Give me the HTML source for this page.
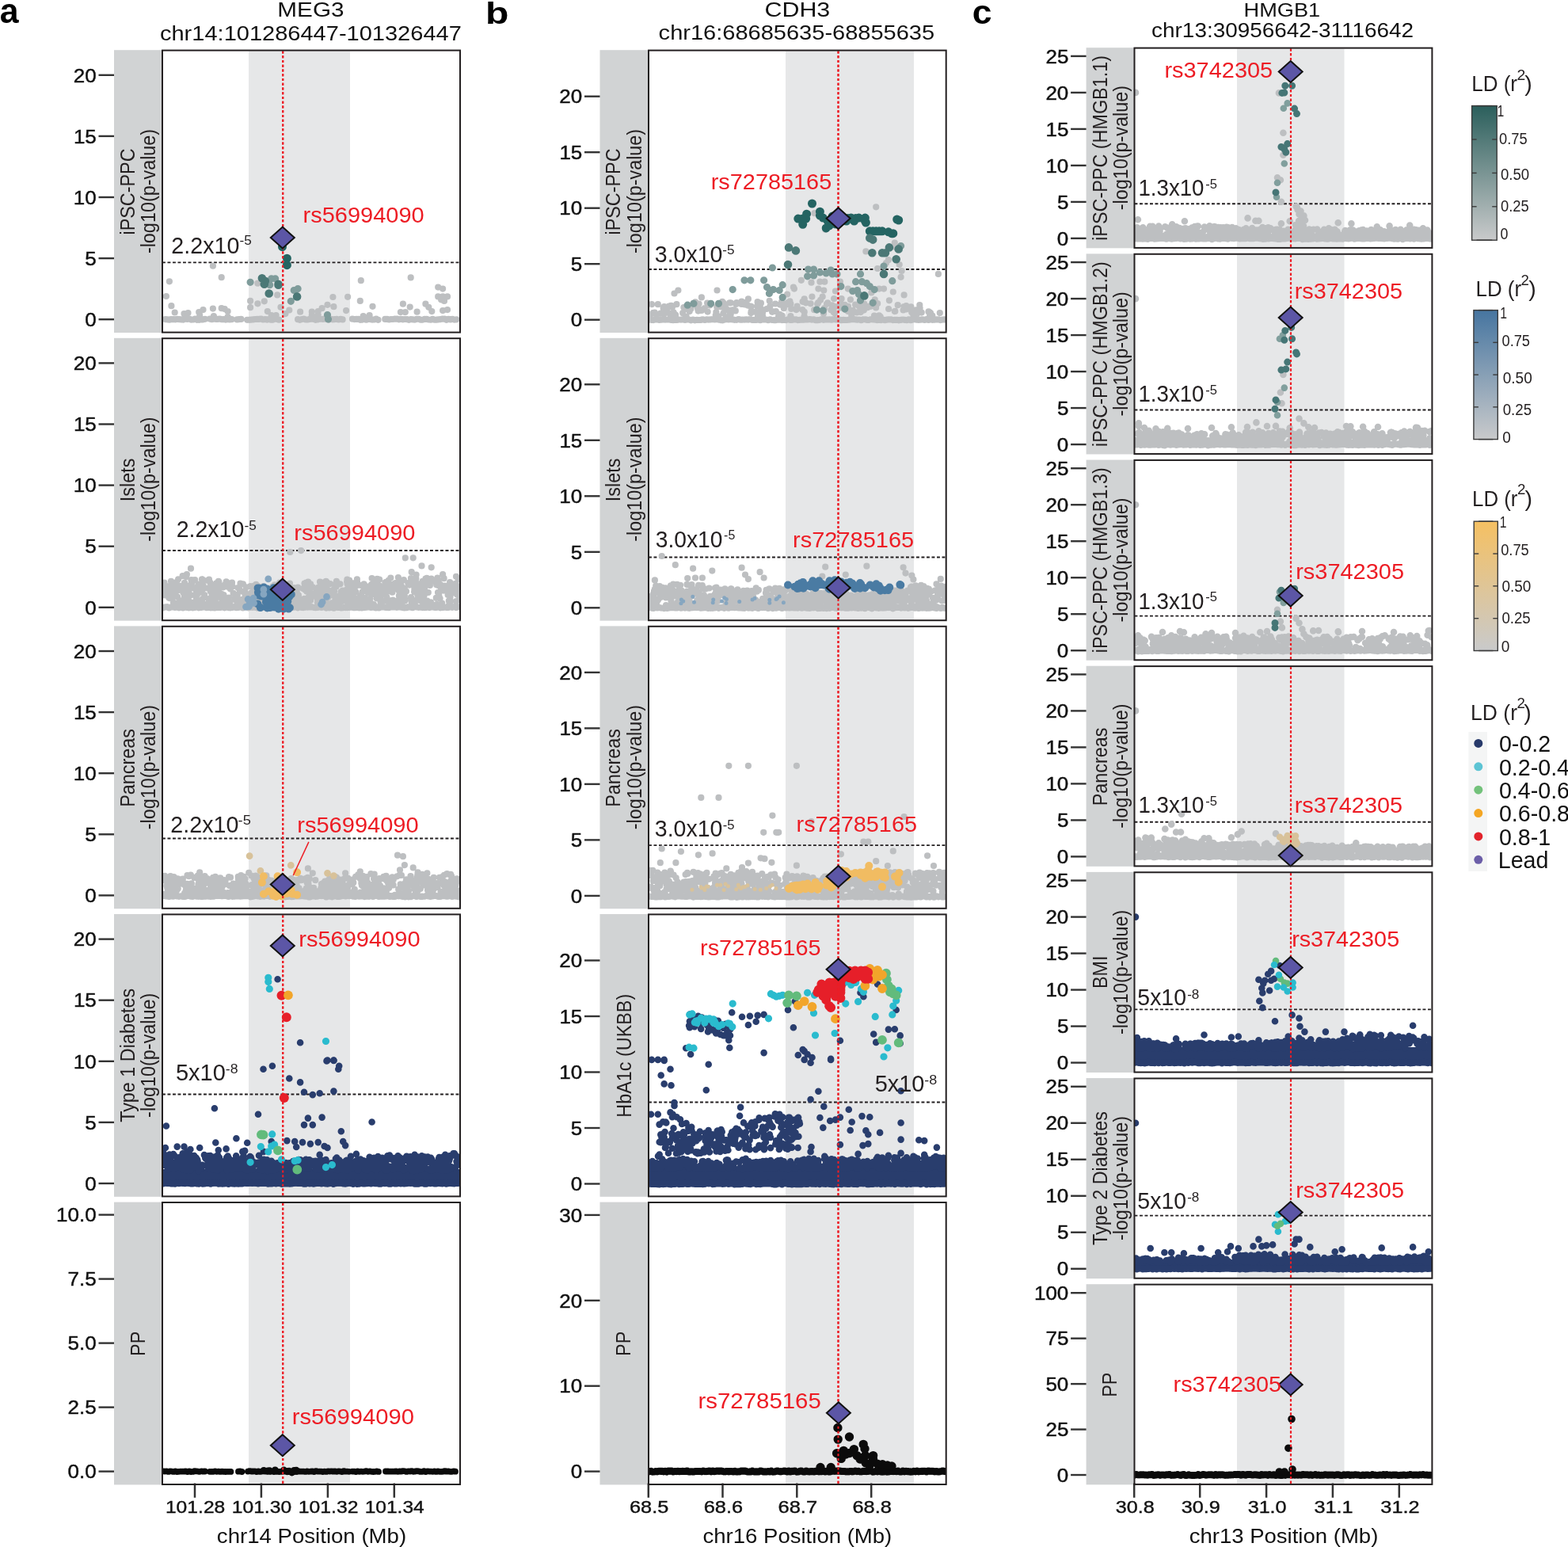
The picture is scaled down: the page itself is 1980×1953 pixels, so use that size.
<!DOCTYPE html>
<html><head><meta charset="utf-8"><style>
html,body{margin:0;padding:0;background:#fff;}
svg{display:block;}
text{font-family:"Liberation Sans",Arial,sans-serif;}
</style></head><body>
<svg width="1980" height="1953" viewBox="0 0 1980 1953">
<rect width="1980" height="1953" fill="#fff"/>
<rect x="144" y="63.2" width="62" height="356.8" fill="#d1d3d4"/>
<rect x="205" y="63.6" width="376" height="356" fill="#fff"/>
<rect x="314" y="64.6" width="128" height="354" fill="#e6e7e8"/>
<line x1="124.5" y1="403.2" x2="144" y2="403.2" stroke="#333" stroke-width="2.4"/>
<text transform="translate(107.24,411.9) scale(1.0700,1)" font-size="24.3" fill="#111" stroke="#111" stroke-width="0.45">0</text>
<line x1="124.5" y1="326.1" x2="144" y2="326.1" stroke="#333" stroke-width="2.4"/>
<text transform="translate(107.31,334.8) scale(1.0700,1)" font-size="24.3" fill="#111" stroke="#111" stroke-width="0.45">5</text>
<line x1="124.5" y1="249" x2="144" y2="249" stroke="#333" stroke-width="2.4"/>
<text transform="translate(92.81,257.7) scale(1.0700,1)" font-size="24.3" fill="#111" stroke="#111" stroke-width="0.45">10</text>
<line x1="124.5" y1="171.9" x2="144" y2="171.9" stroke="#333" stroke-width="2.4"/>
<text transform="translate(92.88,180.6) scale(1.0700,1)" font-size="24.3" fill="#111" stroke="#111" stroke-width="0.45">15</text>
<line x1="124.5" y1="94.8" x2="144" y2="94.8" stroke="#333" stroke-width="2.4"/>
<text transform="translate(92.81,103.5) scale(1.0700,1)" font-size="24.3" fill="#111" stroke="#111" stroke-width="0.45">20</text>
<line x1="357.2" y1="64.6" x2="357.2" y2="418.6" stroke="#ed1c24" stroke-width="2.1" stroke-dasharray="3.0 2.75"/>
<rect x="144" y="426.8" width="62" height="356.8" fill="#d1d3d4"/>
<rect x="205" y="427.2" width="376" height="356" fill="#fff"/>
<rect x="314" y="428.2" width="128" height="354" fill="#e6e7e8"/>
<line x1="124.5" y1="766.8" x2="144" y2="766.8" stroke="#333" stroke-width="2.4"/>
<text transform="translate(107.24,775.5) scale(1.0700,1)" font-size="24.3" fill="#111" stroke="#111" stroke-width="0.45">0</text>
<line x1="124.5" y1="689.7" x2="144" y2="689.7" stroke="#333" stroke-width="2.4"/>
<text transform="translate(107.31,698.4) scale(1.0700,1)" font-size="24.3" fill="#111" stroke="#111" stroke-width="0.45">5</text>
<line x1="124.5" y1="612.6" x2="144" y2="612.6" stroke="#333" stroke-width="2.4"/>
<text transform="translate(92.81,621.3) scale(1.0700,1)" font-size="24.3" fill="#111" stroke="#111" stroke-width="0.45">10</text>
<line x1="124.5" y1="535.5" x2="144" y2="535.5" stroke="#333" stroke-width="2.4"/>
<text transform="translate(92.88,544.2) scale(1.0700,1)" font-size="24.3" fill="#111" stroke="#111" stroke-width="0.45">15</text>
<line x1="124.5" y1="458.4" x2="144" y2="458.4" stroke="#333" stroke-width="2.4"/>
<text transform="translate(92.81,467.1) scale(1.0700,1)" font-size="24.3" fill="#111" stroke="#111" stroke-width="0.45">20</text>
<line x1="357.2" y1="428.2" x2="357.2" y2="782.2" stroke="#ed1c24" stroke-width="2.1" stroke-dasharray="3.0 2.75"/>
<rect x="144" y="790.4" width="62" height="356.8" fill="#d1d3d4"/>
<rect x="205" y="790.8" width="376" height="356" fill="#fff"/>
<rect x="314" y="791.8" width="128" height="354" fill="#e6e7e8"/>
<line x1="124.5" y1="1130.4" x2="144" y2="1130.4" stroke="#333" stroke-width="2.4"/>
<text transform="translate(107.24,1139.1) scale(1.0700,1)" font-size="24.3" fill="#111" stroke="#111" stroke-width="0.45">0</text>
<line x1="124.5" y1="1053.3" x2="144" y2="1053.3" stroke="#333" stroke-width="2.4"/>
<text transform="translate(107.31,1062) scale(1.0700,1)" font-size="24.3" fill="#111" stroke="#111" stroke-width="0.45">5</text>
<line x1="124.5" y1="976.2" x2="144" y2="976.2" stroke="#333" stroke-width="2.4"/>
<text transform="translate(92.81,984.9) scale(1.0700,1)" font-size="24.3" fill="#111" stroke="#111" stroke-width="0.45">10</text>
<line x1="124.5" y1="899.1" x2="144" y2="899.1" stroke="#333" stroke-width="2.4"/>
<text transform="translate(92.88,907.8) scale(1.0700,1)" font-size="24.3" fill="#111" stroke="#111" stroke-width="0.45">15</text>
<line x1="124.5" y1="822" x2="144" y2="822" stroke="#333" stroke-width="2.4"/>
<text transform="translate(92.81,830.7) scale(1.0700,1)" font-size="24.3" fill="#111" stroke="#111" stroke-width="0.45">20</text>
<line x1="357.2" y1="791.8" x2="357.2" y2="1145.8" stroke="#ed1c24" stroke-width="2.1" stroke-dasharray="3.0 2.75"/>
<rect x="144" y="1154" width="62" height="356.8" fill="#d1d3d4"/>
<rect x="205" y="1154.4" width="376" height="356" fill="#fff"/>
<rect x="314" y="1155.4" width="128" height="354" fill="#e6e7e8"/>
<line x1="124.5" y1="1494" x2="144" y2="1494" stroke="#333" stroke-width="2.4"/>
<text transform="translate(107.24,1502.7) scale(1.0700,1)" font-size="24.3" fill="#111" stroke="#111" stroke-width="0.45">0</text>
<line x1="124.5" y1="1416.9" x2="144" y2="1416.9" stroke="#333" stroke-width="2.4"/>
<text transform="translate(107.31,1425.6) scale(1.0700,1)" font-size="24.3" fill="#111" stroke="#111" stroke-width="0.45">5</text>
<line x1="124.5" y1="1339.8" x2="144" y2="1339.8" stroke="#333" stroke-width="2.4"/>
<text transform="translate(92.81,1348.5) scale(1.0700,1)" font-size="24.3" fill="#111" stroke="#111" stroke-width="0.45">10</text>
<line x1="124.5" y1="1262.7" x2="144" y2="1262.7" stroke="#333" stroke-width="2.4"/>
<text transform="translate(92.88,1271.4) scale(1.0700,1)" font-size="24.3" fill="#111" stroke="#111" stroke-width="0.45">15</text>
<line x1="124.5" y1="1185.6" x2="144" y2="1185.6" stroke="#333" stroke-width="2.4"/>
<text transform="translate(92.81,1194.3) scale(1.0700,1)" font-size="24.3" fill="#111" stroke="#111" stroke-width="0.45">20</text>
<line x1="357.2" y1="1155.4" x2="357.2" y2="1509.4" stroke="#ed1c24" stroke-width="2.1" stroke-dasharray="3.0 2.75"/>
<rect x="144" y="1517.6" width="62" height="356.8" fill="#d1d3d4"/>
<rect x="205" y="1518" width="376" height="356" fill="#fff"/>
<rect x="314" y="1519" width="128" height="354" fill="#e6e7e8"/>
<line x1="124.5" y1="1857.6" x2="144" y2="1857.6" stroke="#333" stroke-width="2.4"/>
<text transform="translate(85.53,1866.3) scale(1.0700,1)" font-size="24.3" fill="#111" stroke="#111" stroke-width="0.45">0.0</text>
<line x1="124.5" y1="1776.6" x2="144" y2="1776.6" stroke="#333" stroke-width="2.4"/>
<text transform="translate(85.6,1785.3) scale(1.0700,1)" font-size="24.3" fill="#111" stroke="#111" stroke-width="0.45">2.5</text>
<line x1="124.5" y1="1695.6" x2="144" y2="1695.6" stroke="#333" stroke-width="2.4"/>
<text transform="translate(85.53,1704.3) scale(1.0700,1)" font-size="24.3" fill="#111" stroke="#111" stroke-width="0.45">5.0</text>
<line x1="124.5" y1="1614.6" x2="144" y2="1614.6" stroke="#333" stroke-width="2.4"/>
<text transform="translate(85.6,1623.3) scale(1.0700,1)" font-size="24.3" fill="#111" stroke="#111" stroke-width="0.45">7.5</text>
<line x1="124.5" y1="1533.6" x2="144" y2="1533.6" stroke="#333" stroke-width="2.4"/>
<text transform="translate(71.1,1542.3) scale(1.0700,1)" font-size="24.3" fill="#111" stroke="#111" stroke-width="0.45">10.0</text>
<line x1="357.2" y1="1519" x2="357.2" y2="1873" stroke="#ed1c24" stroke-width="2.1" stroke-dasharray="3.0 2.75"/>
<rect x="757.5" y="63.2" width="62.3" height="356.8" fill="#d1d3d4"/>
<rect x="819" y="63.6" width="375.7" height="356" fill="#fff"/>
<rect x="992" y="64.6" width="162" height="354" fill="#e6e7e8"/>
<line x1="738" y1="403.7" x2="757.5" y2="403.7" stroke="#333" stroke-width="2.4"/>
<text transform="translate(720.74,412.4) scale(1.0700,1)" font-size="24.3" fill="#111" stroke="#111" stroke-width="0.45">0</text>
<line x1="738" y1="333.2" x2="757.5" y2="333.2" stroke="#333" stroke-width="2.4"/>
<text transform="translate(720.81,341.9) scale(1.0700,1)" font-size="24.3" fill="#111" stroke="#111" stroke-width="0.45">5</text>
<line x1="738" y1="262.7" x2="757.5" y2="262.7" stroke="#333" stroke-width="2.4"/>
<text transform="translate(706.31,271.4) scale(1.0700,1)" font-size="24.3" fill="#111" stroke="#111" stroke-width="0.45">10</text>
<line x1="738" y1="192.2" x2="757.5" y2="192.2" stroke="#333" stroke-width="2.4"/>
<text transform="translate(706.38,200.9) scale(1.0700,1)" font-size="24.3" fill="#111" stroke="#111" stroke-width="0.45">15</text>
<line x1="738" y1="121.7" x2="757.5" y2="121.7" stroke="#333" stroke-width="2.4"/>
<text transform="translate(706.31,130.4) scale(1.0700,1)" font-size="24.3" fill="#111" stroke="#111" stroke-width="0.45">20</text>
<line x1="1058.5" y1="64.6" x2="1058.5" y2="418.6" stroke="#ed1c24" stroke-width="2.1" stroke-dasharray="3.0 2.75"/>
<rect x="757.5" y="426.8" width="62.3" height="356.8" fill="#d1d3d4"/>
<rect x="819" y="427.2" width="375.7" height="356" fill="#fff"/>
<rect x="992" y="428.2" width="162" height="354" fill="#e6e7e8"/>
<line x1="738" y1="767.3" x2="757.5" y2="767.3" stroke="#333" stroke-width="2.4"/>
<text transform="translate(720.74,776) scale(1.0700,1)" font-size="24.3" fill="#111" stroke="#111" stroke-width="0.45">0</text>
<line x1="738" y1="696.8" x2="757.5" y2="696.8" stroke="#333" stroke-width="2.4"/>
<text transform="translate(720.81,705.5) scale(1.0700,1)" font-size="24.3" fill="#111" stroke="#111" stroke-width="0.45">5</text>
<line x1="738" y1="626.3" x2="757.5" y2="626.3" stroke="#333" stroke-width="2.4"/>
<text transform="translate(706.31,635) scale(1.0700,1)" font-size="24.3" fill="#111" stroke="#111" stroke-width="0.45">10</text>
<line x1="738" y1="555.8" x2="757.5" y2="555.8" stroke="#333" stroke-width="2.4"/>
<text transform="translate(706.38,564.5) scale(1.0700,1)" font-size="24.3" fill="#111" stroke="#111" stroke-width="0.45">15</text>
<line x1="738" y1="485.3" x2="757.5" y2="485.3" stroke="#333" stroke-width="2.4"/>
<text transform="translate(706.31,494) scale(1.0700,1)" font-size="24.3" fill="#111" stroke="#111" stroke-width="0.45">20</text>
<line x1="1058.5" y1="428.2" x2="1058.5" y2="782.2" stroke="#ed1c24" stroke-width="2.1" stroke-dasharray="3.0 2.75"/>
<rect x="757.5" y="790.4" width="62.3" height="356.8" fill="#d1d3d4"/>
<rect x="819" y="790.8" width="375.7" height="356" fill="#fff"/>
<rect x="992" y="791.8" width="162" height="354" fill="#e6e7e8"/>
<line x1="738" y1="1130.9" x2="757.5" y2="1130.9" stroke="#333" stroke-width="2.4"/>
<text transform="translate(720.74,1139.6) scale(1.0700,1)" font-size="24.3" fill="#111" stroke="#111" stroke-width="0.45">0</text>
<line x1="738" y1="1060.4" x2="757.5" y2="1060.4" stroke="#333" stroke-width="2.4"/>
<text transform="translate(720.81,1069.1) scale(1.0700,1)" font-size="24.3" fill="#111" stroke="#111" stroke-width="0.45">5</text>
<line x1="738" y1="989.9" x2="757.5" y2="989.9" stroke="#333" stroke-width="2.4"/>
<text transform="translate(706.31,998.6) scale(1.0700,1)" font-size="24.3" fill="#111" stroke="#111" stroke-width="0.45">10</text>
<line x1="738" y1="919.4" x2="757.5" y2="919.4" stroke="#333" stroke-width="2.4"/>
<text transform="translate(706.38,928.1) scale(1.0700,1)" font-size="24.3" fill="#111" stroke="#111" stroke-width="0.45">15</text>
<line x1="738" y1="848.9" x2="757.5" y2="848.9" stroke="#333" stroke-width="2.4"/>
<text transform="translate(706.31,857.6) scale(1.0700,1)" font-size="24.3" fill="#111" stroke="#111" stroke-width="0.45">20</text>
<line x1="1058.5" y1="791.8" x2="1058.5" y2="1145.8" stroke="#ed1c24" stroke-width="2.1" stroke-dasharray="3.0 2.75"/>
<rect x="757.5" y="1154" width="62.3" height="356.8" fill="#d1d3d4"/>
<rect x="819" y="1154.4" width="375.7" height="356" fill="#fff"/>
<rect x="992" y="1155.4" width="162" height="354" fill="#e6e7e8"/>
<line x1="738" y1="1494.5" x2="757.5" y2="1494.5" stroke="#333" stroke-width="2.4"/>
<text transform="translate(720.74,1503.2) scale(1.0700,1)" font-size="24.3" fill="#111" stroke="#111" stroke-width="0.45">0</text>
<line x1="738" y1="1424" x2="757.5" y2="1424" stroke="#333" stroke-width="2.4"/>
<text transform="translate(720.81,1432.7) scale(1.0700,1)" font-size="24.3" fill="#111" stroke="#111" stroke-width="0.45">5</text>
<line x1="738" y1="1353.5" x2="757.5" y2="1353.5" stroke="#333" stroke-width="2.4"/>
<text transform="translate(706.31,1362.2) scale(1.0700,1)" font-size="24.3" fill="#111" stroke="#111" stroke-width="0.45">10</text>
<line x1="738" y1="1283" x2="757.5" y2="1283" stroke="#333" stroke-width="2.4"/>
<text transform="translate(706.38,1291.7) scale(1.0700,1)" font-size="24.3" fill="#111" stroke="#111" stroke-width="0.45">15</text>
<line x1="738" y1="1212.5" x2="757.5" y2="1212.5" stroke="#333" stroke-width="2.4"/>
<text transform="translate(706.31,1221.2) scale(1.0700,1)" font-size="24.3" fill="#111" stroke="#111" stroke-width="0.45">20</text>
<line x1="1058.5" y1="1155.4" x2="1058.5" y2="1509.4" stroke="#ed1c24" stroke-width="2.1" stroke-dasharray="3.0 2.75"/>
<rect x="757.5" y="1517.6" width="62.3" height="356.8" fill="#d1d3d4"/>
<rect x="819" y="1518" width="375.7" height="356" fill="#fff"/>
<rect x="992" y="1519" width="162" height="354" fill="#e6e7e8"/>
<line x1="738" y1="1857.6" x2="757.5" y2="1857.6" stroke="#333" stroke-width="2.4"/>
<text transform="translate(720.74,1866.3) scale(1.0700,1)" font-size="24.3" fill="#111" stroke="#111" stroke-width="0.45">0</text>
<line x1="738" y1="1749.7" x2="757.5" y2="1749.7" stroke="#333" stroke-width="2.4"/>
<text transform="translate(706.31,1758.4) scale(1.0700,1)" font-size="24.3" fill="#111" stroke="#111" stroke-width="0.45">10</text>
<line x1="738" y1="1641.8" x2="757.5" y2="1641.8" stroke="#333" stroke-width="2.4"/>
<text transform="translate(706.31,1650.5) scale(1.0700,1)" font-size="24.3" fill="#111" stroke="#111" stroke-width="0.45">20</text>
<line x1="738" y1="1533.9" x2="757.5" y2="1533.9" stroke="#333" stroke-width="2.4"/>
<text transform="translate(706.31,1542.6) scale(1.0700,1)" font-size="24.3" fill="#111" stroke="#111" stroke-width="0.45">30</text>
<line x1="1058.5" y1="1519" x2="1058.5" y2="1873" stroke="#ed1c24" stroke-width="2.1" stroke-dasharray="3.0 2.75"/>
<rect x="1371.6" y="60.2" width="61.7" height="253.1" fill="#d1d3d4"/>
<rect x="1432.5" y="60.6" width="375.9" height="252.3" fill="#fff"/>
<rect x="1562" y="61.6" width="135.5" height="250.3" fill="#e6e7e8"/>
<line x1="1352.1" y1="300.9" x2="1371.6" y2="300.9" stroke="#333" stroke-width="2.4"/>
<text transform="translate(1334.84,309.6) scale(1.0700,1)" font-size="24.3" fill="#111" stroke="#111" stroke-width="0.45">0</text>
<line x1="1352.1" y1="254.9" x2="1371.6" y2="254.9" stroke="#333" stroke-width="2.4"/>
<text transform="translate(1334.91,263.6) scale(1.0700,1)" font-size="24.3" fill="#111" stroke="#111" stroke-width="0.45">5</text>
<line x1="1352.1" y1="208.9" x2="1371.6" y2="208.9" stroke="#333" stroke-width="2.4"/>
<text transform="translate(1320.41,217.6) scale(1.0700,1)" font-size="24.3" fill="#111" stroke="#111" stroke-width="0.45">10</text>
<line x1="1352.1" y1="162.9" x2="1371.6" y2="162.9" stroke="#333" stroke-width="2.4"/>
<text transform="translate(1320.48,171.6) scale(1.0700,1)" font-size="24.3" fill="#111" stroke="#111" stroke-width="0.45">15</text>
<line x1="1352.1" y1="116.9" x2="1371.6" y2="116.9" stroke="#333" stroke-width="2.4"/>
<text transform="translate(1320.41,125.6) scale(1.0700,1)" font-size="24.3" fill="#111" stroke="#111" stroke-width="0.45">20</text>
<line x1="1352.1" y1="70.9" x2="1371.6" y2="70.9" stroke="#333" stroke-width="2.4"/>
<text transform="translate(1320.48,79.6) scale(1.0700,1)" font-size="24.3" fill="#111" stroke="#111" stroke-width="0.45">25</text>
<line x1="1630" y1="61.6" x2="1630" y2="311.9" stroke="#ed1c24" stroke-width="2.1" stroke-dasharray="3.0 2.75"/>
<rect x="1371.6" y="320.37" width="61.7" height="253.1" fill="#d1d3d4"/>
<rect x="1432.5" y="320.77" width="375.9" height="252.3" fill="#fff"/>
<rect x="1562" y="321.77" width="135.5" height="250.3" fill="#e6e7e8"/>
<line x1="1352.1" y1="561.07" x2="1371.6" y2="561.07" stroke="#333" stroke-width="2.4"/>
<text transform="translate(1334.84,569.77) scale(1.0700,1)" font-size="24.3" fill="#111" stroke="#111" stroke-width="0.45">0</text>
<line x1="1352.1" y1="515.07" x2="1371.6" y2="515.07" stroke="#333" stroke-width="2.4"/>
<text transform="translate(1334.91,523.77) scale(1.0700,1)" font-size="24.3" fill="#111" stroke="#111" stroke-width="0.45">5</text>
<line x1="1352.1" y1="469.07" x2="1371.6" y2="469.07" stroke="#333" stroke-width="2.4"/>
<text transform="translate(1320.41,477.77) scale(1.0700,1)" font-size="24.3" fill="#111" stroke="#111" stroke-width="0.45">10</text>
<line x1="1352.1" y1="423.07" x2="1371.6" y2="423.07" stroke="#333" stroke-width="2.4"/>
<text transform="translate(1320.48,431.77) scale(1.0700,1)" font-size="24.3" fill="#111" stroke="#111" stroke-width="0.45">15</text>
<line x1="1352.1" y1="377.07" x2="1371.6" y2="377.07" stroke="#333" stroke-width="2.4"/>
<text transform="translate(1320.41,385.77) scale(1.0700,1)" font-size="24.3" fill="#111" stroke="#111" stroke-width="0.45">20</text>
<line x1="1352.1" y1="331.07" x2="1371.6" y2="331.07" stroke="#333" stroke-width="2.4"/>
<text transform="translate(1320.48,339.77) scale(1.0700,1)" font-size="24.3" fill="#111" stroke="#111" stroke-width="0.45">25</text>
<line x1="1630" y1="321.77" x2="1630" y2="572.07" stroke="#ed1c24" stroke-width="2.1" stroke-dasharray="3.0 2.75"/>
<rect x="1371.6" y="580.54" width="61.7" height="253.1" fill="#d1d3d4"/>
<rect x="1432.5" y="580.94" width="375.9" height="252.3" fill="#fff"/>
<rect x="1562" y="581.94" width="135.5" height="250.3" fill="#e6e7e8"/>
<line x1="1352.1" y1="821.24" x2="1371.6" y2="821.24" stroke="#333" stroke-width="2.4"/>
<text transform="translate(1334.84,829.94) scale(1.0700,1)" font-size="24.3" fill="#111" stroke="#111" stroke-width="0.45">0</text>
<line x1="1352.1" y1="775.24" x2="1371.6" y2="775.24" stroke="#333" stroke-width="2.4"/>
<text transform="translate(1334.91,783.94) scale(1.0700,1)" font-size="24.3" fill="#111" stroke="#111" stroke-width="0.45">5</text>
<line x1="1352.1" y1="729.24" x2="1371.6" y2="729.24" stroke="#333" stroke-width="2.4"/>
<text transform="translate(1320.41,737.94) scale(1.0700,1)" font-size="24.3" fill="#111" stroke="#111" stroke-width="0.45">10</text>
<line x1="1352.1" y1="683.24" x2="1371.6" y2="683.24" stroke="#333" stroke-width="2.4"/>
<text transform="translate(1320.48,691.94) scale(1.0700,1)" font-size="24.3" fill="#111" stroke="#111" stroke-width="0.45">15</text>
<line x1="1352.1" y1="637.24" x2="1371.6" y2="637.24" stroke="#333" stroke-width="2.4"/>
<text transform="translate(1320.41,645.94) scale(1.0700,1)" font-size="24.3" fill="#111" stroke="#111" stroke-width="0.45">20</text>
<line x1="1352.1" y1="591.24" x2="1371.6" y2="591.24" stroke="#333" stroke-width="2.4"/>
<text transform="translate(1320.48,599.94) scale(1.0700,1)" font-size="24.3" fill="#111" stroke="#111" stroke-width="0.45">25</text>
<line x1="1630" y1="581.94" x2="1630" y2="832.24" stroke="#ed1c24" stroke-width="2.1" stroke-dasharray="3.0 2.75"/>
<rect x="1371.6" y="840.71" width="61.7" height="253.1" fill="#d1d3d4"/>
<rect x="1432.5" y="841.11" width="375.9" height="252.3" fill="#fff"/>
<rect x="1562" y="842.11" width="135.5" height="250.3" fill="#e6e7e8"/>
<line x1="1352.1" y1="1081.41" x2="1371.6" y2="1081.41" stroke="#333" stroke-width="2.4"/>
<text transform="translate(1334.84,1090.11) scale(1.0700,1)" font-size="24.3" fill="#111" stroke="#111" stroke-width="0.45">0</text>
<line x1="1352.1" y1="1035.41" x2="1371.6" y2="1035.41" stroke="#333" stroke-width="2.4"/>
<text transform="translate(1334.91,1044.11) scale(1.0700,1)" font-size="24.3" fill="#111" stroke="#111" stroke-width="0.45">5</text>
<line x1="1352.1" y1="989.41" x2="1371.6" y2="989.41" stroke="#333" stroke-width="2.4"/>
<text transform="translate(1320.41,998.11) scale(1.0700,1)" font-size="24.3" fill="#111" stroke="#111" stroke-width="0.45">10</text>
<line x1="1352.1" y1="943.41" x2="1371.6" y2="943.41" stroke="#333" stroke-width="2.4"/>
<text transform="translate(1320.48,952.11) scale(1.0700,1)" font-size="24.3" fill="#111" stroke="#111" stroke-width="0.45">15</text>
<line x1="1352.1" y1="897.41" x2="1371.6" y2="897.41" stroke="#333" stroke-width="2.4"/>
<text transform="translate(1320.41,906.11) scale(1.0700,1)" font-size="24.3" fill="#111" stroke="#111" stroke-width="0.45">20</text>
<line x1="1352.1" y1="851.41" x2="1371.6" y2="851.41" stroke="#333" stroke-width="2.4"/>
<text transform="translate(1320.48,860.11) scale(1.0700,1)" font-size="24.3" fill="#111" stroke="#111" stroke-width="0.45">25</text>
<line x1="1630" y1="842.11" x2="1630" y2="1092.41" stroke="#ed1c24" stroke-width="2.1" stroke-dasharray="3.0 2.75"/>
<rect x="1371.6" y="1100.88" width="61.7" height="253.1" fill="#d1d3d4"/>
<rect x="1432.5" y="1101.28" width="375.9" height="252.3" fill="#fff"/>
<rect x="1562" y="1102.28" width="135.5" height="250.3" fill="#e6e7e8"/>
<line x1="1352.1" y1="1341.58" x2="1371.6" y2="1341.58" stroke="#333" stroke-width="2.4"/>
<text transform="translate(1334.84,1350.28) scale(1.0700,1)" font-size="24.3" fill="#111" stroke="#111" stroke-width="0.45">0</text>
<line x1="1352.1" y1="1295.58" x2="1371.6" y2="1295.58" stroke="#333" stroke-width="2.4"/>
<text transform="translate(1334.91,1304.28) scale(1.0700,1)" font-size="24.3" fill="#111" stroke="#111" stroke-width="0.45">5</text>
<line x1="1352.1" y1="1249.58" x2="1371.6" y2="1249.58" stroke="#333" stroke-width="2.4"/>
<text transform="translate(1320.41,1258.28) scale(1.0700,1)" font-size="24.3" fill="#111" stroke="#111" stroke-width="0.45">10</text>
<line x1="1352.1" y1="1203.58" x2="1371.6" y2="1203.58" stroke="#333" stroke-width="2.4"/>
<text transform="translate(1320.48,1212.28) scale(1.0700,1)" font-size="24.3" fill="#111" stroke="#111" stroke-width="0.45">15</text>
<line x1="1352.1" y1="1157.58" x2="1371.6" y2="1157.58" stroke="#333" stroke-width="2.4"/>
<text transform="translate(1320.41,1166.28) scale(1.0700,1)" font-size="24.3" fill="#111" stroke="#111" stroke-width="0.45">20</text>
<line x1="1352.1" y1="1111.58" x2="1371.6" y2="1111.58" stroke="#333" stroke-width="2.4"/>
<text transform="translate(1320.48,1120.28) scale(1.0700,1)" font-size="24.3" fill="#111" stroke="#111" stroke-width="0.45">25</text>
<line x1="1630" y1="1102.28" x2="1630" y2="1352.58" stroke="#ed1c24" stroke-width="2.1" stroke-dasharray="3.0 2.75"/>
<rect x="1371.6" y="1361.05" width="61.7" height="253.1" fill="#d1d3d4"/>
<rect x="1432.5" y="1361.45" width="375.9" height="252.3" fill="#fff"/>
<rect x="1562" y="1362.45" width="135.5" height="250.3" fill="#e6e7e8"/>
<line x1="1352.1" y1="1601.75" x2="1371.6" y2="1601.75" stroke="#333" stroke-width="2.4"/>
<text transform="translate(1334.84,1610.45) scale(1.0700,1)" font-size="24.3" fill="#111" stroke="#111" stroke-width="0.45">0</text>
<line x1="1352.1" y1="1555.75" x2="1371.6" y2="1555.75" stroke="#333" stroke-width="2.4"/>
<text transform="translate(1334.91,1564.45) scale(1.0700,1)" font-size="24.3" fill="#111" stroke="#111" stroke-width="0.45">5</text>
<line x1="1352.1" y1="1509.75" x2="1371.6" y2="1509.75" stroke="#333" stroke-width="2.4"/>
<text transform="translate(1320.41,1518.45) scale(1.0700,1)" font-size="24.3" fill="#111" stroke="#111" stroke-width="0.45">10</text>
<line x1="1352.1" y1="1463.75" x2="1371.6" y2="1463.75" stroke="#333" stroke-width="2.4"/>
<text transform="translate(1320.48,1472.45) scale(1.0700,1)" font-size="24.3" fill="#111" stroke="#111" stroke-width="0.45">15</text>
<line x1="1352.1" y1="1417.75" x2="1371.6" y2="1417.75" stroke="#333" stroke-width="2.4"/>
<text transform="translate(1320.41,1426.45) scale(1.0700,1)" font-size="24.3" fill="#111" stroke="#111" stroke-width="0.45">20</text>
<line x1="1352.1" y1="1371.75" x2="1371.6" y2="1371.75" stroke="#333" stroke-width="2.4"/>
<text transform="translate(1320.48,1380.45) scale(1.0700,1)" font-size="24.3" fill="#111" stroke="#111" stroke-width="0.45">25</text>
<line x1="1630" y1="1362.45" x2="1630" y2="1612.75" stroke="#ed1c24" stroke-width="2.1" stroke-dasharray="3.0 2.75"/>
<rect x="1371.6" y="1621.22" width="61.7" height="253.1" fill="#d1d3d4"/>
<rect x="1432.5" y="1621.62" width="375.9" height="252.3" fill="#fff"/>
<rect x="1562" y="1622.62" width="135.5" height="250.3" fill="#e6e7e8"/>
<line x1="1352.1" y1="1862.02" x2="1371.6" y2="1862.02" stroke="#333" stroke-width="2.4"/>
<text transform="translate(1334.84,1870.72) scale(1.0700,1)" font-size="24.3" fill="#111" stroke="#111" stroke-width="0.45">0</text>
<line x1="1352.1" y1="1804.57" x2="1371.6" y2="1804.57" stroke="#333" stroke-width="2.4"/>
<text transform="translate(1320.48,1813.27) scale(1.0700,1)" font-size="24.3" fill="#111" stroke="#111" stroke-width="0.45">25</text>
<line x1="1352.1" y1="1747.12" x2="1371.6" y2="1747.12" stroke="#333" stroke-width="2.4"/>
<text transform="translate(1320.41,1755.82) scale(1.0700,1)" font-size="24.3" fill="#111" stroke="#111" stroke-width="0.45">50</text>
<line x1="1352.1" y1="1689.67" x2="1371.6" y2="1689.67" stroke="#333" stroke-width="2.4"/>
<text transform="translate(1320.48,1698.37) scale(1.0700,1)" font-size="24.3" fill="#111" stroke="#111" stroke-width="0.45">75</text>
<line x1="1352.1" y1="1632.22" x2="1371.6" y2="1632.22" stroke="#333" stroke-width="2.4"/>
<text transform="translate(1305.92,1640.92) scale(1.0700,1)" font-size="24.3" fill="#111" stroke="#111" stroke-width="0.45">100</text>
<line x1="1630" y1="1622.62" x2="1630" y2="1872.92" stroke="#ed1c24" stroke-width="2.1" stroke-dasharray="3.0 2.75"/>
<line x1="205" y1="331.34" x2="581" y2="331.34" stroke="#231f20" stroke-width="1.9" stroke-dasharray="3.9 2.6"/>
<line x1="205" y1="694.94" x2="581" y2="694.94" stroke="#231f20" stroke-width="1.9" stroke-dasharray="3.9 2.6"/>
<line x1="205" y1="1058.54" x2="581" y2="1058.54" stroke="#231f20" stroke-width="1.9" stroke-dasharray="3.9 2.6"/>
<line x1="205" y1="1381.43" x2="581" y2="1381.43" stroke="#231f20" stroke-width="1.9" stroke-dasharray="3.9 2.6"/>
<line x1="819" y1="339.97" x2="1194.7" y2="339.97" stroke="#231f20" stroke-width="1.9" stroke-dasharray="3.9 2.6"/>
<line x1="819" y1="703.57" x2="1194.7" y2="703.57" stroke="#231f20" stroke-width="1.9" stroke-dasharray="3.9 2.6"/>
<line x1="819" y1="1067.17" x2="1194.7" y2="1067.17" stroke="#231f20" stroke-width="1.9" stroke-dasharray="3.9 2.6"/>
<line x1="819" y1="1391.57" x2="1194.7" y2="1391.57" stroke="#231f20" stroke-width="1.9" stroke-dasharray="3.9 2.6"/>
<line x1="1432.5" y1="257.29" x2="1808.4" y2="257.29" stroke="#231f20" stroke-width="1.9" stroke-dasharray="3.9 2.6"/>
<line x1="1432.5" y1="517.46" x2="1808.4" y2="517.46" stroke="#231f20" stroke-width="1.9" stroke-dasharray="3.9 2.6"/>
<line x1="1432.5" y1="777.63" x2="1808.4" y2="777.63" stroke="#231f20" stroke-width="1.9" stroke-dasharray="3.9 2.6"/>
<line x1="1432.5" y1="1037.8" x2="1808.4" y2="1037.8" stroke="#231f20" stroke-width="1.9" stroke-dasharray="3.9 2.6"/>
<line x1="1432.5" y1="1274.42" x2="1808.4" y2="1274.42" stroke="#231f20" stroke-width="1.9" stroke-dasharray="3.9 2.6"/>
<line x1="1432.5" y1="1534.59" x2="1808.4" y2="1534.59" stroke="#231f20" stroke-width="1.9" stroke-dasharray="3.9 2.6"/>
<svg x="205" y="63.6" width="376" height="356" viewBox="205 63.6 376 356" overflow="hidden">
<path d="M208.9 403.1h0M211.4 403.3h0M213.9 403.7h0M216.4 403.2h0M218.9 403.2h0M221.4 403.3h0M223.9 402.8h0M226.4 403.2h0M228.9 403.4h0M231.4 403.6h0M233.9 402.7h0M236.4 403.0h0M238.9 402.7h0M241.4 403.6h0M243.9 403.4h0M246.4 402.7h0M248.9 403.8h0M251.4 403.8h0M253.9 403.4h0M256.4 403.3h0M258.9 402.8h0M265.0 402.6h0M267.5 403.2h0M270.0 402.7h0M272.5 402.8h0M275.0 402.9h0M277.5 402.6h0M280.0 403.2h0M282.5 403.1h0M285.0 403.6h0M287.5 403.2h0M290.0 403.4h0M292.5 403.2h0M299.4 403.4h0M301.9 403.1h0M304.4 402.9h0M312.2 403.8h0M314.7 403.8h0M317.2 403.6h0M319.7 403.4h0M322.2 403.0h0M324.7 402.9h0M327.2 402.9h0M329.7 402.7h0M332.2 403.5h0M334.7 403.1h0M337.2 403.6h0M339.7 403.1h0M342.2 403.7h0M344.7 403.6h0M347.2 402.6h0M349.7 402.9h0M352.2 403.7h0M376.1 403.2h0M378.6 403.8h0M381.1 403.1h0M383.6 402.7h0M386.1 403.4h0M388.6 403.5h0M391.1 402.9h0M393.6 402.7h0M396.1 403.0h0M398.6 403.8h0M401.1 403.5h0M403.6 402.7h0M407.6 402.9h0M410.1 402.7h0M412.6 402.7h0M415.1 403.6h0M417.6 402.8h0M420.1 403.3h0M422.6 403.1h0M425.1 402.8h0M427.6 403.5h0M430.1 402.8h0M432.6 403.4h0M445.0 402.7h0M447.5 403.1h0M450.0 402.9h0M452.5 402.9h0M455.0 403.8h0M457.5 403.6h0M460.0 403.0h0M462.5 403.7h0M465.0 402.9h0M467.5 403.1h0M470.0 403.6h0M472.5 403.4h0M475.0 402.7h0M477.5 403.8h0M486.3 402.9h0M488.8 402.9h0M491.3 403.5h0M493.8 403.0h0M496.3 403.0h0M498.8 402.7h0M501.3 402.7h0M503.8 403.3h0M506.3 402.9h0M508.8 403.3h0M511.3 403.0h0M513.8 403.1h0M516.3 403.8h0M518.8 403.2h0M521.3 403.3h0M523.8 403.6h0M526.3 402.8h0M528.8 402.8h0M531.3 403.7h0M533.8 403.6h0M536.3 402.9h0M538.8 402.8h0M541.3 403.5h0M543.8 403.7h0M546.3 402.8h0M548.8 403.7h0M551.3 403.7h0M553.8 403.3h0M556.3 403.1h0M558.8 402.7h0M561.3 402.6h0M563.8 403.8h0M566.3 402.9h0M568.8 403.4h0M571.3 402.9h0M573.8 403.6h0M576.3 403.3h0M213.9 355.3h0M209.9 374.0h0M216.4 386.2h0M220.7 394.5h0M232.5 396.1h0M237.5 395.1h0M251.2 394.1h0M256.5 391.1h0M268.9 335.7h0M279.7 350.2h0M268.9 389.6h0M279.7 389.2h0M283.7 390.1h0M287.6 393.1h0M316.1 379.9h0M316.1 388.2h0M325.4 383.3h0M325.4 357.7h0M333.8 380.3h0M337.8 393.1h0M350.2 372.4h0M354.5 387.8h0M360.4 396.1h0M365.3 391.5h0M379.1 393.7h0M393.8 393.7h0M401.7 393.1h0M406.6 389.2h0M413.5 384.8h0M420.4 375.0h0M421.4 387.2h0M439.1 374.8h0M437.1 392.1h0M454.8 379.9h0M455.8 354.2h0M470.5 386.8h0M508.9 383.7h0M517.7 387.6h0M526.6 393.7h0M518.7 350.4h0M537.4 383.7h0M541.3 387.8h0M545.3 393.1h0M553.2 362.6h0M559.1 364.6h0M553.2 374.4h0M559.1 374.4h0M565.0 374.4h0M557.1 378.3h0M561.0 379.9h0M559.1 392.1h0M565.0 391.1h0M505.9 394.1h0M511.8 394.1h0M458.7 399.0h0M466.6 398.0h0M234.5 398.0h0M252.2 398.0h0M269.9 399.0h0M287.6 400.0h0M342.7 398.0h0M348.6 398.0h0M393.8 398.0h0M401.7 397.6h0" stroke="#bdbfc1" stroke-width="8.2" stroke-linecap="round" fill="none"/>
<path d="M316.1 356.3h0M342.7 351.8h0M347.6 351.8h0M371.2 366.5h0M376.1 364.6h0M367.3 380.3h0M413.5 397.6h0M414.5 402.9h0M340.7 359.7h0" stroke="#7f9c9b" stroke-width="9.2" stroke-linecap="round" fill="none"/>
<path d="M330.9 351.2h0M333.8 358.7h0M351.5 358.7h0M375.1 374.4h0M339.7 370.5h0M334.8 354.7h0M351.5 359.7h0" stroke="#4b7876" stroke-width="10.6" stroke-linecap="round" fill="none"/>
<path d="M356.5 311.5h0M362.4 326.2h0M362.4 334.7h0" stroke="#246462" stroke-width="11.0" stroke-linecap="round" fill="none"/>
</svg>
<svg x="205" y="427.2" width="376" height="356" viewBox="205 427.2 376 356" overflow="hidden">
<path d="M267.7 756.6h0M443.5 748.5h0M286.8 760.7h0M508.1 748.6h0M394.9 741.4h0M207.2 745.6h0M424.9 733.9h0M502.9 737.8h0M293.0 735.7h0M579.1 757.4h0M533.3 752.3h0M218.7 742.2h0M392.1 737.4h0M562.0 741.5h0M263.9 761.2h0M252.7 765.1h0M375.5 752.8h0M334.3 751.8h0M275.9 733.9h0M529.8 737.0h0M497.8 737.0h0M568.3 763.5h0M488.3 758.7h0M423.2 758.0h0M251.8 748.0h0M515.3 736.2h0M551.3 763.1h0M359.2 747.0h0M374.8 747.2h0M578.1 743.2h0M216.0 733.8h0M474.6 767.5h0M391.5 750.3h0M411.9 758.8h0M289.0 754.5h0M414.1 754.3h0M273.6 738.4h0M336.2 765.5h0M335.6 755.2h0M320.7 739.6h0M230.6 760.2h0M496.6 743.5h0M461.6 755.6h0M542.1 766.1h0M358.2 767.4h0M565.6 750.9h0M536.3 747.1h0M346.5 743.8h0M533.7 733.9h0M231.9 759.9h0M495.4 747.7h0M519.0 730.1h0M302.5 744.6h0M362.9 740.5h0M232.0 741.0h0M542.3 767.1h0M484.9 747.8h0M300.3 766.5h0M402.6 758.3h0M216.6 738.2h0M519.5 759.7h0M535.7 751.6h0M365.4 753.9h0M523.7 740.1h0M405.8 742.3h0M493.3 729.5h0M462.3 766.1h0M214.8 752.7h0M446.8 762.3h0M424.5 740.7h0M357.7 766.5h0M544.7 732.2h0M241.5 732.2h0M215.5 747.2h0M258.7 762.9h0M451.1 735.2h0M407.5 743.9h0M390.7 741.0h0M268.1 738.4h0M347.3 758.5h0M411.7 733.9h0M471.9 763.0h0M495.6 759.7h0M208.9 748.6h0M229.7 758.2h0M271.6 757.5h0M300.6 757.9h0M323.3 737.9h0M351.4 745.5h0M542.9 738.9h0M394.2 752.2h0M560.6 730.2h0M430.8 749.7h0M480.7 766.5h0M322.0 758.4h0M402.6 752.4h0M229.8 760.2h0M571.3 741.5h0M325.0 767.6h0M246.2 732.1h0M233.4 760.3h0M490.2 746.5h0M438.4 731.5h0M447.1 747.1h0M399.5 746.6h0M356.2 742.6h0M224.3 745.5h0M298.4 758.0h0M511.7 756.9h0M376.5 742.1h0M350.1 751.3h0M442.3 766.4h0M237.9 747.1h0M390.0 758.1h0M539.0 758.8h0M440.4 758.9h0M455.8 762.5h0M467.4 755.8h0M297.7 765.0h0M350.3 755.4h0M514.5 766.4h0M576.0 727.8h0M322.9 746.3h0M352.3 740.2h0M412.9 735.0h0M319.2 766.0h0M483.6 747.2h0M246.5 766.1h0M469.3 737.8h0M331.4 756.7h0M460.9 740.0h0M561.8 739.6h0M301.1 762.7h0M263.4 756.2h0M280.8 753.8h0M309.8 747.8h0M557.8 745.6h0M369.4 755.1h0M311.0 741.3h0M349.9 744.4h0M276.5 766.4h0M218.9 760.6h0M555.6 755.5h0M213.1 749.5h0M220.7 752.7h0M468.0 739.1h0M208.8 751.5h0M241.4 740.7h0M375.8 764.3h0M344.4 740.3h0M502.1 760.9h0M404.0 734.5h0M276.2 746.8h0M412.4 740.2h0M506.1 761.7h0M552.0 763.0h0M212.6 752.5h0M236.1 763.8h0M485.4 758.6h0M276.4 734.7h0M510.9 752.3h0M438.0 748.2h0M505.2 741.8h0M306.9 746.9h0M317.4 756.0h0M538.9 729.9h0M231.3 748.0h0M459.6 737.4h0M306.9 737.4h0M219.9 748.4h0M460.6 754.8h0M265.2 735.3h0M554.1 748.6h0M358.7 757.7h0M478.2 749.7h0M235.3 760.9h0M285.9 735.0h0M337.8 753.2h0M441.0 737.2h0M471.4 748.6h0M266.6 762.4h0M507.7 764.1h0M460.1 738.4h0M496.9 764.0h0M405.4 764.6h0M568.8 742.8h0M558.2 765.2h0M502.9 729.1h0M337.6 755.7h0M433.1 758.8h0M447.9 736.6h0M554.1 748.6h0M535.8 735.6h0M579.3 750.0h0M496.1 757.7h0M536.2 741.9h0M237.0 744.1h0M272.7 751.4h0M510.8 742.7h0M255.0 731.3h0M364.2 754.0h0M215.8 755.3h0M284.9 737.2h0M553.0 748.0h0M540.8 748.0h0M251.9 739.0h0M364.7 755.9h0M494.3 758.2h0M449.4 739.9h0M366.9 747.2h0M389.1 742.6h0M407.1 748.7h0M219.3 761.0h0M425.3 760.6h0M481.5 757.5h0M577.6 742.8h0M353.2 735.6h0M454.5 752.1h0M421.6 767.7h0M279.7 740.9h0M480.6 760.6h0M386.6 735.5h0M344.5 762.3h0M392.9 749.3h0M351.7 755.8h0M429.8 756.5h0M529.6 757.8h0M346.2 743.9h0M498.4 759.7h0M553.1 734.6h0M523.0 763.4h0M234.9 740.0h0M443.0 736.1h0M516.9 738.6h0M461.2 741.3h0M287.6 740.8h0M392.1 757.9h0M287.5 757.1h0M331.3 757.0h0M343.7 742.2h0M258.7 733.0h0M466.4 745.7h0M252.1 763.3h0M450.9 731.3h0M477.1 752.4h0M372.0 751.1h0M565.9 742.0h0M443.9 754.3h0M342.8 747.1h0M488.4 753.8h0M376.9 751.4h0M289.6 760.7h0M213.4 754.7h0M376.2 741.6h0M425.5 752.6h0M238.5 747.6h0M267.7 760.6h0M328.3 747.0h0M286.6 735.3h0M275.8 737.9h0M439.4 762.1h0M288.7 737.7h0M405.9 736.7h0M357.6 760.0h0M282.0 757.4h0M407.5 735.5h0M296.7 754.5h0M242.0 736.6h0M421.7 761.2h0M400.6 756.1h0M209.4 742.8h0M325.0 765.1h0M339.7 761.0h0M218.8 748.7h0M539.4 758.5h0M422.8 738.1h0M552.4 729.7h0M566.8 758.6h0M475.2 750.0h0M267.3 744.0h0M454.3 754.9h0M351.6 761.4h0M226.0 739.4h0M239.8 741.1h0M502.6 758.2h0M261.9 742.5h0M247.9 754.8h0M371.5 742.2h0M345.9 763.5h0M365.0 757.6h0M440.8 748.3h0M414.1 745.1h0M280.2 750.2h0M319.9 746.7h0M275.8 764.7h0M365.1 741.4h0M217.9 738.0h0M530.8 741.0h0M455.5 739.0h0M449.3 747.3h0M481.4 749.8h0M346.4 744.8h0M428.3 761.6h0M464.7 748.2h0M328.9 764.4h0M522.5 733.7h0M460.0 759.2h0M458.7 766.5h0M534.7 737.2h0M578.8 740.9h0M348.1 767.0h0M268.6 746.1h0M440.1 740.9h0M305.9 761.1h0M435.1 758.3h0M501.4 762.8h0M540.2 760.6h0M571.9 747.4h0M468.4 749.4h0M568.5 753.7h0M367.0 756.7h0M316.3 740.2h0M350.5 740.0h0M207.5 735.7h0M375.9 759.8h0M224.1 753.5h0M247.6 749.0h0M316.6 750.2h0M472.3 745.6h0M352.5 759.0h0M249.3 742.9h0M468.5 761.6h0M572.3 737.6h0M439.8 742.3h0M468.5 762.0h0M256.5 743.4h0M556.2 740.9h0M442.4 761.1h0M310.2 760.8h0M207.4 744.5h0M268.4 744.3h0M285.7 734.4h0M506.4 735.4h0M420.4 751.7h0M523.7 761.7h0M438.5 737.0h0M490.6 732.9h0M553.3 739.1h0M300.5 742.1h0M354.1 761.0h0M525.7 757.6h0M478.8 739.0h0M326.1 746.2h0M368.1 763.6h0M578.5 731.1h0M566.8 764.4h0M378.4 757.4h0M499.4 736.1h0M436.3 767.1h0M535.3 764.2h0M237.7 756.5h0M388.0 764.7h0M268.4 751.6h0M251.1 760.4h0M476.2 730.9h0M321.8 740.9h0M443.7 754.1h0M229.4 765.8h0M567.0 744.8h0M420.7 744.8h0M432.7 745.6h0M370.8 759.5h0M275.7 743.1h0M491.6 737.8h0M231.7 764.2h0M265.7 746.5h0M323.2 744.7h0M337.8 753.3h0M249.4 750.0h0M225.1 731.3h0M281.6 741.5h0M333.7 745.8h0M519.0 754.2h0M383.0 760.0h0M462.5 742.0h0M436.3 758.4h0M405.8 759.1h0M442.7 765.1h0M304.8 757.1h0M571.3 748.6h0M544.6 730.7h0M476.6 739.8h0M486.6 745.6h0M406.1 741.3h0M302.1 763.4h0M446.6 754.0h0M249.3 740.8h0M568.1 735.1h0M407.1 757.1h0M396.9 752.4h0M568.8 758.8h0M294.6 748.8h0M363.0 757.4h0M458.4 740.1h0M465.0 746.4h0M211.7 742.0h0M347.0 742.2h0M456.8 767.5h0M554.4 752.4h0M526.6 747.4h0M425.4 763.9h0M228.3 742.0h0M345.9 746.8h0M366.0 736.6h0M460.0 766.2h0M293.6 740.6h0M331.2 761.5h0M290.7 760.1h0M270.6 753.3h0M475.7 755.4h0M237.6 766.1h0M523.1 747.1h0M527.4 751.8h0M269.0 746.2h0M513.0 746.6h0M221.7 735.4h0M275.6 753.2h0M446.8 747.2h0M357.0 766.6h0M334.2 757.6h0M282.5 751.0h0M273.2 736.3h0M331.9 740.4h0M348.6 756.7h0M411.4 760.5h0M384.5 736.6h0M478.0 745.0h0M487.1 766.9h0M402.1 741.6h0M339.8 752.0h0M325.4 739.8h0M355.0 756.6h0M511.2 758.4h0M536.6 759.7h0M359.9 756.1h0M226.2 759.6h0M470.8 740.0h0M382.6 743.1h0M503.4 745.4h0M498.1 764.8h0M496.8 743.7h0M334.1 766.1h0M544.3 734.6h0M341.5 761.1h0M488.9 740.2h0M372.9 766.5h0M239.7 739.1h0M454.4 764.3h0M560.1 745.6h0M501.6 766.7h0M329.2 744.0h0M303.1 760.7h0M258.2 751.0h0M553.7 734.7h0M441.2 750.4h0M567.4 747.8h0M389.6 764.5h0M487.4 734.9h0M506.6 744.2h0M568.3 766.3h0M390.5 747.8h0M290.9 743.4h0M283.1 739.1h0M479.1 731.6h0M429.9 753.0h0M481.1 751.3h0M552.8 738.0h0M240.8 751.4h0M306.7 767.4h0M550.8 754.9h0M517.8 737.8h0M387.4 746.7h0M335.1 748.3h0M384.7 756.0h0M215.4 750.6h0M253.8 766.6h0M412.4 753.2h0M323.8 758.6h0M471.5 764.4h0M423.2 741.3h0M441.1 732.6h0M484.3 741.2h0M475.0 734.8h0M429.5 737.3h0M219.7 739.6h0M523.3 743.4h0M401.5 760.5h0M571.9 737.7h0M465.6 759.6h0M502.9 742.2h0M383.4 760.5h0M299.8 750.9h0M442.9 762.3h0M297.2 756.7h0M287.2 739.1h0M384.4 755.8h0M445.4 765.9h0M267.5 750.9h0M385.5 742.5h0M549.2 732.5h0M303.5 736.5h0M446.7 755.1h0M289.6 765.2h0M443.4 738.2h0M558.2 761.7h0M323.4 763.6h0M254.7 743.3h0M362.6 766.3h0M317.7 748.4h0M283.5 761.6h0M274.6 762.4h0M333.5 753.8h0M533.8 738.1h0M403.7 755.0h0M422.1 746.3h0M447.6 742.3h0M264.0 731.7h0M432.6 752.1h0M505.1 734.7h0M457.6 747.3h0M402.4 761.9h0M400.1 748.2h0M447.5 736.1h0M532.4 748.3h0M221.9 747.7h0M559.6 766.9h0M365.4 743.5h0M556.2 738.0h0M212.7 740.2h0M382.0 756.7h0M231.0 740.7h0M478.1 742.8h0M271.7 757.5h0M369.3 757.7h0M387.1 761.4h0M397.5 766.9h0M510.1 756.8h0M389.4 754.4h0M346.9 738.3h0M536.9 760.0h0M492.8 762.3h0M412.0 767.6h0M383.0 767.1h0M236.2 743.0h0M419.6 761.2h0M400.8 760.5h0M345.8 757.5h0M503.9 752.1h0M213.8 755.1h0M206.0 743.4h0M248.9 758.7h0M269.0 757.7h0M233.0 735.8h0M466.0 765.0h0M232.8 752.2h0M354.6 755.5h0M234.9 728.3h0M235.4 763.4h0M389.5 754.5h0M255.9 756.1h0M543.0 735.0h0M497.9 761.9h0M577.1 750.4h0M447.2 743.4h0M498.0 741.0h0M439.2 754.0h0M576.0 759.2h0M241.9 735.5h0M339.6 748.8h0M474.1 739.7h0M415.1 748.2h0M320.2 756.6h0M368.3 767.1h0M254.3 764.0h0M444.3 747.7h0M235.1 753.6h0M506.4 742.3h0M472.5 750.1h0M239.8 762.2h0M322.6 751.5h0M490.8 763.0h0M525.4 742.5h0M522.8 734.0h0M412.3 747.6h0M529.9 756.6h0M452.5 760.7h0M336.0 750.5h0M244.5 742.6h0M280.6 758.5h0M254.4 764.6h0M430.5 747.4h0M250.6 746.7h0M416.9 737.1h0M571.2 741.8h0M368.5 744.0h0M345.5 744.8h0M525.4 730.6h0M342.4 755.1h0M385.3 744.8h0M387.1 735.8h0M320.9 750.1h0M492.7 745.7h0M361.3 756.4h0M309.5 753.3h0M278.8 754.4h0M407.6 755.6h0M533.2 759.5h0M575.7 736.9h0M562.8 744.7h0M343.1 750.5h0M550.5 765.9h0M507.1 740.4h0M250.4 737.5h0M457.4 756.6h0M230.6 727.2h0M578.2 741.3h0M221.6 747.1h0M242.6 760.6h0M404.0 754.2h0M552.7 731.5h0M286.5 760.5h0M433.1 747.1h0M339.2 755.8h0M559.3 765.7h0M549.1 766.9h0M255.3 731.4h0M516.1 738.0h0M401.2 749.3h0M570.2 745.0h0M256.4 738.1h0M544.0 760.3h0M258.3 766.4h0M345.1 759.1h0M417.2 762.7h0M389.1 734.6h0M414.6 762.5h0M359.6 762.1h0M373.0 746.4h0M340.3 743.5h0M393.2 766.4h0M206.0 767.3h0M208.5 766.4h0M211.0 766.2h0M213.5 767.4h0M216.0 766.4h0M218.5 766.3h0M221.0 767.0h0M223.5 766.6h0M226.0 767.3h0M228.5 766.5h0M231.0 767.4h0M233.5 766.6h0M236.0 766.9h0M238.5 767.3h0M241.0 767.0h0M243.5 767.3h0M246.0 767.0h0M248.5 766.3h0M251.0 767.3h0M253.5 766.9h0M256.0 766.6h0M258.5 766.4h0M261.0 767.2h0M263.5 766.9h0M266.0 767.3h0M268.5 767.1h0M271.0 767.4h0M273.5 766.9h0M276.0 767.0h0M278.5 766.9h0M281.0 766.5h0M283.5 767.3h0M286.0 766.6h0M288.5 767.1h0M291.0 767.3h0M293.5 767.0h0M296.0 766.4h0M298.5 767.2h0M301.0 767.0h0M303.5 766.4h0M306.0 766.3h0M308.5 766.8h0M311.0 766.2h0M313.5 767.3h0M316.0 766.8h0M318.5 766.8h0M321.0 766.7h0M323.5 767.0h0M326.0 767.3h0M328.5 766.6h0M331.0 766.6h0M333.5 766.9h0M336.0 766.6h0M338.5 766.9h0M341.0 766.9h0M343.5 766.7h0M346.0 767.0h0M348.5 766.8h0M351.0 766.3h0M353.5 767.4h0M356.0 766.6h0M358.5 766.7h0M361.0 766.7h0M363.5 767.3h0M366.0 767.3h0M368.5 766.8h0M371.0 766.7h0M373.5 766.3h0M376.0 767.3h0M378.5 766.4h0M381.0 766.9h0M383.5 766.6h0M386.0 766.6h0M388.5 766.6h0M391.0 766.4h0M393.5 766.2h0M396.0 766.8h0M398.5 767.2h0M401.0 767.0h0M403.5 766.4h0M406.0 767.0h0M408.5 766.3h0M411.0 766.7h0M413.5 767.2h0M416.0 767.3h0M418.5 766.8h0M421.0 767.2h0M423.5 766.8h0M426.0 766.8h0M428.5 766.9h0M431.0 767.4h0M433.5 767.1h0M436.0 766.8h0M438.5 767.1h0M441.0 767.0h0M443.5 766.6h0M446.0 767.1h0M448.5 767.2h0M451.0 766.9h0M453.5 767.3h0M456.0 766.2h0M458.5 766.8h0M461.0 767.0h0M463.5 766.6h0M466.0 766.4h0M468.5 767.0h0M471.0 766.7h0M473.5 766.5h0M476.0 766.3h0M478.5 767.4h0M481.0 766.6h0M483.5 766.3h0M486.0 766.5h0M488.5 766.5h0M491.0 767.2h0M493.5 766.4h0M496.0 766.5h0M498.5 766.3h0M501.0 766.8h0M503.5 766.4h0M506.0 766.6h0M508.5 767.1h0M511.0 767.3h0M513.5 767.2h0M516.0 766.2h0M518.5 766.7h0M521.0 767.2h0M523.5 766.2h0M526.0 766.4h0M528.5 766.8h0M531.0 766.7h0M533.5 767.1h0M536.0 767.1h0M538.5 766.8h0M541.0 766.5h0M543.5 766.5h0M546.0 766.5h0M548.5 766.3h0M551.0 767.0h0M553.5 766.4h0M556.0 767.3h0M558.5 767.0h0M561.0 766.3h0M563.5 766.8h0M566.0 766.9h0M568.5 766.3h0M571.0 766.8h0M573.5 766.2h0M576.0 767.1h0M578.5 766.2h0M241.0 717.7h0M235.9 725.2h0M366.3 697.0h0M380.1 695.1h0M511.8 704.3h0M521.7 704.3h0M519.7 722.2h0M532.5 714.4h0M544.7 716.3h0M559.1 725.2h0M509.9 732.1h0M438.1 734.4h0M438.1 744.2h0M469.6 730.1h0M486.3 735.6h0M537.4 730.5h0M539.4 738.3h0M551.2 732.4h0M551.2 738.3h0M525.6 725.6h0" stroke="#bdbfc1" stroke-width="8.2" stroke-linecap="round" fill="none"/>
<path d="M346.3 766.4h0M345.5 742.3h0M338.6 751.8h0M337.2 743.6h0M329.4 752.4h0M330.1 752.6h0M325.6 742.4h0M341.3 751.7h0M336.8 760.4h0M333.3 741.6h0M343.0 756.4h0M340.1 757.3h0M347.3 750.1h0M342.5 750.2h0M338.2 758.4h0M332.2 742.4h0M335.9 760.0h0M338.6 752.4h0M339.8 745.1h0M329.1 749.0h0M343.8 745.4h0M327.6 742.7h0M325.9 747.7h0M338.2 762.8h0M332.6 750.3h0M331.6 748.5h0M342.9 755.3h0M330.9 743.0h0M343.0 759.7h0M344.1 746.6h0M337.5 765.5h0M338.6 766.3h0M328.8 767.1h0M326.3 751.6h0M325.5 762.5h0M340.8 767.1h0M343.5 766.4h0M337.4 767.5h0M342.2 749.6h0M347.4 750.5h0M362.2 765.5h0M351.7 768.8h0M351.9 762.0h0M349.8 763.8h0M351.0 762.7h0M362.5 763.9h0M356.8 766.0h0M367.8 750.4h0M358.3 767.9h0M362.8 757.2h0M354.1 767.8h0M349.7 763.8h0M364.9 751.3h0M354.5 754.4h0M358.8 755.6h0M365.9 767.2h0M354.3 766.6h0M349.4 750.0h0M361.3 764.6h0M364.4 768.6h0M365.2 753.5h0M362.9 767.2h0M349.9 758.3h0M351.1 751.0h0M357.6 761.9h0M367.5 750.7h0M358.1 768.7h0M363.3 759.1h0M352.9 761.1h0M353.2 761.4h0" stroke="#4a7ba3" stroke-width="10.0" stroke-linecap="round" fill="none"/>
<path d="M338.8 730.9h0M332.9 744.2h0M332.9 750.1h0M314.5 765.7h0M320.1 755.2h0M320.5 761.4h0M310.5 766.1h0M313.1 756.5h0M315.1 760.7h0M412.5 753.4h0M407.1 760.1h0M405.6 763.0h0" stroke="#86a6c0" stroke-width="8.8" stroke-linecap="round" fill="none"/>
</svg>
<svg x="205" y="790.8" width="376" height="356" viewBox="205 790.8 376 356" overflow="hidden">
<path d="M210.6 1108.7h0M352.9 1124.1h0M257.9 1108.0h0M292.7 1125.8h0M261.1 1125.3h0M453.7 1107.4h0M406.3 1118.2h0M360.3 1132.3h0M240.8 1104.6h0M557.5 1114.8h0M280.2 1114.7h0M342.5 1131.2h0M284.7 1111.5h0M424.8 1120.3h0M562.7 1127.7h0M339.0 1110.8h0M518.8 1132.1h0M217.4 1125.2h0M530.8 1122.0h0M287.7 1127.0h0M479.0 1109.1h0M445.7 1110.3h0M221.5 1114.2h0M331.0 1115.7h0M447.9 1127.7h0M565.5 1131.7h0M577.6 1126.4h0M320.6 1109.0h0M439.3 1119.8h0M458.3 1105.9h0M278.1 1130.3h0M430.9 1124.1h0M241.8 1115.4h0M546.4 1121.8h0M576.9 1109.4h0M376.1 1127.5h0M372.3 1127.1h0M416.1 1109.3h0M243.0 1131.9h0M250.6 1109.9h0M331.4 1124.5h0M525.4 1116.8h0M392.3 1127.1h0M310.0 1114.9h0M435.2 1122.4h0M220.2 1108.2h0M257.6 1124.8h0M465.2 1131.6h0M493.1 1111.1h0M492.3 1132.0h0M336.4 1105.4h0M346.3 1113.3h0M271.9 1106.8h0M252.7 1128.7h0M224.7 1121.8h0M283.2 1111.0h0M513.0 1112.0h0M274.8 1117.9h0M465.9 1118.5h0M527.5 1114.6h0M402.0 1125.2h0M378.6 1125.5h0M380.6 1111.2h0M252.2 1126.4h0M484.6 1130.8h0M464.1 1120.1h0M268.1 1128.4h0M250.4 1116.4h0M258.6 1115.4h0M320.9 1116.1h0M471.9 1119.1h0M296.8 1126.4h0M480.9 1127.4h0M218.3 1121.9h0M540.9 1109.9h0M281.6 1127.5h0M342.1 1116.3h0M511.8 1114.5h0M280.2 1111.7h0M335.3 1124.1h0M343.7 1126.3h0M230.7 1111.5h0M439.7 1117.9h0M392.9 1130.8h0M309.7 1109.6h0M218.6 1118.3h0M317.1 1117.5h0M208.1 1105.8h0M348.0 1126.0h0M318.4 1129.9h0M422.7 1116.5h0M496.7 1110.6h0M432.3 1128.2h0M408.3 1114.8h0M241.9 1120.3h0M276.2 1115.7h0M408.9 1130.9h0M457.8 1118.3h0M527.0 1111.8h0M351.0 1123.9h0M413.3 1112.1h0M359.6 1127.9h0M296.6 1124.4h0M224.0 1131.2h0M461.8 1112.5h0M573.7 1126.5h0M229.1 1111.5h0M389.9 1132.4h0M258.6 1106.2h0M322.9 1105.5h0M358.9 1120.5h0M370.7 1110.9h0M214.7 1127.1h0M370.6 1119.4h0M384.8 1124.7h0M542.9 1127.2h0M478.0 1113.3h0M269.1 1107.9h0M527.3 1104.3h0M418.9 1130.0h0M326.5 1115.3h0M362.3 1131.0h0M461.9 1127.7h0M220.5 1125.0h0M374.7 1117.6h0M511.4 1124.7h0M546.5 1124.5h0M546.3 1115.2h0M414.0 1126.8h0M375.6 1111.1h0M425.0 1129.0h0M531.6 1106.2h0M348.5 1112.0h0M333.5 1131.3h0M363.5 1114.9h0M307.9 1116.8h0M456.5 1113.2h0M275.7 1111.8h0M303.2 1129.8h0M269.4 1125.8h0M246.5 1126.4h0M305.5 1126.3h0M367.6 1109.1h0M241.3 1126.7h0M408.7 1119.1h0M337.7 1124.0h0M386.4 1109.2h0M430.8 1113.7h0M522.7 1119.1h0M495.4 1107.3h0M470.4 1121.0h0M524.2 1129.0h0M412.2 1121.8h0M492.9 1111.4h0M409.8 1126.9h0M428.3 1120.0h0M526.1 1131.7h0M302.9 1106.9h0M435.4 1108.9h0M568.6 1117.2h0M405.8 1127.7h0M531.3 1106.7h0M375.6 1112.2h0M378.2 1111.1h0M534.0 1113.0h0M351.6 1129.7h0M513.9 1113.1h0M393.0 1124.0h0M276.3 1109.4h0M526.7 1107.5h0M470.7 1124.8h0M427.2 1114.8h0M526.8 1126.1h0M232.6 1129.5h0M444.1 1112.4h0M269.1 1108.1h0M509.5 1128.0h0M336.1 1110.0h0M233.4 1116.0h0M317.4 1105.6h0M317.3 1127.3h0M230.4 1115.8h0M398.3 1111.2h0M219.6 1107.2h0M259.8 1131.7h0M528.3 1123.6h0M542.4 1112.0h0M299.3 1128.8h0M432.8 1130.3h0M340.3 1116.5h0M474.5 1129.0h0M267.9 1112.5h0M211.1 1120.6h0M551.4 1119.5h0M261.6 1124.0h0M449.1 1106.8h0M547.9 1122.2h0M389.5 1116.1h0M266.0 1118.0h0M342.8 1111.8h0M447.8 1122.8h0M562.9 1131.5h0M380.3 1125.5h0M346.3 1117.3h0M418.1 1131.9h0M221.7 1117.7h0M331.8 1127.0h0M561.5 1116.9h0M235.8 1121.0h0M425.7 1123.8h0M496.4 1117.1h0M411.4 1126.4h0M216.2 1111.8h0M463.2 1131.7h0M558.8 1111.2h0M569.6 1111.5h0M375.3 1111.6h0M431.4 1115.8h0M462.2 1131.1h0M253.8 1122.9h0M431.0 1112.6h0M219.2 1130.7h0M466.0 1121.4h0M244.3 1129.6h0M355.2 1118.5h0M414.1 1117.9h0M562.6 1116.8h0M459.4 1125.7h0M554.9 1107.8h0M333.0 1131.0h0M432.7 1115.2h0M535.6 1105.8h0M300.7 1106.9h0M456.8 1117.4h0M319.9 1116.5h0M300.7 1124.4h0M490.1 1114.7h0M530.9 1103.8h0M417.6 1110.2h0M249.9 1120.1h0M238.5 1106.2h0M256.2 1115.2h0M516.5 1111.6h0M251.7 1125.9h0M511.6 1132.3h0M224.4 1109.4h0M368.2 1132.2h0M407.9 1129.4h0M289.9 1118.2h0M462.9 1109.7h0M401.4 1127.9h0M511.1 1123.6h0M516.0 1132.3h0M432.3 1111.9h0M289.0 1107.1h0M549.6 1119.6h0M431.4 1128.9h0M464.4 1114.6h0M425.0 1107.8h0M300.7 1114.4h0M503.2 1122.7h0M431.8 1115.9h0M337.6 1115.6h0M224.7 1114.8h0M546.1 1126.8h0M299.2 1118.7h0M484.5 1109.4h0M339.2 1121.2h0M276.2 1130.0h0M213.1 1129.2h0M456.3 1114.9h0M313.8 1128.7h0M472.1 1109.4h0M324.7 1106.9h0M441.1 1116.3h0M324.8 1124.1h0M301.0 1108.8h0M503.7 1129.2h0M507.9 1119.7h0M474.2 1128.4h0M220.5 1113.3h0M339.0 1125.2h0M331.7 1125.9h0M302.3 1130.9h0M368.8 1122.1h0M441.0 1127.4h0M416.8 1111.7h0M370.8 1121.5h0M233.1 1127.6h0M321.0 1130.1h0M345.1 1131.1h0M476.0 1114.8h0M468.3 1103.2h0M237.7 1120.6h0M321.1 1115.6h0M469.7 1117.0h0M435.0 1125.3h0M518.5 1106.2h0M515.9 1124.9h0M291.0 1107.7h0M278.2 1108.3h0M419.3 1132.3h0M387.7 1114.5h0M269.7 1131.7h0M410.4 1112.7h0M546.7 1114.9h0M574.3 1118.4h0M300.9 1110.1h0M212.2 1127.4h0M328.6 1124.8h0M520.7 1114.8h0M396.9 1125.4h0M446.3 1114.3h0M280.2 1113.5h0M213.8 1122.6h0M445.7 1126.0h0M370.4 1125.7h0M415.1 1128.5h0M411.8 1123.9h0M430.3 1110.7h0M234.8 1127.3h0M464.9 1118.1h0M547.7 1107.8h0M480.0 1118.0h0M245.4 1107.9h0M215.7 1110.5h0M496.6 1117.5h0M223.7 1118.5h0M569.9 1126.2h0M318.5 1117.8h0M343.3 1111.8h0M452.2 1104.3h0M383.0 1130.6h0M488.9 1122.5h0M517.1 1131.0h0M307.1 1130.9h0M540.3 1117.0h0M256.7 1119.5h0M391.8 1132.3h0M297.9 1124.7h0M489.9 1121.0h0M312.3 1129.8h0M301.4 1128.5h0M538.4 1118.2h0M225.5 1112.3h0M230.8 1109.7h0M339.1 1120.8h0M506.9 1105.0h0M484.4 1106.8h0M472.7 1103.6h0M339.3 1130.4h0M533.1 1103.9h0M351.2 1130.1h0M272.2 1117.9h0M303.8 1113.0h0M389.1 1111.0h0M263.7 1131.7h0M491.1 1120.9h0M256.8 1108.5h0M438.4 1121.7h0M209.8 1131.4h0M346.5 1112.9h0M443.6 1130.0h0M336.8 1119.0h0M224.3 1117.7h0M541.6 1130.6h0M336.9 1128.6h0M578.1 1112.5h0M525.9 1111.0h0M566.8 1129.5h0M569.1 1115.2h0M462.6 1123.7h0M423.8 1107.1h0M455.2 1126.7h0M446.3 1129.6h0M566.3 1121.9h0M339.3 1119.0h0M274.0 1111.7h0M572.1 1116.3h0M380.8 1129.6h0M504.1 1105.1h0M360.2 1120.4h0M294.7 1126.0h0M437.7 1128.2h0M256.4 1110.0h0M320.2 1118.7h0M301.2 1119.1h0M335.5 1106.7h0M515.0 1119.0h0M542.8 1117.9h0M527.6 1120.8h0M391.4 1130.9h0M341.0 1131.8h0M426.0 1131.0h0M240.9 1119.3h0M324.0 1127.3h0M546.7 1128.2h0M351.1 1108.0h0M570.4 1109.5h0M514.9 1120.5h0M479.5 1123.9h0M294.6 1115.7h0M349.8 1124.6h0M460.3 1132.1h0M407.1 1115.7h0M250.9 1116.9h0M428.7 1124.0h0M216.5 1110.7h0M444.0 1126.3h0M558.4 1107.0h0M478.3 1116.4h0M426.9 1123.9h0M358.1 1122.2h0M567.3 1104.0h0M412.0 1132.4h0M533.5 1109.9h0M498.7 1129.9h0M359.1 1120.8h0M316.3 1132.3h0M275.0 1124.4h0M576.2 1131.7h0M524.5 1115.6h0M556.9 1128.2h0M363.3 1116.5h0M328.9 1113.6h0M419.4 1117.0h0M564.5 1103.2h0M432.0 1116.9h0M579.2 1132.3h0M473.0 1124.5h0M348.0 1124.4h0M297.0 1127.4h0M421.0 1112.0h0M284.8 1116.1h0M335.2 1123.2h0M379.5 1108.8h0M327.8 1117.2h0M576.2 1130.3h0M436.4 1131.4h0M262.4 1110.7h0M262.4 1112.1h0M310.9 1119.5h0M537.8 1112.8h0M326.9 1117.6h0M560.8 1117.9h0M573.3 1112.5h0M412.5 1122.8h0M475.2 1127.7h0M250.6 1110.3h0M245.5 1126.1h0M390.7 1119.8h0M219.4 1127.0h0M569.1 1103.8h0M575.5 1117.6h0M250.0 1105.3h0M468.2 1126.6h0M359.4 1129.0h0M207.1 1128.9h0M265.3 1110.3h0M331.5 1113.9h0M542.0 1117.4h0M366.4 1127.6h0M367.5 1115.0h0M335.6 1121.0h0M546.2 1130.2h0M214.6 1115.3h0M466.9 1117.7h0M481.1 1130.6h0M223.1 1124.1h0M296.0 1123.0h0M277.1 1109.6h0M523.1 1122.2h0M445.0 1116.3h0M301.3 1106.7h0M560.9 1126.3h0M487.6 1105.9h0M210.5 1118.2h0M243.7 1121.5h0M321.0 1126.1h0M267.6 1118.9h0M360.0 1112.7h0M329.8 1109.9h0M319.2 1116.6h0M352.6 1123.5h0M534.8 1117.5h0M280.6 1119.4h0M262.3 1128.1h0M211.7 1113.2h0M552.7 1119.9h0M334.0 1105.9h0M273.0 1128.0h0M234.8 1123.8h0M266.9 1125.8h0M248.4 1108.1h0M279.3 1131.1h0M212.6 1118.4h0M545.7 1122.6h0M211.8 1123.4h0M321.7 1110.4h0M256.1 1107.9h0M416.4 1126.0h0M542.4 1121.4h0M369.6 1130.2h0M269.4 1130.3h0M573.3 1119.2h0M484.7 1121.4h0M467.0 1123.0h0M464.2 1122.9h0M387.0 1112.3h0M330.8 1113.8h0M463.0 1107.0h0M464.9 1116.9h0M551.1 1115.2h0M485.5 1107.8h0M259.5 1128.3h0M513.1 1110.4h0M363.5 1126.4h0M237.0 1123.4h0M466.1 1131.0h0M579.0 1126.0h0M249.8 1127.3h0M266.0 1112.9h0M511.0 1117.8h0M364.5 1129.5h0M523.0 1111.7h0M519.1 1132.1h0M461.6 1109.5h0M405.4 1121.1h0M312.6 1125.2h0M250.2 1109.3h0M561.4 1113.0h0M261.4 1126.4h0M505.7 1116.4h0M388.5 1107.8h0M211.6 1129.8h0M561.7 1124.1h0M463.1 1114.9h0M319.4 1124.7h0M501.5 1106.3h0M249.6 1106.4h0M469.7 1117.3h0M234.2 1118.4h0M556.5 1125.5h0M479.5 1122.0h0M279.9 1120.4h0M372.6 1130.9h0M215.3 1106.1h0M217.9 1107.3h0M324.2 1122.3h0M487.8 1126.9h0M236.4 1115.9h0M425.5 1114.6h0M307.8 1109.4h0M335.4 1107.7h0M579.5 1124.5h0M560.9 1104.8h0M248.3 1122.7h0M571.2 1115.1h0M323.2 1115.4h0M207.2 1111.2h0M261.5 1109.0h0M570.0 1122.3h0M517.0 1115.6h0M405.9 1116.1h0M379.6 1127.3h0M460.1 1107.6h0M305.1 1122.8h0M396.1 1120.8h0M223.2 1112.8h0M370.6 1129.9h0M570.1 1106.0h0M365.6 1111.8h0M360.9 1122.1h0M481.3 1120.5h0M438.5 1121.0h0M274.3 1110.8h0M390.8 1109.3h0M347.9 1122.4h0M532.9 1131.6h0M421.4 1109.7h0M419.6 1124.0h0M287.5 1127.8h0M277.9 1123.0h0M560.8 1128.0h0M488.5 1112.1h0M361.4 1129.6h0M389.4 1112.6h0M332.7 1106.8h0M564.0 1114.2h0M386.0 1109.2h0M439.5 1108.9h0M281.8 1126.4h0M386.7 1121.5h0M307.4 1106.7h0M330.6 1115.3h0M540.0 1123.8h0M377.6 1121.4h0M469.5 1125.0h0M489.6 1111.9h0M353.4 1113.7h0M206.0 1130.9h0M208.5 1131.1h0M211.0 1131.2h0M213.5 1131.9h0M216.0 1131.4h0M218.5 1131.7h0M221.0 1130.9h0M223.5 1131.4h0M226.0 1131.8h0M228.5 1131.4h0M231.0 1131.9h0M233.5 1131.9h0M236.0 1131.2h0M238.5 1130.8h0M241.0 1131.7h0M243.5 1131.0h0M246.0 1130.8h0M248.5 1131.7h0M251.0 1131.8h0M253.5 1131.8h0M256.0 1131.9h0M258.5 1131.0h0M261.0 1130.9h0M263.5 1130.9h0M266.0 1132.0h0M268.5 1130.9h0M271.0 1131.0h0M273.5 1130.8h0M276.0 1130.9h0M278.5 1130.8h0M281.0 1131.2h0M283.5 1131.0h0M286.0 1131.2h0M288.5 1131.9h0M291.0 1131.0h0M293.5 1131.8h0M296.0 1131.7h0M298.5 1131.5h0M301.0 1131.5h0M303.5 1131.7h0M306.0 1131.5h0M308.5 1131.1h0M311.0 1131.2h0M313.5 1131.1h0M316.0 1131.3h0M318.5 1132.0h0M321.0 1131.3h0M323.5 1130.9h0M326.0 1131.4h0M328.5 1131.8h0M331.0 1131.3h0M333.5 1131.6h0M336.0 1130.9h0M338.5 1130.9h0M341.0 1131.6h0M343.5 1130.9h0M346.0 1131.2h0M348.5 1131.3h0M351.0 1131.0h0M353.5 1130.8h0M356.0 1130.8h0M358.5 1131.9h0M361.0 1131.6h0M363.5 1131.9h0M366.0 1131.4h0M368.5 1131.9h0M371.0 1131.8h0M373.5 1131.5h0M376.0 1131.4h0M378.5 1131.4h0M381.0 1131.1h0M383.5 1131.3h0M386.0 1131.7h0M388.5 1131.0h0M391.0 1131.8h0M393.5 1131.4h0M396.0 1131.5h0M398.5 1131.8h0M401.0 1131.6h0M403.5 1131.0h0M406.0 1131.1h0M408.5 1130.8h0M411.0 1130.8h0M413.5 1131.9h0M416.0 1131.5h0M418.5 1132.0h0M421.0 1131.7h0M423.5 1131.2h0M426.0 1132.0h0M428.5 1131.9h0M431.0 1131.3h0M433.5 1130.9h0M436.0 1131.2h0M438.5 1131.0h0M441.0 1131.2h0M443.5 1130.9h0M446.0 1131.7h0M448.5 1132.0h0M451.0 1131.1h0M453.5 1131.7h0M456.0 1131.5h0M458.5 1131.4h0M461.0 1131.9h0M463.5 1131.3h0M466.0 1131.8h0M468.5 1130.8h0M471.0 1132.0h0M473.5 1131.0h0M476.0 1130.8h0M478.5 1131.9h0M481.0 1131.7h0M483.5 1131.6h0M486.0 1131.7h0M488.5 1131.3h0M491.0 1130.9h0M493.5 1131.2h0M496.0 1131.9h0M498.5 1132.0h0M501.0 1131.1h0M503.5 1131.3h0M506.0 1131.3h0M508.5 1131.9h0M511.0 1130.8h0M513.5 1131.8h0M516.0 1131.1h0M518.5 1131.5h0M521.0 1131.0h0M523.5 1130.9h0M526.0 1131.9h0M528.5 1131.4h0M531.0 1132.0h0M533.5 1131.8h0M536.0 1131.7h0M538.5 1130.9h0M541.0 1131.5h0M543.5 1132.0h0M546.0 1131.4h0M548.5 1130.9h0M551.0 1131.0h0M553.5 1132.0h0M556.0 1132.0h0M558.5 1131.1h0M561.0 1131.2h0M563.5 1131.7h0M566.0 1131.4h0M568.5 1131.0h0M571.0 1132.0h0M573.5 1131.5h0M576.0 1131.2h0M578.5 1130.8h0M502.0 1079.7h0M508.9 1081.2h0M510.9 1092.1h0M521.7 1095.4h0M505.0 1098.3h0M388.9 1096.4h0M394.8 1102.3h0M454.8 1100.3h0M436.1 1102.3h0M252.2 1101.3h0M236.5 1105.2h0M314.2 1101.9h0M304.3 1105.2h0M527.6 1101.3h0M539.4 1102.3h0M454.8 1109.2h0M228.6 1110.1h0M271.9 1115.1h0" stroke="#bdbfc1" stroke-width="8.2" stroke-linecap="round" fill="none"/>
<path d="M315.1 1080.6h0M413.5 1102.3h0M421.4 1105.6h0M367.3 1092.4h0M328.9 1099.3h0" stroke="#d8c29a" stroke-width="8.8" stroke-linecap="round" fill="none"/>
<path d="M375.1 1101.3h0M332.9 1106.2h0M350.6 1106.2h0M332.9 1128.8h0M356.5 1129.8h0M375.1 1129.8h0M362.4 1127.9h0M346.6 1128.8h0M330.9 1114.1h0M351.8 1128.6h0M363.4 1124.9h0M355.6 1131.3h0M367.7 1123.9h0M355.6 1128.4h0M348.7 1132.0h0M349.8 1126.6h0M369.3 1128.6h0M339.2 1125.2h0M348.3 1122.5h0M353.6 1129.7h0M345.0 1130.8h0M368.6 1127.8h0M357.0 1123.2h0" stroke="#f1bc62" stroke-width="10.0" stroke-linecap="round" fill="none"/>
<line x1="389.89" y1="1062.94" x2="370.22" y2="1105.23" stroke="#ed1c24" stroke-width="1.5"/>
</svg>
<svg x="205" y="1154.4" width="376" height="356" viewBox="205 1154.4 376 356" overflow="hidden">
<rect x="206" y="1476" width="374" height="21.5" fill="#293d6d"/>
<path d="M348.5 1468.7h0M268.1 1476.2h0M422.1 1472.6h0M412.8 1467.8h0M479.6 1470.1h0M498.2 1471.3h0M519.9 1467.9h0M264.0 1460.3h0M476.5 1462.7h0M450.8 1472.4h0M228.3 1472.6h0M218.3 1474.8h0M520.6 1463.8h0M477.6 1473.0h0M252.8 1470.8h0M252.3 1476.1h0M463.6 1477.7h0M226.0 1461.2h0M437.8 1472.7h0M274.1 1475.7h0M522.6 1465.1h0M260.6 1471.0h0M358.3 1474.2h0M390.5 1469.0h0M214.1 1457.5h0M377.4 1473.8h0M365.2 1474.9h0M407.9 1476.1h0M451.0 1467.9h0M257.9 1458.1h0M220.8 1474.7h0M533.1 1472.9h0M246.9 1470.3h0M253.7 1475.6h0M451.1 1474.3h0M433.8 1469.5h0M523.3 1477.3h0M296.4 1467.0h0M480.3 1472.0h0M359.6 1471.9h0M567.9 1462.4h0M285.1 1471.7h0M309.6 1476.1h0M327.8 1476.8h0M348.0 1476.6h0M486.9 1472.9h0M286.2 1461.2h0M217.6 1458.3h0M455.3 1463.5h0M294.7 1469.5h0M264.0 1464.0h0M291.4 1471.6h0M250.3 1477.9h0M429.9 1473.5h0M412.7 1469.7h0M569.0 1475.7h0M513.4 1459.9h0M426.5 1477.0h0M444.7 1471.3h0M449.0 1466.1h0M478.2 1474.0h0M232.8 1465.9h0M428.6 1467.7h0M461.0 1476.7h0M544.9 1463.1h0M262.8 1474.9h0M434.9 1475.6h0M531.0 1463.4h0M425.7 1466.4h0M504.3 1472.0h0M295.4 1468.2h0M428.2 1465.8h0M274.3 1467.2h0M233.0 1465.6h0M557.6 1474.5h0M226.3 1473.7h0M474.0 1472.7h0M216.0 1472.3h0M279.1 1474.0h0M326.6 1467.6h0M270.4 1475.3h0M289.0 1475.5h0M398.2 1465.9h0M451.0 1471.0h0M216.1 1473.8h0M307.3 1459.6h0M492.6 1472.7h0M350.3 1468.3h0M403.1 1472.0h0M463.9 1469.3h0M418.4 1473.1h0M276.9 1461.3h0M387.2 1474.2h0M506.2 1475.2h0M370.2 1474.1h0M245.7 1464.0h0M231.0 1473.9h0M579.9 1470.1h0M487.4 1466.0h0M503.3 1460.0h0M344.6 1469.9h0M529.1 1461.6h0M265.5 1459.0h0M521.2 1465.5h0M543.8 1463.1h0M518.9 1463.4h0M543.5 1477.4h0M534.5 1471.6h0M541.2 1476.1h0M566.5 1462.6h0M523.9 1473.9h0M335.4 1466.2h0M542.5 1466.5h0M404.3 1476.3h0M387.0 1466.6h0M462.6 1470.2h0M307.9 1472.2h0M544.1 1461.7h0M510.0 1473.3h0M401.4 1466.5h0M454.7 1466.9h0M299.8 1475.2h0M307.2 1460.9h0M522.2 1477.9h0M320.2 1467.3h0M409.7 1474.1h0M210.6 1469.7h0M293.4 1476.6h0M361.1 1477.4h0M374.4 1473.0h0M220.2 1458.7h0M316.8 1466.5h0M270.7 1466.0h0M239.0 1467.7h0M566.1 1475.0h0M438.6 1477.8h0M478.5 1471.2h0M377.0 1464.0h0M540.1 1475.7h0M507.0 1472.0h0M509.9 1477.2h0M569.5 1473.0h0M212.1 1476.8h0M418.3 1468.3h0M367.2 1468.7h0M218.7 1468.8h0M437.0 1465.4h0M551.2 1476.0h0M529.4 1468.8h0M350.0 1471.6h0M344.6 1477.4h0M549.8 1475.9h0M400.4 1471.1h0M463.0 1466.0h0M274.9 1477.7h0M306.8 1464.2h0M390.1 1464.3h0M401.9 1465.9h0M516.1 1461.1h0M506.0 1463.8h0M500.7 1474.0h0M563.3 1461.0h0M574.3 1458.6h0M337.3 1464.4h0M390.8 1464.3h0M413.8 1476.9h0M498.4 1471.0h0M239.9 1477.7h0M342.4 1477.4h0M260.5 1463.3h0M560.4 1472.9h0M275.7 1466.9h0M408.8 1466.2h0M287.7 1459.6h0M396.5 1469.6h0M336.9 1470.8h0M335.6 1469.4h0M491.7 1461.4h0M241.7 1465.0h0M314.3 1468.4h0M527.5 1477.0h0M511.4 1476.5h0M292.3 1465.0h0M247.8 1461.9h0M303.5 1463.5h0M330.7 1477.1h0M398.7 1476.6h0M403.2 1474.3h0M456.6 1471.6h0M551.7 1469.5h0M394.3 1466.8h0M243.0 1464.7h0M357.9 1468.3h0M562.2 1457.9h0M371.1 1467.6h0M358.7 1476.2h0M566.5 1465.2h0M472.3 1476.0h0M314.5 1466.9h0M368.1 1475.9h0M319.4 1476.1h0M275.3 1471.5h0M441.9 1465.1h0M328.4 1475.4h0M356.3 1467.3h0M381.8 1470.7h0M381.6 1468.8h0M556.9 1471.3h0M372.1 1470.2h0M493.9 1463.1h0M386.3 1474.3h0M239.8 1457.8h0M225.0 1469.9h0M505.2 1471.4h0M437.9 1464.9h0M342.1 1471.1h0M332.0 1466.7h0M344.9 1468.3h0M232.2 1467.4h0M215.1 1464.5h0M356.2 1475.8h0M470.1 1468.2h0M208.3 1471.3h0M476.7 1471.3h0M576.5 1466.2h0M354.0 1472.6h0M245.2 1469.4h0M255.4 1470.9h0M434.8 1473.5h0M275.0 1472.1h0M558.7 1477.7h0M492.2 1461.6h0M495.6 1461.8h0M572.4 1456.4h0M212.3 1463.9h0M235.2 1476.8h0M553.9 1462.7h0M531.2 1464.8h0M512.0 1461.5h0M557.9 1466.8h0M294.3 1467.1h0M206.5 1455.7h0M383.6 1471.7h0M578.8 1466.7h0M331.7 1466.9h0M213.9 1476.0h0M467.6 1465.1h0M488.9 1472.0h0M445.1 1470.4h0M531.5 1476.5h0M489.6 1462.3h0M373.3 1472.9h0M562.0 1467.9h0M386.3 1463.7h0M230.1 1459.7h0M459.0 1465.3h0M488.3 1471.1h0M313.3 1469.2h0M518.1 1460.4h0M440.4 1474.8h0M567.5 1463.7h0M444.3 1475.3h0M319.4 1473.9h0M486.4 1477.1h0M361.0 1468.0h0M399.2 1473.5h0M547.8 1472.8h0M410.6 1475.7h0M524.1 1470.7h0M307.6 1459.4h0M425.2 1461.5h0M337.3 1477.9h0M302.6 1472.0h0M480.8 1465.3h0M431.0 1476.3h0M477.0 1465.7h0M578.0 1470.3h0M295.8 1474.2h0M499.1 1475.6h0M518.8 1474.3h0M352.2 1475.1h0M492.0 1474.5h0M286.5 1477.7h0M421.3 1476.4h0M399.4 1474.9h0M431.9 1467.4h0M389.5 1475.3h0M310.4 1476.6h0M479.7 1474.0h0M403.2 1473.7h0M443.7 1470.0h0M206.7 1467.8h0M464.2 1470.4h0M355.8 1472.8h0M245.2 1469.8h0M230.7 1456.4h0M235.7 1476.9h0M545.8 1470.0h0M556.7 1461.9h0M453.6 1470.0h0M246.3 1468.4h0M247.3 1461.7h0M259.3 1462.1h0M541.4 1466.9h0M411.5 1464.1h0M262.9 1459.3h0M468.3 1470.5h0M483.4 1470.2h0M299.9 1466.4h0M343.2 1477.1h0M468.9 1475.0h0M452.0 1477.4h0M492.0 1458.5h0M236.0 1454.7h0M540.2 1460.6h0M379.0 1471.5h0M289.8 1463.5h0M536.3 1460.6h0M517.1 1468.3h0M463.8 1467.7h0M459.8 1473.2h0M364.1 1469.6h0M366.6 1474.8h0M210.1 1459.4h0M337.2 1473.8h0M396.2 1466.9h0M534.6 1469.1h0M538.8 1464.5h0M561.5 1469.5h0M335.4 1466.0h0M505.4 1461.9h0M513.3 1474.5h0M255.5 1472.1h0M468.2 1461.9h0M490.0 1477.0h0M331.5 1470.9h0M359.5 1469.6h0M266.3 1471.0h0M567.9 1459.2h0M214.1 1467.1h0M305.2 1475.5h0M315.8 1460.1h0M322.0 1467.7h0M367.9 1470.4h0M312.5 1477.3h0M211.2 1459.8h0M512.6 1463.0h0M284.5 1465.7h0M442.4 1475.6h0M500.4 1461.6h0M554.6 1461.1h0M507.9 1475.3h0M249.2 1464.1h0M285.6 1467.1h0M498.6 1474.1h0M489.3 1459.3h0M314.3 1476.6h0M481.8 1473.5h0M271.1 1460.6h0M389.0 1472.1h0M252.6 1475.2h0M420.2 1476.7h0M545.0 1465.1h0M309.1 1474.9h0M392.1 1472.1h0M475.5 1477.6h0M398.5 1470.3h0M526.6 1460.2h0M370.0 1467.5h0M434.5 1475.4h0M365.3 1468.2h0M251.3 1475.8h0M425.0 1476.9h0M306.5 1464.5h0M273.2 1470.6h0M415.9 1475.5h0M426.3 1467.1h0M244.4 1473.1h0M560.7 1464.5h0M322.8 1469.8h0M346.4 1474.8h0M385.7 1470.0h0M347.2 1468.8h0M551.3 1476.8h0M284.5 1465.4h0M474.9 1466.2h0M371.1 1472.0h0M307.1 1466.4h0M474.6 1476.9h0M230.2 1474.9h0M238.6 1469.8h0M225.7 1466.8h0M291.6 1474.2h0M213.7 1466.4h0M565.4 1468.2h0M371.3 1473.1h0M503.0 1471.8h0M361.6 1468.9h0M498.7 1468.1h0M563.7 1464.3h0M320.7 1468.5h0M575.5 1472.9h0M316.1 1472.4h0M513.8 1460.4h0M485.2 1468.0h0M535.8 1472.7h0M342.9 1466.3h0M357.6 1471.0h0M282.2 1471.7h0M529.0 1467.0h0M249.3 1468.1h0M333.2 1463.9h0M242.3 1463.7h0M218.9 1457.0h0M559.7 1468.7h0M275.0 1458.4h0M313.1 1465.5h0M558.4 1461.6h0M550.2 1467.6h0M507.4 1469.5h0M564.9 1477.2h0M438.2 1469.1h0M317.2 1462.8h0M291.8 1470.3h0M361.9 1472.7h0M562.1 1472.5h0M555.2 1473.2h0M298.2 1459.4h0M467.8 1463.0h0M451.2 1464.4h0M422.7 1469.8h0M377.6 1475.1h0M467.7 1464.3h0M390.1 1469.2h0M350.8 1468.8h0M288.9 1470.3h0M229.3 1463.8h0M392.0 1470.0h0M464.6 1474.7h0M407.1 1465.1h0M272.2 1476.6h0M380.7 1469.9h0M288.0 1470.6h0M348.2 1472.7h0M413.0 1476.5h0M496.2 1476.3h0M532.6 1459.4h0M435.8 1467.8h0M333.7 1470.9h0M401.1 1472.0h0M370.0 1466.0h0M573.9 1456.2h0M560.0 1477.8h0M454.8 1465.8h0M468.4 1466.2h0M340.3 1476.0h0M477.3 1460.0h0M558.3 1465.8h0M317.7 1466.9h0M282.7 1466.4h0M520.2 1477.6h0M521.3 1471.5h0M365.1 1471.6h0M262.0 1462.3h0M223.4 1472.5h0M245.2 1459.1h0M365.4 1475.7h0M233.7 1472.0h0M317.8 1467.2h0M374.3 1477.8h0M578.1 1460.8h0M430.5 1467.7h0M328.6 1475.2h0M446.8 1471.4h0M319.9 1466.8h0M381.7 1475.2h0M305.5 1469.8h0M502.5 1459.4h0M291.1 1473.3h0M232.1 1476.7h0M368.2 1473.2h0M246.7 1465.4h0M380.7 1474.5h0M428.4 1464.5h0M235.7 1460.1h0M423.9 1462.9h0M264.1 1464.4h0M294.8 1470.3h0M288.9 1462.1h0M487.0 1470.8h0M482.6 1461.9h0M440.8 1469.8h0M382.7 1465.6h0M511.8 1474.5h0M378.6 1468.0h0M299.4 1468.4h0M319.1 1467.9h0M433.4 1475.8h0M525.4 1460.2h0M497.7 1465.9h0M249.6 1465.8h0M532.5 1465.6h0M319.6 1469.6h0M417.2 1476.6h0M545.2 1477.6h0M231.6 1471.2h0M388.2 1471.7h0M520.6 1465.3h0M207.8 1460.7h0M566.9 1476.5h0M379.3 1464.3h0M483.3 1465.0h0M534.5 1467.7h0M316.7 1460.9h0M305.9 1465.5h0M316.4 1473.4h0M522.8 1471.6h0M373.8 1473.3h0M222.7 1466.0h0M406.0 1472.2h0M206.0 1494.2h0M208.5 1493.4h0M211.0 1493.7h0M213.5 1493.7h0M216.0 1494.3h0M218.5 1494.2h0M221.0 1494.5h0M223.5 1493.5h0M226.0 1493.9h0M228.5 1493.4h0M231.0 1493.7h0M233.5 1494.0h0M236.0 1493.4h0M238.5 1493.6h0M241.0 1494.2h0M243.5 1494.1h0M246.0 1493.7h0M248.5 1494.1h0M251.0 1494.4h0M253.5 1493.4h0M256.0 1494.4h0M258.5 1494.2h0M261.0 1493.8h0M263.5 1493.6h0M266.0 1494.5h0M268.5 1493.8h0M271.0 1493.5h0M273.5 1493.5h0M276.0 1494.4h0M278.5 1494.1h0M281.0 1494.4h0M283.5 1494.3h0M286.0 1494.0h0M288.5 1494.6h0M291.0 1493.9h0M293.5 1494.1h0M296.0 1494.4h0M298.5 1494.1h0M301.0 1494.4h0M303.5 1494.1h0M306.0 1494.2h0M308.5 1493.5h0M311.0 1493.7h0M313.5 1493.7h0M316.0 1493.5h0M318.5 1493.7h0M321.0 1493.5h0M323.5 1493.7h0M326.0 1494.2h0M328.5 1493.8h0M331.0 1493.8h0M333.5 1493.7h0M336.0 1493.7h0M338.5 1494.5h0M341.0 1494.2h0M343.5 1494.1h0M346.0 1493.6h0M348.5 1494.3h0M351.0 1493.6h0M353.5 1493.9h0M356.0 1494.6h0M358.5 1494.2h0M361.0 1494.1h0M363.5 1494.2h0M366.0 1494.4h0M368.5 1494.3h0M371.0 1493.7h0M373.5 1493.4h0M376.0 1493.8h0M378.5 1493.7h0M381.0 1493.7h0M383.5 1494.5h0M386.0 1494.5h0M388.5 1493.8h0M391.0 1494.2h0M393.5 1493.9h0M396.0 1494.5h0M398.5 1494.0h0M401.0 1493.7h0M403.5 1493.7h0M406.0 1494.1h0M408.5 1493.7h0M411.0 1494.1h0M413.5 1494.5h0M416.0 1493.9h0M418.5 1493.7h0M421.0 1494.6h0M423.5 1494.0h0M426.0 1493.5h0M428.5 1493.5h0M431.0 1493.5h0M433.5 1494.2h0M436.0 1494.4h0M438.5 1493.9h0M441.0 1493.5h0M443.5 1493.9h0M446.0 1494.6h0M448.5 1494.0h0M451.0 1494.6h0M453.5 1494.4h0M456.0 1493.4h0M458.5 1494.3h0M461.0 1494.2h0M463.5 1494.0h0M466.0 1493.7h0M468.5 1494.2h0M471.0 1493.5h0M473.5 1493.9h0M476.0 1493.9h0M478.5 1494.5h0M481.0 1494.5h0M483.5 1493.7h0M486.0 1494.0h0M488.5 1493.6h0M491.0 1494.5h0M493.5 1494.4h0M496.0 1493.8h0M498.5 1494.2h0M501.0 1494.1h0M503.5 1493.6h0M506.0 1494.3h0M508.5 1494.0h0M511.0 1494.3h0M513.5 1494.0h0M516.0 1493.4h0M518.5 1493.8h0M521.0 1493.4h0M523.5 1494.5h0M526.0 1494.5h0M528.5 1494.4h0M531.0 1493.8h0M533.5 1493.5h0M536.0 1494.5h0M538.5 1494.5h0M541.0 1493.5h0M543.5 1494.0h0M546.0 1493.5h0M548.5 1494.3h0M551.0 1494.3h0M553.5 1493.6h0M556.0 1494.0h0M558.5 1494.1h0M561.0 1493.7h0M563.5 1494.4h0M566.0 1493.9h0M568.5 1493.7h0M571.0 1494.0h0M573.5 1494.3h0M576.0 1493.6h0M578.5 1493.8h0M332.5 1349.7h0M343.9 1345.7h0M365.3 1361.5h0M379.1 1366.4h0M384.0 1378.8h0M394.8 1382.1h0M403.7 1380.2h0M412.5 1339.4h0M421.4 1338.9h0M428.2 1345.7h0M427.3 1349.7h0M421.4 1377.6h0M270.9 1399.2h0M326.0 1406.7h0M209.9 1421.5h0M388.9 1411.6h0M384.0 1420.1h0M394.8 1420.1h0M406.6 1410.6h0M469.6 1416.5h0M430.8 1428.3h0M298.4 1437.2h0M272.3 1442.5h0M312.2 1442.7h0M433.2 1441.1h0M436.1 1446.1h0M362.4 1440.1h0M372.2 1441.1h0M382.0 1442.1h0M391.9 1444.1h0M401.7 1442.1h0M409.6 1447.0h0M413.5 1449.0h0M374.2 1448.0h0M403.7 1457.9h0M449.9 1456.9h0M443.0 1459.8h0M523.6 1457.9h0M535.4 1461.4h0M576.8 1459.8h0M559.1 1460.8h0M252.2 1449.0h0M223.7 1447.6h0M232.5 1447.6h0M240.4 1451.0h0M208.9 1449.0h0M285.6 1450.4h0M275.8 1452.0h0M306.3 1453.9h0M309.2 1452.9h0M327.0 1458.8h0M332.9 1453.9h0M342.7 1441.1h0M424.3 1465.3h0M439.1 1465.7h0M466.6 1460.8h0M472.5 1461.8h0M500.0 1465.7h0M511.8 1464.7h0M553.2 1465.7h0M566.9 1465.7h0M386.0 1471.6h0M393.8 1465.7h0M401.7 1465.7h0M409.6 1465.7h0M342.7 1465.7h0M330.9 1465.7h0" stroke="#293d6d" stroke-width="8.6" stroke-linecap="round" fill="none"/>
<path d="M343.7 1431.9h0M329.3 1447.6h0M342.7 1447.0h0M346.6 1445.1h0M338.8 1453.9h0M316.1 1467.3h0M355.5 1463.8h0M372.2 1465.7h0M376.1 1464.7h0M419.4 1470.6h0M411.5 1473.6h0" stroke="#2abbce" stroke-width="9.2" stroke-linecap="round" fill="none"/>
<path d="M332.5 1432.7h0M350.9 1452.3h0M375.3 1476.5h0M329.9 1432.3h0" stroke="#62bb7c" stroke-width="11.8" stroke-linecap="round" fill="none"/>
<path d="M358.8 1386.1h0" stroke="#e61f29" stroke-width="12.0" stroke-linecap="round" fill="none"/>
<path d="M338.8 1234.3h0M338.8 1239.6h0M340.3 1248.4h0M411.5 1314.5h0" stroke="#2abbce" stroke-width="9.2" stroke-linecap="round" fill="none"/>
<path d="M350.6 1236.2h0M379.1 1316.3h0M413.5 1338.5h0M421.4 1338.5h0" stroke="#293d6d" stroke-width="8.6" stroke-linecap="round" fill="none"/>
<path d="M355.5 1256.7h0M361.8 1284.2h0" stroke="#e61f29" stroke-width="12.0" stroke-linecap="round" fill="none"/>
<path d="M363.9 1256.3h0" stroke="#f2a52a" stroke-width="11.8" stroke-linecap="round" fill="none"/>
</svg>
<svg x="205" y="1518" width="376" height="356" viewBox="205 1518 376 356" overflow="hidden">
<path d="M206.0 1857.4h0M208.2 1857.6h0M210.4 1857.3h0M212.6 1857.9h0M214.8 1857.4h0M217.0 1857.6h0M219.2 1857.9h0M221.4 1857.5h0M223.6 1858.0h0M225.8 1857.8h0M228.0 1857.6h0M230.2 1857.7h0M232.4 1857.7h0M234.6 1857.5h0M236.8 1858.0h0M239.0 1857.5h0M241.2 1858.0h0M243.4 1857.9h0M245.6 1857.2h0M247.8 1857.4h0M250.0 1857.6h0M252.2 1857.9h0M254.4 1857.3h0M256.6 1857.7h0M258.8 1857.5h0M265.0 1857.8h0M267.2 1857.9h0M269.4 1857.8h0M271.6 1857.4h0M273.8 1857.8h0M276.0 1857.6h0M278.2 1857.9h0M280.4 1857.6h0M282.6 1857.9h0M284.8 1858.0h0M287.0 1857.9h0M289.2 1857.9h0M291.4 1857.9h0M301.0 1857.7h0M303.2 1857.3h0M305.4 1858.0h0M313.0 1857.6h0M315.2 1857.2h0M317.4 1857.5h0M319.6 1857.5h0M321.8 1857.4h0M324.0 1858.0h0M326.2 1857.3h0M328.4 1857.9h0M330.6 1857.6h0M332.8 1857.3h0M335.0 1857.5h0M337.2 1857.6h0M339.4 1857.3h0M341.6 1857.8h0M343.8 1857.7h0M346.0 1858.0h0M348.2 1857.9h0M350.4 1857.8h0M352.6 1858.0h0M354.8 1857.9h0M357.0 1857.7h0M359.2 1857.6h0M361.4 1857.6h0M363.6 1857.9h0M365.8 1857.9h0M368.0 1857.9h0M370.2 1857.9h0M372.4 1857.2h0M374.6 1857.5h0M376.8 1857.3h0M379.0 1857.7h0M381.2 1857.7h0M383.4 1857.6h0M385.6 1857.9h0M387.8 1857.4h0M390.0 1857.8h0M392.2 1857.7h0M394.4 1857.4h0M396.6 1858.0h0M398.8 1857.2h0M401.0 1857.6h0M403.2 1857.6h0M405.4 1857.7h0M407.6 1858.0h0M409.8 1857.6h0M412.0 1857.9h0M414.2 1857.4h0M416.4 1857.6h0M418.6 1857.3h0M420.8 1857.7h0M423.0 1857.5h0M425.2 1857.8h0M427.4 1857.3h0M429.6 1857.6h0M431.8 1858.0h0M434.0 1857.2h0M436.2 1857.7h0M438.4 1857.7h0M440.6 1857.8h0M445.0 1857.6h0M447.2 1857.6h0M449.4 1858.0h0M451.6 1857.4h0M453.8 1857.8h0M456.0 1857.7h0M458.2 1857.8h0M460.4 1857.6h0M462.6 1857.2h0M464.8 1857.8h0M467.0 1857.4h0M469.2 1857.8h0M471.4 1858.0h0M473.6 1857.8h0M475.8 1857.5h0M478.0 1857.9h0M487.0 1857.5h0M489.2 1857.5h0M491.4 1857.7h0M493.6 1857.7h0M495.8 1857.7h0M498.0 1857.6h0M500.2 1857.5h0M502.4 1857.8h0M504.6 1857.5h0M506.8 1857.7h0M509.0 1857.2h0M511.2 1857.3h0M513.4 1857.9h0M515.6 1857.4h0M517.8 1857.5h0M520.0 1857.2h0M522.2 1857.8h0M524.4 1857.5h0M526.6 1857.2h0M528.8 1857.4h0M531.0 1857.9h0M533.2 1857.8h0M535.4 1857.2h0M537.6 1858.0h0M539.8 1857.3h0M542.0 1857.6h0M544.2 1857.6h0M546.4 1857.8h0M548.6 1857.3h0M550.8 1857.9h0M553.0 1857.4h0M555.2 1857.8h0M557.4 1857.9h0M559.6 1857.7h0M561.8 1857.2h0M564.0 1857.7h0M566.2 1857.5h0M568.4 1857.8h0M570.6 1857.8h0M572.8 1857.3h0M575.0 1857.7h0" stroke="#0b0b0b" stroke-width="7.8" stroke-linecap="round" fill="none"/>
<path d="M374.0 1856.3h0M362.7 1857.6h0M372.4 1857.3h0M371.4 1856.6h0M374.8 1857.3h0M338.2 1857.1h0M358.4 1856.2h0M347.4 1856.1h0M333.1 1856.6h0M340.4 1856.9h0M365.0 1857.3h0M368.6 1858.8h0" stroke="#0b0b0b" stroke-width="9.2" stroke-linecap="round" fill="none"/>
</svg>
<svg x="819" y="63.6" width="375.7" height="356" viewBox="819 63.6 375.7 356" overflow="hidden">
<path d="M820.0 403.7h0M822.5 403.8h0M825.0 404.1h0M827.5 403.5h0M830.0 403.5h0M832.5 403.9h0M835.0 403.7h0M837.5 403.5h0M840.0 403.6h0M842.5 403.5h0M845.0 403.3h0M847.5 403.9h0M850.0 404.2h0M852.5 403.9h0M855.0 403.9h0M857.5 403.5h0M860.0 403.6h0M862.5 403.3h0M865.0 404.0h0M867.5 403.5h0M870.0 403.5h0M872.5 404.3h0M875.0 403.5h0M877.5 404.3h0M880.0 403.8h0M882.5 404.0h0M885.0 403.9h0M887.5 403.3h0M890.0 404.0h0M892.5 403.4h0M895.0 403.6h0M897.5 403.3h0M900.0 403.2h0M902.5 403.5h0M905.0 403.1h0M907.5 403.6h0M910.0 404.1h0M912.5 404.3h0M915.0 403.6h0M917.5 403.2h0M920.0 403.5h0M922.5 403.2h0M925.0 403.4h0M927.5 403.8h0M930.0 403.8h0M932.5 403.1h0M935.0 403.7h0M937.5 403.6h0M940.0 403.6h0M942.5 403.3h0M945.0 403.6h0M947.5 403.2h0M950.0 403.9h0M952.5 403.9h0M955.0 403.9h0M957.5 403.6h0M960.0 404.2h0M962.5 403.5h0M965.0 403.3h0M967.5 403.5h0M970.0 404.2h0M972.5 403.3h0M975.0 404.0h0M977.5 404.2h0M980.0 404.1h0M982.5 403.7h0M985.0 403.6h0M987.5 404.1h0M990.0 404.0h0M992.5 404.1h0M995.0 403.3h0M997.5 403.8h0M1000.0 404.0h0M1002.5 403.4h0M1005.0 403.3h0M1007.5 404.1h0M1010.0 403.8h0M1012.5 403.6h0M1015.0 403.7h0M1017.5 403.4h0M1020.0 403.4h0M1022.5 403.2h0M1025.0 403.6h0M1027.5 403.3h0M1030.0 404.2h0M1032.5 404.2h0M1035.0 403.8h0M1037.5 403.2h0M1040.0 403.8h0M1042.5 403.3h0M1045.0 403.5h0M1047.5 403.3h0M1050.0 403.7h0M1052.5 403.2h0M1055.0 403.4h0M1057.5 403.4h0M1060.0 403.7h0M1062.5 404.2h0M1065.0 403.8h0M1067.5 404.0h0M1070.0 404.0h0M1072.5 403.7h0M1075.0 403.2h0M1077.5 403.2h0M1080.0 403.3h0M1082.5 403.7h0M1085.0 403.5h0M1087.5 404.2h0M1090.0 403.3h0M1092.5 403.3h0M1095.0 403.9h0M1097.5 403.8h0M1100.0 403.2h0M1102.5 403.5h0M1105.0 403.6h0M1107.5 404.1h0M1110.0 404.0h0M1112.5 404.1h0M1115.0 403.7h0M1117.5 404.2h0M1120.0 403.7h0M1122.5 403.4h0M1125.0 403.3h0M1127.5 404.1h0M1130.0 403.9h0M1132.5 403.8h0M1135.0 404.3h0M1137.5 403.9h0M1140.0 403.5h0M1142.5 403.9h0M1145.0 404.2h0M1147.5 403.3h0M1150.0 404.2h0M1152.5 403.6h0M1155.0 403.2h0M1157.5 403.7h0M1160.0 404.0h0M1162.5 403.7h0M1165.0 403.4h0M1167.5 404.0h0M1170.0 403.2h0M1172.5 403.9h0M1175.0 403.5h0M1177.5 403.8h0M1180.0 403.7h0M1182.5 403.4h0M1185.0 403.3h0M1187.5 404.1h0M1190.0 403.6h0M1192.5 403.4h0M987.0 381.2h0M994.7 382.1h0M903.7 398.0h0M884.0 391.0h0M849.1 399.4h0M997.4 380.3h0M842.1 393.2h0M913.4 395.6h0M881.7 392.6h0M848.9 387.8h0M834.2 395.6h0M921.3 392.3h0M988.4 384.2h0M881.7 390.3h0M990.3 384.1h0M872.3 390.0h0M944.2 385.6h0M851.1 395.7h0M923.5 391.6h0M822.5 396.3h0M838.3 392.8h0M983.0 399.8h0M972.4 386.6h0M921.8 397.9h0M881.8 389.1h0M948.5 386.9h0M905.3 387.7h0M968.2 390.0h0M837.6 389.1h0M935.6 382.3h0M940.5 384.4h0M915.6 387.0h0M937.8 382.7h0M893.6 393.6h0M866.7 399.9h0M998.4 399.2h0M987.7 398.7h0M922.7 396.8h0M893.1 382.6h0M986.6 398.2h0M866.4 389.3h0M862.2 395.2h0M850.4 397.0h0M826.7 396.0h0M960.8 389.7h0M844.8 386.5h0M942.5 381.5h0M870.7 393.1h0M875.6 382.9h0M963.1 394.4h0M930.2 382.0h0M907.2 399.3h0M912.1 385.4h0M988.6 385.1h0M914.2 383.5h0M975.2 393.2h0M915.6 390.0h0M881.2 390.2h0M912.1 380.8h0M948.3 395.1h0M825.1 394.8h0M948.3 386.9h0M845.4 395.7h0M996.9 384.7h0M926.5 391.0h0M920.1 391.9h0M984.5 396.9h0M979.8 393.2h0M957.1 395.1h0M953.5 393.7h0M956.6 381.2h0M850.5 394.4h0M896.2 385.5h0M936.3 384.0h0M956.2 386.4h0M984.9 384.6h0M993.6 384.3h0M960.9 382.7h0M910.6 387.4h0M975.1 393.8h0M922.7 382.3h0M914.1 385.0h0M838.3 396.6h0M918.3 400.0h0M971.7 379.8h0M989.8 389.2h0M998.4 383.5h0M904.3 394.1h0M866.0 389.9h0M880.6 388.1h0M917.3 390.1h0M979.1 383.5h0M863.4 388.0h0M820.8 397.1h0M882.6 383.6h0M913.2 382.1h0M963.0 398.8h0M929.5 384.0h0M847.5 385.9h0M853.1 397.6h0M957.7 397.2h0M886.0 391.9h0M948.6 393.2h0M936.5 380.6h0M999.2 389.9h0M870.7 388.3h0M957.1 398.5h0M826.7 394.7h0M829.0 397.3h0M928.8 392.4h0M1080.1 384.5h0M1163.7 394.6h0M1015.7 393.9h0M1013.6 380.8h0M1013.3 391.1h0M1151.7 394.5h0M1040.0 395.7h0M1156.9 391.4h0M1049.3 391.3h0M1175.1 399.5h0M1157.8 396.4h0M1041.0 389.2h0M1077.0 391.9h0M1087.7 382.5h0M1161.6 389.1h0M1061.5 383.4h0M1174.0 394.3h0M1104.0 398.7h0M1110.1 398.4h0M1071.0 386.9h0M1066.7 384.9h0M1062.6 377.2h0M1177.3 398.7h0M1122.1 390.0h0M1036.1 378.8h0M1174.1 398.9h0M1082.0 394.4h0M1172.6 393.3h0M1065.8 385.6h0M1061.4 388.6h0M1053.1 377.1h0M1156.5 392.6h0M1144.3 386.2h0M1055.3 387.0h0M1006.6 386.5h0M1032.2 383.8h0M1052.8 394.2h0M1091.4 383.5h0M1106.1 388.5h0M1040.0 393.8h0M1104.7 378.3h0M1097.4 386.8h0M1015.6 399.3h0M1111.7 399.8h0M1085.8 387.6h0M1028.2 391.2h0M1087.0 382.0h0M1151.2 394.2h0M1015.5 399.5h0M1075.3 398.3h0M1073.9 378.3h0M1098.8 387.0h0M1140.6 391.5h0M1066.6 385.9h0M1086.8 394.1h0M1144.3 390.4h0M1025.4 374.6h0M1108.1 383.2h0M1153.2 392.1h0M1172.5 393.5h0M1150.4 387.3h0M1044.0 383.8h0M1050.6 385.4h0M1090.9 391.6h0M1005.5 391.1h0M1068.5 391.0h0M1054.1 395.3h0M1038.7 374.6h0M1130.3 392.9h0M1033.2 382.2h0M1106.2 261.3h0M1028.5 269.2h0M1042.2 289.8h0M1093.4 317.4h0M1129.8 306.5h0M1131.7 312.4h0M1121.9 328.2h0M1119.0 332.1h0M1135.7 334.1h0M1138.6 342.0h0M1137.6 349.8h0M1108.1 339.0h0M1184.9 345.9h0M1161.3 385.2h0M1186.8 395.1h0M1127.8 368.5h0M1141.6 372.4h0M1122.9 379.3h0M1133.7 385.2h0M1070.8 364.6h0M1060.9 355.7h0M1055.0 367.5h0M1035.4 355.7h0M1041.3 355.7h0M1033.4 364.6h0M1040.3 366.5h0M1011.8 353.8h0M1024.5 356.7h0M1001.9 362.6h0M1002.9 364.6h0M994.1 371.5h0M976.4 365.6h0M944.9 377.4h0M937.0 381.3h0M929.1 383.3h0M921.3 382.3h0M905.5 366.5h0M856.4 366.5h0M851.5 370.5h0M830.8 384.2h0M822.9 384.2h0M838.7 387.2h0M846.5 387.2h0M854.4 384.2h0M885.9 375.4h0M878.0 381.3h0M889.8 389.2h0M1110.1 364.6h0M1116.0 364.6h0M1100.3 369.5h0M1095.4 388.2h0M1084.5 386.2h0M1045.2 382.3h0M1015.7 377.4h0M1017.7 382.3h0M1023.6 383.3h0M1070.8 393.1h0M1129.8 393.1h0M1141.6 387.2h0M1153.4 398.0h0M1175.0 395.1h0" stroke="#bdbfc1" stroke-width="8.2" stroke-linecap="round" fill="none"/>
<path d="M1020.6 340.0h0M1027.5 340.0h0M1035.4 343.9h0M1043.2 344.9h0M1051.1 345.9h0M1019.6 348.8h0M1027.5 347.9h0M975.4 338.0h0M940.0 353.8h0M947.8 353.8h0M964.6 353.8h0M968.5 362.6h0M976.4 365.6h0M984.2 366.5h0M988.2 359.7h0M971.4 370.5h0M988.2 375.4h0M925.2 365.6h0M1080.6 355.7h0M1086.5 345.9h0M1088.5 355.7h0M1094.4 357.7h0M1098.3 361.6h0M1104.2 365.6h0M1082.6 366.5h0M1086.5 379.3h0M1102.2 382.3h0M1066.8 390.1h0M1031.4 391.1h0M1039.3 392.1h0M868.2 385.2h0M876.0 383.3h0M897.7 383.3h0M907.5 383.3h0M1049.1 341.0h0M1057.0 345.9h0M1116.0 336.1h0M1126.8 354.7h0M1131.7 327.2h0M1137.6 310.5h0M1061.9 361.6h0M1076.7 367.5h0M1084.5 371.5h0" stroke="#7f9c9b" stroke-width="9.2" stroke-linecap="round" fill="none"/>
<path d="M1025.5 257.0h0M1018.6 270.2h0M1007.8 276.1h0M1013.7 276.1h0M1017.7 276.1h0M1013.7 283.3h0M1035.4 267.2h0M1035.4 272.1h0M1039.3 275.1h0M1045.2 279.0h0M1047.2 284.9h0M1043.2 287.9h0M1064.9 275.1h0M1070.8 275.5h0M1074.7 275.1h0M1080.6 275.5h0M1084.5 275.1h0M1092.4 275.1h0M1093.4 281.0h0M1098.3 291.8h0M1102.2 291.8h0M1106.2 291.8h0M1110.1 291.8h0M1114.0 291.8h0M1121.9 292.8h0M1127.8 294.7h0M1132.7 277.0h0M1134.7 278.0h0M1060.9 279.0h0M1068.8 279.0h0M1078.6 279.0h0M1051.1 273.1h0M1055.0 282.9h0M1092.4 279.0h0M1125.8 294.7h0" stroke="#246462" stroke-width="11.0" stroke-linecap="round" fill="none"/>
<path d="M1098.3 300.6h0M1102.2 302.6h0M1101.3 319.3h0M1114.0 319.3h0M1122.9 312.4h0M1134.7 314.4h0M1131.7 327.2h0M996.0 312.4h0M1004.9 316.4h0M995.0 334.1h0M1091.4 373.4h0M1116.0 345.9h0M1118.0 319.3h0" stroke="#4b7876" stroke-width="10.6" stroke-linecap="round" fill="none"/>
</svg>
<svg x="819" y="427.2" width="375.7" height="356" viewBox="819 427.2 375.7 356" overflow="hidden">
<path d="M941.1 759.4h0M823.2 767.7h0M1127.5 768.3h0M918.5 747.5h0M840.5 742.3h0M829.0 758.2h0M956.8 763.8h0M1104.5 754.8h0M882.4 749.0h0M831.3 756.8h0M891.0 743.6h0M1152.3 752.1h0M1173.8 767.7h0M1068.3 754.1h0M875.2 745.6h0M1095.5 758.6h0M931.4 744.4h0M951.3 753.6h0M845.9 744.3h0M930.5 754.0h0M1004.7 758.7h0M1137.7 750.1h0M855.5 746.3h0M900.8 756.3h0M998.1 752.9h0M855.4 760.5h0M1053.4 760.9h0M1082.9 765.6h0M833.1 741.8h0M996.4 761.4h0M1008.6 757.5h0M934.9 750.2h0M1146.9 767.8h0M1006.9 756.6h0M868.0 756.1h0M899.2 757.7h0M924.2 754.8h0M1143.6 749.7h0M1020.1 753.8h0M1001.6 765.4h0M1004.2 767.5h0M972.5 754.2h0M1061.2 758.7h0M1071.3 755.0h0M825.1 749.2h0M844.1 744.2h0M1043.6 762.1h0M1160.3 758.6h0M1027.7 754.6h0M998.4 752.2h0M858.3 753.7h0M1055.9 754.8h0M1096.6 758.9h0M935.7 764.8h0M828.3 744.3h0M940.0 760.7h0M914.5 767.8h0M859.3 751.1h0M995.7 762.4h0M915.1 746.2h0M1098.3 764.0h0M1035.1 766.3h0M967.7 754.3h0M1006.5 749.1h0M1129.6 745.6h0M848.9 765.4h0M989.0 747.4h0M1152.0 745.0h0M989.5 744.3h0M873.6 752.6h0M1082.1 752.2h0M1104.9 760.9h0M1071.6 767.6h0M999.7 746.0h0M841.0 764.1h0M860.5 745.6h0M1064.2 763.3h0M1102.0 759.3h0M942.2 766.0h0M826.9 743.8h0M1189.2 742.3h0M1134.8 758.2h0M1056.4 761.2h0M988.1 764.4h0M842.3 745.3h0M1108.5 762.7h0M1060.0 762.3h0M929.8 758.5h0M1033.2 764.5h0M905.9 748.5h0M940.0 749.8h0M1092.3 758.4h0M845.3 764.9h0M1015.7 764.5h0M1098.4 756.2h0M939.9 757.8h0M1171.7 762.2h0M1178.0 754.9h0M1023.8 753.5h0M1025.2 759.0h0M1105.1 764.9h0M1157.0 746.1h0M1062.0 750.4h0M925.1 758.3h0M820.4 763.8h0M1021.6 752.2h0M977.7 761.8h0M854.2 765.5h0M1065.9 759.3h0M891.9 757.5h0M903.0 742.3h0M1138.6 751.4h0M1108.3 757.4h0M1030.5 755.6h0M1126.5 763.1h0M965.2 757.1h0M922.9 766.0h0M991.2 758.7h0M1034.9 749.8h0M944.6 763.0h0M1040.3 753.0h0M881.9 764.4h0M1123.8 765.6h0M886.1 755.1h0M983.8 753.6h0M955.0 759.5h0M1034.2 749.2h0M834.8 741.5h0M1123.1 765.1h0M1071.0 756.4h0M1018.9 760.6h0M884.3 767.1h0M1163.1 738.9h0M915.3 749.2h0M1141.7 765.9h0M1172.9 750.5h0M1023.5 751.3h0M831.2 756.4h0M1024.8 765.7h0M1164.9 754.2h0M840.9 754.4h0M1168.3 752.1h0M1061.2 758.9h0M987.4 753.9h0M906.9 753.1h0M1117.8 762.6h0M831.8 742.7h0M847.0 739.3h0M823.4 759.2h0M895.9 758.6h0M1130.8 747.6h0M912.2 744.7h0M869.5 767.7h0M1148.1 767.5h0M889.0 751.6h0M1027.0 748.7h0M1062.0 765.9h0M1166.9 764.2h0M933.7 763.5h0M896.8 752.9h0M847.4 739.4h0M849.9 747.8h0M1098.2 759.4h0M882.6 747.3h0M955.7 746.7h0M880.9 766.7h0M1112.2 761.5h0M854.0 752.8h0M1114.9 764.4h0M902.3 750.9h0M1048.2 751.4h0M1045.3 749.8h0M1125.2 750.2h0M956.2 761.0h0M1043.9 768.1h0M1066.9 754.4h0M872.4 761.6h0M1091.0 752.7h0M1126.2 753.7h0M888.0 743.5h0M985.8 762.9h0M1015.1 753.3h0M1060.4 749.4h0M1094.5 762.1h0M991.2 745.8h0M971.6 765.8h0M1168.5 760.8h0M1083.6 768.0h0M921.3 765.2h0M1162.1 763.3h0M907.0 758.6h0M831.9 743.3h0M1133.3 746.9h0M1061.2 752.9h0M1182.9 766.2h0M1180.9 755.3h0M1193.4 741.0h0M1037.3 749.9h0M1043.8 768.1h0M1093.7 764.2h0M1158.5 764.4h0M1049.9 763.8h0M878.1 745.8h0M1090.2 763.0h0M969.7 754.7h0M945.7 763.4h0M987.6 751.7h0M903.2 753.2h0M1150.8 746.8h0M832.7 747.4h0M952.9 765.8h0M1020.2 759.1h0M932.9 753.9h0M1013.3 757.4h0M996.4 767.5h0M1043.4 755.2h0M1093.7 751.5h0M862.9 749.3h0M1018.6 760.3h0M863.0 757.3h0M1169.2 745.1h0M967.0 755.9h0M1115.6 765.0h0M1062.0 759.9h0M890.3 754.4h0M850.1 737.6h0M869.3 763.8h0M918.5 746.4h0M1105.5 756.5h0M865.7 757.5h0M1182.5 737.3h0M1183.9 754.3h0M1097.4 760.4h0M973.1 751.5h0M1098.9 757.0h0M1092.8 760.1h0M1128.9 754.6h0M936.6 753.5h0M1027.6 762.3h0M1041.1 749.1h0M1190.7 750.2h0M860.9 761.4h0M873.5 738.2h0M1151.2 755.3h0M1048.8 756.1h0M853.9 765.6h0M829.6 747.7h0M1102.6 762.0h0M875.8 749.8h0M905.3 749.7h0M895.5 742.5h0M1140.1 764.4h0M967.0 748.7h0M1104.1 759.0h0M1146.9 755.3h0M982.9 759.1h0M1109.6 767.8h0M1061.3 758.9h0M1007.8 751.2h0M884.4 760.1h0M990.5 752.7h0M1004.8 750.4h0M844.8 745.2h0M1005.7 757.1h0M1115.5 753.6h0M1072.8 755.0h0M1189.2 758.3h0M995.6 754.4h0M1029.9 750.9h0M1065.7 766.3h0M1114.8 749.9h0M1069.4 753.1h0M1124.5 754.1h0M989.4 754.0h0M1092.5 765.4h0M912.5 766.7h0M904.6 741.6h0M1122.0 766.4h0M882.2 738.9h0M938.8 745.9h0M1160.5 747.6h0M820.0 753.1h0M952.3 746.5h0M833.5 749.9h0M1022.6 767.3h0M1039.1 766.3h0M968.4 764.8h0M884.9 763.0h0M978.4 756.3h0M1127.7 747.2h0M1044.5 758.7h0M1007.9 751.4h0M1163.7 748.4h0M1029.0 752.0h0M869.3 748.2h0M838.5 768.1h0M875.9 744.9h0M991.1 752.9h0M923.4 743.3h0M889.2 762.3h0M936.2 762.9h0M1064.4 767.2h0M884.2 755.9h0M843.9 747.8h0M1113.1 756.7h0M1178.0 760.8h0M847.8 754.0h0M922.9 743.3h0M1079.6 764.2h0M881.1 764.1h0M1123.5 759.1h0M1018.5 758.0h0M1141.7 763.5h0M943.4 761.7h0M885.6 766.2h0M1115.9 764.6h0M1148.8 745.2h0M1065.2 762.8h0M1066.2 762.7h0M1134.0 757.4h0M1089.9 749.9h0M1072.3 761.5h0M1157.7 753.9h0M928.0 767.2h0M906.3 756.7h0M1101.0 768.3h0M957.0 762.6h0M1101.9 750.2h0M1166.3 740.0h0M1151.3 764.4h0M1008.6 763.9h0M855.0 737.9h0M929.7 749.5h0M999.3 766.6h0M1047.4 761.4h0M1062.4 749.5h0M1029.5 756.1h0M949.3 751.2h0M963.0 757.0h0M1027.4 750.4h0M861.7 760.4h0M950.1 763.8h0M941.4 755.3h0M1082.3 756.3h0M1035.4 768.0h0M847.4 758.3h0M1106.8 767.4h0M1176.4 746.3h0M949.6 755.4h0M1066.7 753.9h0M917.1 752.1h0M946.7 755.6h0M992.2 760.6h0M1110.1 761.4h0M1111.5 748.2h0M1097.7 757.0h0M1020.1 762.2h0M1004.8 751.1h0M1035.7 753.9h0M967.3 758.4h0M1018.7 750.9h0M971.5 743.3h0M973.8 767.0h0M1075.8 753.5h0M1034.4 761.2h0M1077.7 761.6h0M861.2 764.1h0M1149.0 744.0h0M1053.2 749.7h0M870.5 757.5h0M1066.0 760.3h0M986.8 767.4h0M1193.8 743.2h0M1007.0 753.9h0M903.8 765.4h0M1188.5 739.5h0M948.8 766.7h0M1159.3 760.2h0M1008.9 762.6h0M1119.9 760.1h0M1137.9 767.6h0M873.2 742.5h0M1047.5 756.2h0M1103.1 765.7h0M910.0 744.7h0M903.9 741.8h0M1083.3 760.1h0M1022.1 768.0h0M897.3 766.2h0M1117.5 755.7h0M894.4 768.0h0M1165.5 743.5h0M1093.3 758.3h0M1044.2 762.3h0M1155.4 743.1h0M1101.4 752.5h0M872.6 739.5h0M860.1 751.5h0M1035.4 760.8h0M944.5 759.9h0M1156.7 754.6h0M979.0 742.6h0M891.2 766.1h0M1062.4 760.2h0M997.0 755.4h0M923.0 765.0h0M836.1 741.7h0M995.7 759.2h0M1035.7 765.5h0M1073.6 759.9h0M1071.0 753.3h0M1043.1 759.3h0M1129.2 764.7h0M1138.2 750.8h0M1098.6 766.0h0M1012.8 753.1h0M1119.7 759.3h0M874.2 763.0h0M1059.8 755.5h0M828.7 764.9h0M981.1 744.0h0M835.8 743.9h0M990.6 760.7h0M945.5 761.4h0M997.5 752.7h0M1047.5 752.0h0M1156.4 739.3h0M1092.1 768.2h0M1061.1 764.2h0M1170.9 742.8h0M830.9 757.4h0M1128.6 751.6h0M1086.6 755.3h0M838.3 751.5h0M1030.2 755.0h0M865.8 761.3h0M1114.4 758.2h0M1009.8 749.4h0M981.7 758.7h0M1139.5 762.0h0M1140.1 747.4h0M1036.8 749.1h0M998.4 751.9h0M828.2 739.6h0M1086.5 756.3h0M1018.1 749.8h0M1006.2 751.7h0M1152.8 750.2h0M1062.1 754.2h0M1093.1 762.9h0M1068.6 749.5h0M1075.8 766.3h0M1192.3 757.8h0M829.2 763.2h0M1133.0 756.0h0M937.8 754.6h0M1087.4 766.5h0M1132.6 766.4h0M939.8 765.5h0M830.3 744.0h0M1168.6 761.2h0M920.5 748.8h0M1088.1 766.0h0M994.9 762.5h0M931.0 766.8h0M867.7 746.7h0M1086.7 750.9h0M997.7 756.7h0M1022.5 758.9h0M1025.7 765.6h0M1092.2 763.5h0M1032.3 763.3h0M962.7 759.6h0M1155.9 753.2h0M1060.6 756.0h0M1082.2 751.2h0M982.3 759.1h0M1054.7 754.0h0M934.5 755.9h0M1022.8 766.1h0M1157.1 755.1h0M891.8 762.1h0M922.5 752.4h0M992.4 744.5h0M975.8 768.1h0M833.8 742.8h0M1032.7 768.1h0M1137.9 745.7h0M1151.1 740.7h0M940.2 756.6h0M1096.9 757.8h0M925.1 748.3h0M1125.6 752.9h0M1018.6 757.7h0M1074.6 751.7h0M1012.3 763.9h0M846.4 754.2h0M990.0 761.6h0M1071.7 755.5h0M1085.3 759.0h0M953.8 763.2h0M886.8 739.1h0M983.4 754.6h0M859.1 738.8h0M1091.2 765.6h0M827.9 764.9h0M826.8 759.0h0M1062.8 753.9h0M1097.9 751.3h0M1101.1 755.6h0M1054.9 752.4h0M858.3 765.0h0M1001.4 752.2h0M857.4 739.9h0M968.3 744.9h0M861.1 752.3h0M1079.8 757.2h0M1167.2 751.7h0M1014.6 760.6h0M1015.5 764.3h0M903.8 748.7h0M1005.3 764.3h0M1174.1 747.8h0M1103.2 755.2h0M899.4 764.6h0M1127.5 756.1h0M867.7 750.5h0M865.7 750.8h0M1150.0 741.4h0M1156.9 749.0h0M1132.9 750.0h0M976.7 747.1h0M1153.9 748.3h0M1170.9 767.6h0M1159.7 742.8h0M1075.4 767.4h0M1138.6 757.7h0M934.0 757.7h0M995.7 763.9h0M1121.1 749.4h0M1097.3 762.9h0M1080.5 762.3h0M887.5 753.2h0M995.5 754.0h0M1018.7 751.7h0M1191.6 748.0h0M1181.2 745.3h0M1049.1 759.0h0M927.4 751.8h0M1116.3 758.9h0M979.9 748.1h0M1139.5 756.8h0M1141.5 752.3h0M921.6 751.6h0M825.3 752.0h0M916.7 760.7h0M834.4 753.9h0M1089.6 761.3h0M826.0 746.4h0M942.1 747.4h0M1188.0 768.0h0M1056.5 764.4h0M1032.7 761.5h0M1011.1 750.4h0M1172.9 743.5h0M1047.6 767.8h0M1190.8 747.6h0M1053.5 755.5h0M899.0 762.4h0M1092.5 761.9h0M1142.8 754.0h0M925.0 762.8h0M896.4 762.2h0M1134.1 751.6h0M908.5 766.9h0M999.0 760.0h0M1083.7 763.0h0M959.9 759.8h0M878.5 767.0h0M1135.6 742.9h0M944.9 761.0h0M1007.7 765.4h0M948.4 749.6h0M909.5 751.6h0M877.2 744.3h0M998.7 766.5h0M1016.8 754.0h0M1024.5 767.5h0M1043.0 748.9h0M990.4 763.1h0M867.5 737.9h0M1129.6 748.0h0M1034.7 752.3h0M904.5 756.3h0M947.3 747.1h0M984.3 742.9h0M1043.6 767.7h0M870.4 767.8h0M956.0 761.1h0M895.6 758.2h0M1030.5 753.3h0M1161.9 749.5h0M1155.8 756.5h0M1184.1 750.3h0M1180.5 758.5h0M1152.4 743.3h0M1155.4 767.7h0M1077.3 765.8h0M988.4 745.5h0M1107.1 752.9h0M983.8 745.7h0M957.9 744.9h0M833.0 740.2h0M1169.3 755.3h0M1161.3 766.5h0M1181.9 757.7h0M1162.7 763.8h0M849.8 763.3h0M1107.5 749.4h0M1082.9 755.3h0M932.2 747.3h0M871.4 750.3h0M1193.0 757.7h0M971.8 757.0h0M909.6 747.3h0M1192.5 756.9h0M884.6 757.1h0M1014.9 761.4h0M849.1 744.3h0M943.6 745.5h0M1025.0 757.0h0M1056.5 767.8h0M980.5 746.3h0M1110.5 763.2h0M1019.4 754.2h0M1115.9 750.9h0M954.5 757.6h0M982.4 754.9h0M859.4 764.0h0M1049.1 762.6h0M1193.4 740.8h0M996.6 753.1h0M880.1 749.1h0M945.2 750.8h0M855.2 761.9h0M1163.7 757.2h0M1038.9 758.0h0M945.4 762.1h0M1185.3 746.1h0M963.1 755.9h0M1169.9 758.1h0M1193.3 753.1h0M984.7 745.7h0M881.0 766.2h0M1025.0 757.5h0M1123.5 758.5h0M1111.9 750.7h0M1185.3 743.9h0M840.9 754.2h0M1150.8 761.3h0M967.6 744.8h0M933.6 755.1h0M1110.7 763.4h0M949.9 757.0h0M1080.8 758.6h0M1027.0 757.4h0M880.7 750.2h0M998.7 759.1h0M900.1 763.1h0M1115.5 749.9h0M841.2 746.9h0M1143.4 758.3h0M1146.1 745.6h0M1154.6 755.5h0M872.6 767.3h0M892.3 760.3h0M880.3 757.8h0M1138.3 745.9h0M1004.4 753.0h0M891.3 755.2h0M1094.6 758.1h0M1090.4 749.3h0M919.3 759.8h0M933.4 760.7h0M903.3 763.9h0M1127.6 761.7h0M882.0 739.6h0M955.7 766.0h0M992.9 754.7h0M1061.8 762.0h0M852.6 764.7h0M1128.5 765.3h0M904.3 742.8h0M1071.3 767.7h0M1124.5 765.3h0M998.7 753.6h0M1023.2 756.5h0M949.1 746.0h0M1068.3 752.1h0M1008.4 749.5h0M820.0 766.8h0M822.5 767.4h0M825.0 767.9h0M827.5 767.1h0M830.0 767.4h0M832.5 767.1h0M835.0 767.6h0M837.5 767.5h0M840.0 767.4h0M842.5 767.9h0M845.0 767.5h0M847.5 767.1h0M850.0 767.2h0M852.5 767.5h0M855.0 767.5h0M857.5 767.0h0M860.0 767.7h0M862.5 767.2h0M865.0 767.6h0M867.5 766.8h0M870.0 767.1h0M872.5 766.7h0M875.0 767.2h0M877.5 767.0h0M880.0 767.1h0M882.5 767.0h0M885.0 767.7h0M887.5 767.5h0M890.0 767.1h0M892.5 767.3h0M895.0 766.9h0M897.5 767.8h0M900.0 767.8h0M902.5 767.4h0M905.0 766.9h0M907.5 767.8h0M910.0 767.0h0M912.5 766.8h0M915.0 767.2h0M917.5 767.2h0M920.0 767.7h0M922.5 766.9h0M925.0 766.8h0M927.5 767.2h0M930.0 766.7h0M932.5 767.5h0M935.0 767.3h0M937.5 767.7h0M940.0 767.8h0M942.5 767.0h0M945.0 767.6h0M947.5 767.3h0M950.0 767.8h0M952.5 766.8h0M955.0 767.2h0M957.5 767.9h0M960.0 766.8h0M962.5 767.1h0M965.0 767.1h0M967.5 767.1h0M970.0 767.9h0M972.5 766.9h0M975.0 767.7h0M977.5 767.0h0M980.0 767.7h0M982.5 766.9h0M985.0 766.8h0M987.5 767.9h0M990.0 766.7h0M992.5 767.5h0M995.0 766.9h0M997.5 767.4h0M1000.0 767.1h0M1002.5 767.4h0M1005.0 767.5h0M1007.5 767.6h0M1010.0 766.8h0M1012.5 767.7h0M1015.0 767.0h0M1017.5 767.4h0M1020.0 767.7h0M1022.5 767.6h0M1025.0 767.3h0M1027.5 767.3h0M1030.0 766.9h0M1032.5 767.8h0M1035.0 767.4h0M1037.5 767.6h0M1040.0 767.9h0M1042.5 767.5h0M1045.0 767.1h0M1047.5 767.3h0M1050.0 766.9h0M1052.5 767.0h0M1055.0 767.7h0M1057.5 767.5h0M1060.0 766.9h0M1062.5 767.3h0M1065.0 767.2h0M1067.5 767.7h0M1070.0 767.7h0M1072.5 767.1h0M1075.0 766.8h0M1077.5 766.9h0M1080.0 767.4h0M1082.5 767.1h0M1085.0 766.7h0M1087.5 767.6h0M1090.0 767.4h0M1092.5 767.1h0M1095.0 766.7h0M1097.5 767.1h0M1100.0 767.4h0M1102.5 766.8h0M1105.0 766.8h0M1107.5 766.7h0M1110.0 766.7h0M1112.5 767.4h0M1115.0 767.6h0M1117.5 767.5h0M1120.0 767.1h0M1122.5 767.1h0M1125.0 766.7h0M1127.5 767.7h0M1130.0 767.3h0M1132.5 766.9h0M1135.0 766.8h0M1137.5 767.0h0M1140.0 767.2h0M1142.5 767.5h0M1145.0 766.8h0M1147.5 767.6h0M1150.0 767.0h0M1152.5 766.9h0M1155.0 767.4h0M1157.5 766.9h0M1160.0 767.9h0M1162.5 767.5h0M1165.0 767.6h0M1167.5 767.4h0M1170.0 767.8h0M1172.5 767.7h0M1175.0 767.4h0M1177.5 766.9h0M1180.0 767.5h0M1182.5 767.9h0M1185.0 767.0h0M1187.5 767.5h0M1190.0 766.8h0M1192.5 767.7h0M835.7 702.0h0M852.8 713.2h0M875.1 717.7h0M899.3 720.6h0M936.6 716.7h0M941.0 725.6h0M944.9 731.1h0M959.6 722.2h0M964.6 729.5h0M868.2 730.1h0M878.0 729.5h0M886.9 729.5h0M1042.2 715.7h0M1094.4 714.7h0M1140.6 716.3h0M1143.5 723.6h0M1151.4 726.5h0M1153.4 731.5h0M1187.8 730.9h0M1067.8 725.6h0M1038.3 727.5h0M826.9 732.4h0M915.4 743.3h0M954.7 742.3h0" stroke="#bdbfc1" stroke-width="8.2" stroke-linecap="round" fill="none"/>
<path d="M1035.0 738.3h0M1075.7 739.8h0M1078.9 740.5h0M1069.1 735.8h0M1010.8 736.2h0M1106.5 737.2h0M1045.4 737.4h0M1074.1 739.3h0M1117.3 745.2h0M1076.3 736.6h0M1120.1 744.4h0M1061.4 742.9h0M1121.5 745.1h0M1027.7 735.2h0M1109.8 739.4h0M1034.2 733.2h0M1104.0 739.2h0M1019.3 739.5h0M1007.1 741.3h0M1006.7 743.0h0M1013.9 734.9h0M1061.1 742.4h0M1064.7 742.0h0M1029.6 742.2h0M1024.0 737.3h0M1109.9 740.5h0M1003.4 740.7h0M1007.8 737.8h0M1044.1 738.2h0M1014.5 742.7h0M1111.2 741.9h0M1037.9 737.0h0M1032.0 737.2h0M1064.9 742.5h0M1008.6 742.7h0M1123.3 741.6h0M1073.3 734.8h0M1026.3 733.3h0M1010.6 740.7h0M1023.3 740.4h0M1106.3 740.8h0M1092.2 742.3h0M1083.5 742.0h0M1087.1 737.2h0M1137.3 738.6h0M1014.2 735.8h0M1111.9 745.7h0M1136.4 738.1h0M1049.9 741.7h0M1010.7 737.7h0M1076.0 737.5h0M1037.8 738.0h0M1014.2 742.4h0M1062.3 734.6h0M1065.9 737.5h0M1086.0 736.0h0M1047.5 733.2h0M1080.2 740.6h0M1108.4 742.7h0M1069.2 741.3h0M1040.7 738.6h0M1050.2 737.9h0M1054.0 732.2h0M1023.7 739.1h0M1012.3 737.2h0M1110.8 741.3h0M1105.6 740.0h0M995.0 738.5h0M1103.4 741.4h0M1046.4 742.8h0M1047.4 743.7h0M1098.7 738.6h0M1086.1 742.7h0M1079.3 743.0h0M1051.3 741.6h0" stroke="#4a7ba3" stroke-width="10.0" stroke-linecap="round" fill="none"/>
<path d="M971.8 757.2h0M874.8 753.2h0M900.2 760.8h0M981.4 755.5h0M917.4 756.6h0M980.1 756.5h0M900.7 757.0h0M860.4 757.1h0M876.5 760.2h0M917.0 761.5h0M914.6 754.7h0M989.4 760.7h0M860.0 761.8h0M971.8 761.3h0M933.7 759.4h0M953.1 755.3h0M862.7 758.9h0M984.1 753.1h0M950.1 756.9h0M911.5 759.0h0" stroke="#86a6c0" stroke-width="5.0" stroke-linecap="round" fill="none"/>
</svg>
<svg x="819" y="790.8" width="375.7" height="356" viewBox="819 790.8 375.7 356" overflow="hidden">
<path d="M1009.2 1117.4h0M1028.7 1116.0h0M1132.1 1105.5h0M988.4 1125.8h0M1046.7 1130.3h0M928.0 1112.2h0M934.0 1104.6h0M848.2 1116.6h0M931.4 1119.3h0M1179.4 1132.7h0M1111.2 1111.3h0M963.6 1129.7h0M907.5 1127.4h0M911.8 1115.5h0M1028.5 1131.8h0M1093.6 1127.9h0M950.7 1111.8h0M1145.4 1119.5h0M1089.1 1105.3h0M843.2 1113.6h0M934.8 1108.9h0M1125.1 1130.3h0M903.9 1104.9h0M890.6 1107.3h0M1090.7 1113.9h0M1186.0 1100.8h0M1020.2 1108.7h0M1137.5 1112.8h0M910.0 1119.8h0M1146.4 1101.2h0M906.2 1129.9h0M977.2 1104.8h0M1168.3 1131.2h0M979.6 1108.0h0M830.0 1124.0h0M1108.5 1124.5h0M1078.5 1113.6h0M927.5 1119.2h0M1116.8 1115.6h0M1012.7 1115.6h0M1127.6 1131.5h0M922.6 1131.6h0M1124.0 1113.4h0M914.7 1122.9h0M1022.9 1121.5h0M1191.7 1132.3h0M1083.1 1118.4h0M882.3 1103.5h0M1126.8 1108.5h0M1074.9 1112.4h0M900.2 1123.1h0M884.2 1103.4h0M1192.3 1113.2h0M954.9 1126.1h0M899.0 1126.5h0M907.0 1124.4h0M1101.2 1104.8h0M963.3 1128.0h0M1003.7 1116.6h0M844.8 1104.5h0M1174.0 1132.6h0M1014.5 1123.4h0M869.6 1131.1h0M1055.0 1125.3h0M1140.9 1108.3h0M1081.0 1117.0h0M933.4 1106.0h0M1087.8 1108.2h0M882.2 1113.2h0M980.3 1115.7h0M903.6 1132.2h0M856.6 1126.2h0M1102.2 1115.8h0M932.7 1127.8h0M1099.6 1109.3h0M1148.3 1121.3h0M884.5 1131.5h0M956.4 1105.5h0M1178.0 1124.9h0M993.6 1119.6h0M1009.3 1118.8h0M851.8 1120.9h0M953.3 1106.1h0M954.7 1113.6h0M840.1 1108.6h0M935.2 1105.0h0M978.1 1103.5h0M1003.7 1114.0h0M929.1 1121.7h0M1058.2 1108.0h0M864.1 1121.6h0M957.2 1106.0h0M923.2 1109.6h0M909.9 1102.6h0M948.5 1128.7h0M820.2 1098.9h0M877.0 1118.3h0M942.5 1123.5h0M1093.6 1122.2h0M1000.1 1128.8h0M1189.6 1104.4h0M966.4 1128.8h0M1062.6 1115.8h0M1088.7 1110.8h0M1139.7 1103.2h0M859.2 1125.8h0M978.8 1126.1h0M1161.4 1125.0h0M1061.5 1112.4h0M1010.2 1111.2h0M1127.9 1132.6h0M833.5 1117.1h0M1129.9 1131.8h0M968.3 1115.5h0M934.3 1102.1h0M899.7 1132.0h0M1109.9 1132.6h0M1045.1 1106.6h0M978.7 1129.3h0M1022.6 1128.2h0M825.6 1109.7h0M979.6 1115.8h0M919.4 1124.6h0M1114.5 1127.5h0M973.5 1104.4h0M1024.2 1128.4h0M939.4 1102.1h0M944.5 1108.9h0M820.8 1120.7h0M827.4 1126.3h0M1167.8 1126.6h0M1105.8 1123.2h0M1122.3 1118.2h0M1041.6 1106.6h0M994.0 1132.2h0M839.1 1112.2h0M1158.4 1117.6h0M1157.8 1118.8h0M953.3 1131.2h0M960.0 1128.3h0M1082.4 1132.3h0M1041.4 1126.1h0M841.6 1122.3h0M828.4 1106.8h0M1101.5 1109.7h0M924.0 1121.5h0M1186.9 1103.3h0M878.2 1120.5h0M1094.3 1107.9h0M1058.3 1105.1h0M879.3 1105.8h0M958.1 1120.6h0M1173.7 1118.2h0M1000.7 1118.5h0M877.6 1121.9h0M1084.6 1122.2h0M969.0 1125.7h0M845.9 1102.6h0M991.2 1115.9h0M942.5 1131.9h0M1101.5 1115.7h0M1055.4 1112.6h0M1088.4 1125.3h0M921.4 1120.2h0M1024.1 1122.7h0M824.6 1112.1h0M833.3 1118.3h0M962.6 1119.4h0M825.5 1107.3h0M963.5 1119.6h0M1035.0 1112.8h0M1161.2 1101.7h0M1080.4 1126.4h0M1156.0 1102.5h0M1011.7 1113.2h0M846.9 1117.6h0M1166.0 1117.1h0M1163.5 1102.9h0M1125.0 1112.3h0M932.4 1101.9h0M1189.8 1126.0h0M1009.4 1116.7h0M1150.5 1132.7h0M1178.2 1102.4h0M916.7 1111.9h0M933.6 1119.0h0M911.3 1102.2h0M1111.2 1105.6h0M1129.9 1115.4h0M1041.5 1130.9h0M1138.2 1104.8h0M860.0 1118.3h0M1052.5 1128.7h0M952.7 1128.8h0M1042.9 1126.2h0M884.8 1110.9h0M970.7 1118.5h0M951.9 1123.7h0M1123.0 1108.7h0M943.1 1121.7h0M1107.2 1117.5h0M931.0 1110.8h0M1192.9 1101.9h0M1122.9 1102.6h0M1122.1 1111.1h0M1169.2 1107.0h0M968.7 1107.1h0M1082.5 1123.0h0M1165.6 1109.7h0M910.1 1112.5h0M1041.7 1107.9h0M846.4 1122.6h0M1053.6 1123.0h0M1165.2 1122.5h0M1125.4 1130.9h0M1128.6 1117.6h0M981.6 1123.1h0M881.4 1102.1h0M867.9 1103.0h0M1102.9 1111.8h0M935.0 1126.3h0M943.9 1104.4h0M933.0 1112.4h0M1051.3 1120.4h0M1037.9 1111.2h0M971.1 1125.1h0M954.5 1113.8h0M995.7 1121.2h0M1152.8 1113.9h0M1074.9 1115.6h0M880.0 1124.1h0M936.6 1123.3h0M821.7 1119.7h0M1003.5 1121.0h0M1173.2 1107.8h0M871.1 1114.4h0M955.9 1132.4h0M1073.6 1129.2h0M1033.8 1115.4h0M1099.2 1106.5h0M881.2 1103.7h0M1015.1 1121.3h0M1002.0 1119.8h0M1154.7 1115.4h0M1129.4 1104.4h0M1147.2 1131.9h0M848.9 1116.6h0M1086.6 1104.2h0M1158.4 1121.4h0M1178.5 1125.1h0M832.6 1103.5h0M982.0 1111.0h0M1083.4 1126.2h0M931.9 1128.6h0M951.9 1105.4h0M855.6 1127.3h0M1193.6 1115.1h0M889.3 1116.3h0M1106.4 1109.9h0M868.5 1122.1h0M822.1 1101.9h0M967.9 1122.0h0M966.3 1121.8h0M1062.3 1111.3h0M1069.7 1114.0h0M844.8 1112.7h0M1115.7 1129.1h0M858.0 1122.5h0M1116.5 1119.9h0M1156.1 1124.6h0M1078.6 1115.1h0M1055.2 1116.4h0M916.3 1129.5h0M1028.2 1127.2h0M960.9 1125.0h0M1045.7 1109.0h0M1107.3 1101.5h0M912.7 1110.9h0M872.0 1113.6h0M1043.7 1132.5h0M974.0 1115.1h0M887.2 1124.6h0M1191.5 1118.1h0M853.7 1108.3h0M1082.5 1108.3h0M842.4 1109.1h0M1173.7 1102.3h0M895.5 1109.8h0M1131.1 1113.4h0M962.0 1122.5h0M916.7 1111.2h0M1090.4 1131.0h0M935.6 1116.6h0M1099.2 1127.8h0M969.2 1119.1h0M839.4 1126.2h0M1005.4 1107.3h0M1111.7 1125.3h0M1142.1 1110.0h0M1113.0 1111.9h0M1082.7 1122.2h0M1010.9 1123.3h0M925.9 1112.1h0M830.3 1101.6h0M1000.6 1122.2h0M873.9 1112.2h0M1109.3 1125.8h0M1178.4 1102.0h0M1109.0 1105.5h0M944.6 1123.9h0M1057.4 1127.8h0M1026.6 1108.0h0M932.0 1107.9h0M1154.2 1128.2h0M1156.8 1114.5h0M1058.2 1127.9h0M947.6 1103.8h0M1035.3 1120.7h0M1146.7 1129.6h0M940.1 1129.5h0M874.2 1113.5h0M925.3 1119.7h0M869.0 1114.9h0M1154.4 1111.9h0M855.4 1113.3h0M996.9 1118.3h0M1164.7 1115.7h0M1004.2 1127.5h0M901.5 1108.7h0M940.5 1129.8h0M1187.9 1108.8h0M1070.2 1118.0h0M966.0 1108.4h0M954.1 1107.8h0M853.4 1125.0h0M1040.4 1123.4h0M906.2 1113.2h0M910.5 1113.7h0M1120.8 1105.5h0M1190.1 1103.1h0M1025.3 1118.5h0M890.9 1103.4h0M959.0 1122.0h0M949.8 1129.4h0M995.2 1118.9h0M826.1 1125.2h0M866.2 1113.0h0M1113.5 1103.9h0M947.4 1107.4h0M962.1 1129.0h0M1078.4 1112.9h0M892.3 1109.0h0M889.3 1110.9h0M1156.8 1113.4h0M1039.6 1108.6h0M948.2 1105.8h0M884.0 1106.3h0M1111.7 1120.0h0M1082.0 1115.5h0M1037.1 1122.8h0M888.3 1130.0h0M1120.3 1108.4h0M1057.5 1117.1h0M943.5 1124.2h0M1108.9 1117.4h0M867.9 1101.9h0M1037.0 1132.1h0M1147.2 1104.3h0M937.8 1100.6h0M938.1 1108.3h0M1089.7 1105.7h0M868.6 1123.9h0M965.7 1131.9h0M821.4 1104.8h0M1081.9 1103.1h0M919.9 1118.3h0M946.0 1114.6h0M875.2 1128.3h0M991.7 1107.9h0M988.4 1127.8h0M909.7 1122.9h0M910.5 1119.6h0M880.7 1127.9h0M1086.7 1129.0h0M1060.1 1123.0h0M936.5 1115.9h0M1033.3 1119.3h0M1003.2 1129.2h0M991.1 1131.4h0M1087.4 1114.2h0M1178.9 1102.4h0M925.5 1125.5h0M844.0 1118.0h0M854.2 1118.6h0M1045.0 1129.1h0M1000.9 1108.1h0M846.7 1100.8h0M858.5 1120.3h0M1095.3 1114.6h0M1054.9 1130.0h0M852.0 1117.0h0M1053.5 1115.4h0M1134.8 1128.6h0M1049.5 1130.9h0M953.3 1110.0h0M1102.8 1112.2h0M1007.2 1119.4h0M1192.8 1120.9h0M1039.7 1129.6h0M877.5 1111.0h0M1079.2 1125.3h0M1029.1 1122.6h0M1170.6 1105.4h0M861.5 1117.9h0M1101.6 1102.4h0M880.1 1111.8h0M949.6 1112.9h0M890.5 1114.7h0M1081.2 1128.1h0M830.2 1114.1h0M863.3 1114.1h0M863.4 1113.5h0M891.9 1128.5h0M876.9 1125.9h0M844.0 1104.4h0M1006.3 1124.4h0M910.1 1117.0h0M866.8 1125.6h0M1098.4 1111.6h0M1131.2 1110.6h0M1000.7 1117.4h0M959.6 1113.2h0M1109.4 1129.6h0M824.3 1098.8h0M1167.5 1112.9h0M858.1 1116.9h0M1109.3 1112.8h0M1004.8 1116.0h0M1094.8 1117.8h0M983.1 1123.4h0M846.7 1099.5h0M920.2 1129.5h0M1188.7 1108.6h0M1150.9 1109.0h0M982.2 1127.7h0M1000.4 1129.3h0M1156.0 1113.5h0M912.0 1129.4h0M1062.6 1112.8h0M1038.2 1111.5h0M936.0 1115.2h0M1061.8 1119.5h0M965.0 1113.5h0M934.9 1100.9h0M910.2 1129.6h0M1120.6 1106.2h0M909.3 1128.9h0M1186.8 1117.8h0M1101.8 1119.2h0M953.8 1127.9h0M874.4 1125.3h0M934.3 1119.3h0M1170.7 1102.1h0M1054.4 1130.1h0M1060.8 1106.5h0M1119.2 1131.4h0M1052.1 1111.1h0M848.0 1119.6h0M950.0 1116.0h0M1107.0 1129.8h0M1058.8 1110.1h0M929.7 1129.3h0M889.7 1107.1h0M1182.2 1117.6h0M860.9 1120.8h0M1133.2 1131.2h0M826.2 1121.0h0M946.8 1102.9h0M1074.4 1127.2h0M962.6 1112.7h0M995.9 1120.2h0M1188.8 1102.0h0M1002.9 1117.5h0M895.0 1122.6h0M1163.7 1108.6h0M1147.6 1106.7h0M858.3 1121.1h0M1062.3 1128.2h0M1166.4 1122.4h0M1156.1 1103.7h0M832.8 1127.6h0M952.6 1114.2h0M1126.8 1130.1h0M1108.7 1101.7h0M978.3 1132.4h0M903.0 1114.7h0M1135.3 1116.9h0M1168.1 1116.8h0M1064.2 1120.9h0M868.4 1102.9h0M1013.2 1115.1h0M1006.6 1106.3h0M1024.3 1126.5h0M1170.3 1108.0h0M838.7 1129.3h0M1144.9 1125.7h0M908.1 1125.9h0M901.6 1120.1h0M926.9 1105.4h0M930.4 1132.8h0M858.4 1117.6h0M834.4 1112.3h0M943.6 1120.0h0M1023.1 1115.9h0M1019.4 1106.9h0M993.4 1103.7h0M857.8 1116.0h0M1112.1 1116.2h0M868.5 1117.1h0M953.9 1131.7h0M1058.0 1104.9h0M1025.9 1128.9h0M1149.6 1129.0h0M1083.8 1132.1h0M869.1 1113.2h0M1032.2 1120.5h0M1022.5 1128.7h0M1014.5 1105.5h0M926.0 1122.7h0M1065.6 1122.5h0M1086.8 1128.6h0M1030.9 1111.9h0M836.0 1130.8h0M1171.8 1123.1h0M1000.3 1106.2h0M916.3 1106.4h0M1139.7 1116.1h0M937.6 1101.0h0M1088.5 1109.4h0M1125.5 1108.7h0M1172.5 1119.8h0M974.2 1114.5h0M1128.6 1120.2h0M913.2 1104.9h0M1081.8 1108.5h0M1069.5 1119.1h0M1016.3 1130.3h0M963.1 1124.9h0M1130.7 1116.5h0M937.3 1108.0h0M847.1 1100.8h0M1162.3 1129.2h0M970.7 1107.5h0M1018.1 1110.6h0M1130.2 1101.2h0M972.7 1116.1h0M1135.7 1115.2h0M939.8 1120.8h0M1005.8 1132.5h0M1027.3 1130.1h0M1180.3 1114.1h0M1070.5 1122.4h0M1017.5 1128.8h0M842.3 1115.7h0M996.9 1108.4h0M1127.0 1104.9h0M836.8 1129.8h0M1119.7 1124.5h0M856.8 1121.2h0M1139.9 1117.3h0M1027.6 1123.6h0M862.5 1118.8h0M969.6 1106.9h0M1061.6 1123.0h0M874.4 1118.6h0M1077.0 1110.8h0M1023.2 1123.3h0M1089.7 1125.8h0M1035.8 1117.5h0M1142.7 1111.8h0M1174.2 1122.2h0M1050.1 1124.3h0M1190.5 1110.1h0M848.8 1118.6h0M892.5 1101.9h0M992.5 1113.4h0M945.7 1125.1h0M904.8 1127.4h0M1017.3 1114.3h0M1186.5 1108.7h0M976.9 1104.9h0M1157.9 1129.6h0M1015.3 1128.7h0M1156.1 1125.7h0M902.6 1128.9h0M1164.5 1121.9h0M1096.9 1127.0h0M902.9 1108.9h0M1057.9 1117.3h0M886.0 1114.6h0M841.9 1116.9h0M1019.9 1112.1h0M1010.8 1124.6h0M914.1 1110.0h0M1134.1 1120.4h0M1088.5 1125.0h0M951.8 1113.3h0M903.6 1102.7h0M900.8 1130.9h0M1064.7 1110.0h0M865.6 1104.1h0M1041.0 1123.1h0M967.7 1114.8h0M1118.9 1118.7h0M1079.8 1125.4h0M937.2 1107.7h0M940.1 1108.5h0M1178.4 1113.9h0M1008.0 1112.2h0M985.0 1117.8h0M1054.6 1114.4h0M1120.3 1121.9h0M1021.4 1109.0h0M1111.1 1126.4h0M872.0 1121.0h0M1013.9 1113.2h0M964.7 1114.2h0M1088.8 1112.4h0M994.4 1128.9h0M1157.7 1123.5h0M922.7 1114.7h0M848.5 1129.7h0M1050.1 1117.1h0M931.0 1118.4h0M856.2 1121.3h0M877.0 1113.8h0M1062.6 1125.3h0M1162.5 1102.8h0M942.3 1100.1h0M1042.4 1120.4h0M1176.9 1117.0h0M1038.4 1121.1h0M1025.7 1120.4h0M979.6 1131.9h0M1089.3 1124.6h0M1184.3 1132.0h0M901.5 1106.3h0M951.8 1114.8h0M1105.3 1131.2h0M1107.6 1102.4h0M916.3 1114.6h0M1116.4 1110.5h0M1055.9 1122.1h0M922.8 1103.8h0M1109.0 1123.2h0M833.6 1107.3h0M1111.8 1123.7h0M1029.2 1131.9h0M993.5 1132.4h0M887.2 1105.1h0M945.2 1112.6h0M1165.0 1115.3h0M952.1 1124.5h0M938.7 1101.1h0M869.0 1123.0h0M1188.4 1120.3h0M1149.6 1121.5h0M981.6 1118.6h0M1155.7 1122.4h0M1145.4 1101.6h0M884.0 1103.4h0M1161.1 1108.0h0M950.0 1100.8h0M839.7 1127.4h0M1146.3 1129.0h0M822.9 1121.3h0M1084.9 1128.6h0M1112.0 1126.7h0M1129.3 1111.0h0M1049.1 1124.5h0M1180.1 1109.6h0M883.5 1103.3h0M1169.8 1111.6h0M1114.5 1131.5h0M1004.2 1108.5h0M1131.7 1118.7h0M1124.9 1131.5h0M1040.1 1127.8h0M1163.9 1102.6h0M1187.6 1104.4h0M1010.7 1116.2h0M869.6 1128.5h0M1019.1 1123.8h0M875.6 1132.6h0M1097.7 1117.3h0M1088.3 1117.7h0M1083.7 1114.0h0M944.6 1131.9h0M982.6 1110.4h0M915.4 1111.4h0M1120.8 1109.9h0M871.8 1112.5h0M1191.8 1103.7h0M1137.6 1106.1h0M960.0 1120.6h0M962.3 1103.1h0M1115.4 1108.5h0M858.4 1123.9h0M839.4 1101.6h0M1123.6 1101.4h0M905.5 1104.8h0M875.6 1100.9h0M850.6 1104.6h0M894.6 1121.3h0M876.1 1112.0h0M946.3 1129.5h0M962.6 1130.4h0M1072.7 1110.9h0M954.0 1122.0h0M898.9 1127.7h0M820.0 1131.5h0M822.5 1131.9h0M825.0 1131.9h0M827.5 1132.5h0M830.0 1132.3h0M832.5 1132.2h0M835.0 1132.1h0M837.5 1131.5h0M840.0 1132.4h0M842.5 1131.8h0M845.0 1132.0h0M847.5 1131.4h0M850.0 1131.7h0M852.5 1132.3h0M855.0 1131.4h0M857.5 1131.4h0M860.0 1131.7h0M862.5 1131.7h0M865.0 1131.9h0M867.5 1131.9h0M870.0 1131.5h0M872.5 1131.3h0M875.0 1131.7h0M877.5 1131.7h0M880.0 1131.9h0M882.5 1132.0h0M885.0 1132.2h0M887.5 1131.8h0M890.0 1131.8h0M892.5 1132.1h0M895.0 1132.4h0M897.5 1132.1h0M900.0 1131.3h0M902.5 1131.7h0M905.0 1132.5h0M907.5 1132.5h0M910.0 1131.7h0M912.5 1131.6h0M915.0 1131.3h0M917.5 1131.4h0M920.0 1131.4h0M922.5 1132.5h0M925.0 1132.4h0M927.5 1131.7h0M930.0 1131.3h0M932.5 1132.4h0M935.0 1132.0h0M937.5 1132.4h0M940.0 1131.7h0M942.5 1132.3h0M945.0 1132.3h0M947.5 1132.1h0M950.0 1132.1h0M952.5 1132.1h0M955.0 1131.9h0M957.5 1132.4h0M960.0 1131.4h0M962.5 1131.8h0M965.0 1131.7h0M967.5 1131.9h0M970.0 1132.3h0M972.5 1131.4h0M975.0 1131.8h0M977.5 1131.8h0M980.0 1131.8h0M982.5 1132.0h0M985.0 1132.1h0M987.5 1132.1h0M990.0 1131.9h0M992.5 1131.7h0M995.0 1132.5h0M997.5 1132.3h0M1000.0 1132.1h0M1002.5 1131.4h0M1005.0 1131.8h0M1007.5 1132.1h0M1010.0 1131.5h0M1012.5 1131.8h0M1015.0 1131.8h0M1017.5 1131.5h0M1020.0 1132.3h0M1022.5 1132.4h0M1025.0 1131.6h0M1027.5 1131.5h0M1030.0 1131.6h0M1032.5 1132.2h0M1035.0 1131.6h0M1037.5 1132.2h0M1040.0 1132.4h0M1042.5 1131.4h0M1045.0 1132.1h0M1047.5 1132.1h0M1050.0 1132.0h0M1052.5 1132.1h0M1055.0 1131.6h0M1057.5 1131.5h0M1060.0 1132.4h0M1062.5 1131.5h0M1065.0 1132.4h0M1067.5 1132.3h0M1070.0 1131.8h0M1072.5 1131.9h0M1075.0 1131.6h0M1077.5 1131.6h0M1080.0 1132.3h0M1082.5 1131.4h0M1085.0 1131.5h0M1087.5 1132.5h0M1090.0 1131.7h0M1092.5 1132.0h0M1095.0 1132.0h0M1097.5 1132.1h0M1100.0 1132.3h0M1102.5 1132.3h0M1105.0 1131.6h0M1107.5 1131.7h0M1110.0 1132.5h0M1112.5 1132.4h0M1115.0 1131.8h0M1117.5 1131.6h0M1120.0 1131.8h0M1122.5 1132.3h0M1125.0 1131.6h0M1127.5 1131.3h0M1130.0 1131.4h0M1132.5 1131.5h0M1135.0 1132.4h0M1137.5 1131.5h0M1140.0 1131.5h0M1142.5 1132.2h0M1145.0 1132.4h0M1147.5 1132.5h0M1150.0 1132.4h0M1152.5 1132.4h0M1155.0 1132.3h0M1157.5 1132.4h0M1160.0 1131.9h0M1162.5 1132.4h0M1165.0 1131.4h0M1167.5 1131.6h0M1170.0 1132.4h0M1172.5 1131.8h0M1175.0 1131.9h0M1177.5 1132.1h0M1180.0 1131.8h0M1182.5 1131.4h0M1185.0 1132.3h0M1187.5 1131.6h0M1190.0 1132.4h0M1192.5 1132.0h0M920.3 966.8h0M944.9 966.8h0M1005.9 966.8h0M885.3 1006.9h0M907.5 1006.9h0M975.4 1029.6h0M1024.5 1037.0h0M1141.6 1031.1h0M964.2 1050.8h0M980.3 1050.8h0M983.2 1050.8h0M1090.4 1062.6h0M1096.3 1062.6h0M835.7 1071.5h0M859.9 1075.0h0M881.9 1079.3h0M899.6 1077.4h0M1061.9 1078.3h0M1127.8 1074.4h0M1171.1 1080.3h0M960.6 1083.3h0M965.5 1084.2h0M974.4 1088.8h0M944.9 1089.6h0M937.0 1095.1h0M917.3 1096.4h0M853.4 1089.2h0M833.8 1089.2h0M1106.2 1087.2h0M1179.0 1093.1h0M1005.9 1092.7h0M1120.9 1093.1h0" stroke="#bdbfc1" stroke-width="8.2" stroke-linecap="round" fill="none"/>
<path d="M1024.8 1122.5h0M1000.3 1118.8h0M997.9 1121.1h0M1006.4 1117.8h0M1044.1 1112.6h0M1004.2 1117.9h0M1043.7 1117.7h0M1032.6 1122.9h0M1008.8 1118.9h0M1005.0 1122.1h0M996.2 1122.0h0M1016.0 1119.8h0M1006.2 1123.4h0M1014.0 1118.8h0M1051.3 1118.9h0M1014.3 1116.6h0M1049.6 1120.5h0M1032.7 1119.0h0M1050.3 1113.0h0M1017.1 1122.2h0M1034.4 1119.7h0M1034.4 1118.0h0M1028.6 1117.8h0M1051.9 1114.7h0M1010.4 1117.6h0M1004.5 1120.6h0M1029.7 1113.9h0M1010.1 1122.9h0M1011.2 1120.9h0M1019.8 1115.6h0M1115.6 1107.2h0M1062.8 1099.0h0M1135.5 1101.9h0M1074.9 1103.5h0M1101.9 1105.7h0M1106.3 1103.9h0M1117.5 1101.4h0M1095.5 1107.0h0M1115.1 1104.4h0M1069.6 1107.4h0M1063.3 1106.3h0M1071.4 1103.5h0M1112.2 1103.8h0M1060.9 1100.8h0M1092.1 1101.6h0M1068.6 1100.1h0M1115.6 1103.9h0M1095.4 1099.3h0M1117.9 1107.9h0M1115.3 1103.3h0M1114.1 1104.7h0M1070.3 1103.9h0M1106.8 1100.7h0M1080.1 1101.9h0M1088.0 1101.8h0M1132.8 1107.0h0M1097.1 1100.6h0M1130.0 1106.6h0M1061.3 1106.3h0M1061.0 1106.7h0M1105.2 1107.3h0M1108.3 1100.3h0M1100.1 1107.0h0M1089.7 1104.6h0M1086.9 1105.0h0M1086.6 1101.4h0M1060.4 1107.3h0M1106.2 1107.0h0M1112.7 1101.8h0M1065.4 1107.8h0M1097.3 1093.1h0M1092.4 1108.8h0M1114.0 1119.6h0M1134.7 1113.7h0M996.0 1121.6h0M1004.9 1122.6h0" stroke="#f1bc62" stroke-width="10.0" stroke-linecap="round" fill="none"/>
<path d="M885.9 1120.9h0M873.9 1123.2h0M885.0 1119.7h0M960.3 1123.3h0M935.7 1121.4h0M929.7 1122.8h0M889.2 1121.5h0M938.2 1119.7h0M916.0 1116.0h0M933.1 1119.4h0M940.5 1119.6h0M980.0 1121.5h0M944.0 1117.8h0M914.1 1123.6h0M905.5 1117.3h0M909.7 1117.2h0M967.7 1121.4h0M889.8 1123.5h0M919.5 1118.7h0M975.2 1117.3h0M894.1 1119.3h0M972.3 1118.9h0M932.3 1117.3h0M892.2 1118.9h0M953.1 1122.5h0" stroke="#d8c29a" stroke-width="5.0" stroke-linecap="round" fill="none"/>
</svg>
<svg x="819" y="1154.4" width="375.7" height="356" viewBox="819 1154.4 375.7 356" overflow="hidden">
<rect x="820" y="1474" width="374" height="24" fill="#293d6d"/>
<path d="M851.2 1464.8h0M1075.7 1465.8h0M1175.0 1473.5h0M1097.6 1468.9h0M1129.3 1464.5h0M1045.6 1467.4h0M1003.4 1475.5h0M901.0 1473.5h0M1106.6 1463.2h0M1191.3 1467.2h0M1023.3 1466.5h0M1028.4 1475.5h0M950.5 1472.8h0M1113.3 1474.1h0M1078.4 1469.1h0M946.8 1468.2h0M959.8 1474.9h0M1129.7 1464.0h0M919.2 1464.6h0M1168.4 1460.9h0M966.2 1467.5h0M893.7 1475.4h0M983.0 1471.7h0M1130.5 1468.7h0M1126.5 1472.5h0M1046.2 1470.0h0M1151.8 1470.9h0M948.0 1474.8h0M1127.1 1475.3h0M1069.3 1469.0h0M952.2 1471.6h0M887.2 1473.0h0M1084.6 1474.5h0M901.7 1471.7h0M1025.9 1470.5h0M973.1 1465.1h0M1166.5 1474.5h0M879.5 1474.9h0M1042.9 1462.3h0M1057.8 1466.8h0M959.5 1467.0h0M1131.4 1470.6h0M906.8 1471.4h0M978.0 1475.8h0M898.3 1472.8h0M1118.5 1474.3h0M920.2 1474.4h0M886.6 1466.4h0M1050.9 1474.7h0M974.3 1466.9h0M857.0 1467.9h0M1144.9 1470.2h0M1000.8 1469.8h0M897.9 1468.2h0M918.9 1472.8h0M1064.5 1463.9h0M1031.3 1475.4h0M847.3 1464.8h0M1182.3 1468.3h0M1157.2 1473.4h0M995.6 1475.9h0M917.9 1467.8h0M904.3 1473.4h0M858.7 1468.2h0M1109.4 1472.0h0M937.6 1464.4h0M1127.9 1473.7h0M1059.4 1470.7h0M858.7 1466.8h0M924.7 1469.8h0M924.7 1471.1h0M994.6 1475.6h0M916.9 1464.8h0M872.7 1465.7h0M1076.5 1470.6h0M1035.0 1472.4h0M1082.7 1466.2h0M889.9 1474.6h0M1092.2 1468.2h0M1082.6 1472.3h0M851.2 1468.5h0M1108.6 1473.6h0M1075.3 1467.8h0M1144.7 1469.0h0M1192.5 1475.3h0M1155.8 1463.2h0M1174.4 1464.2h0M898.4 1471.2h0M1072.1 1467.0h0M1184.1 1461.2h0M1129.7 1471.8h0M1110.7 1468.2h0M1156.8 1465.2h0M1001.3 1473.7h0M1144.9 1461.3h0M1046.4 1474.6h0M940.5 1464.1h0M1043.6 1473.6h0M900.6 1473.7h0M877.9 1475.8h0M858.2 1464.0h0M1130.3 1466.8h0M846.3 1466.2h0M1148.3 1473.7h0M941.7 1462.8h0M1078.7 1465.4h0M1087.5 1469.9h0M1155.7 1461.3h0M1154.1 1461.2h0M1047.7 1467.2h0M1026.8 1465.6h0M1174.0 1468.3h0M1065.2 1469.3h0M1109.0 1474.1h0M851.4 1475.5h0M923.3 1471.3h0M891.1 1468.8h0M1150.8 1474.1h0M1160.7 1470.1h0M991.3 1469.4h0M952.8 1472.3h0M972.9 1466.5h0M1065.5 1467.8h0M1050.4 1472.3h0M1183.0 1461.8h0M1027.5 1474.4h0M833.7 1470.2h0M916.8 1471.4h0M1107.7 1470.0h0M918.8 1469.1h0M902.3 1474.4h0M965.3 1468.0h0M1163.7 1469.0h0M1024.7 1475.6h0M1052.5 1473.4h0M945.0 1469.7h0M926.4 1473.0h0M920.4 1467.5h0M885.9 1474.9h0M962.6 1474.7h0M1016.0 1465.0h0M1081.6 1474.2h0M988.3 1475.4h0M1070.7 1469.6h0M1128.7 1471.3h0M1167.8 1463.3h0M1171.4 1473.2h0M965.6 1470.3h0M1015.5 1463.9h0M995.0 1475.6h0M1099.7 1471.5h0M876.7 1474.0h0M912.2 1475.3h0M989.8 1466.3h0M1027.7 1462.9h0M1137.3 1470.5h0M1022.8 1472.1h0M1114.0 1461.5h0M1021.6 1473.5h0M1137.7 1468.7h0M1186.0 1466.3h0M1094.5 1473.4h0M967.7 1475.4h0M1124.1 1474.5h0M1078.1 1464.7h0M1175.7 1472.4h0M1098.8 1468.2h0M843.6 1474.7h0M1174.3 1467.1h0M995.8 1470.2h0M862.6 1463.0h0M1090.2 1466.9h0M832.9 1471.8h0M878.5 1475.3h0M1179.0 1461.9h0M1046.8 1472.9h0M1149.4 1464.7h0M1053.7 1471.2h0M829.3 1468.4h0M827.8 1475.6h0M967.5 1465.9h0M837.9 1466.6h0M865.5 1470.4h0M980.7 1466.3h0M845.9 1465.4h0M1075.6 1463.9h0M965.6 1468.5h0M845.6 1466.9h0M1093.6 1468.0h0M1186.3 1462.4h0M1179.7 1463.7h0M839.3 1466.8h0M998.2 1466.4h0M854.4 1472.0h0M998.1 1473.3h0M1041.2 1462.9h0M848.7 1467.3h0M1102.4 1467.0h0M1147.5 1474.4h0M1023.9 1471.3h0M937.9 1475.9h0M1161.6 1475.6h0M1068.6 1468.9h0M852.2 1466.2h0M1062.6 1474.0h0M1182.2 1464.1h0M1029.9 1470.3h0M905.8 1469.9h0M958.0 1472.5h0M1069.2 1467.1h0M1151.6 1465.2h0M934.7 1473.9h0M894.4 1466.0h0M831.0 1471.2h0M1075.8 1468.0h0M1183.5 1463.9h0M1117.5 1464.4h0M1077.2 1467.6h0M1028.4 1473.4h0M1085.7 1472.1h0M1056.5 1467.9h0M1171.4 1472.7h0M908.5 1469.9h0M1033.4 1470.9h0M945.6 1466.0h0M1010.7 1466.3h0M870.3 1469.4h0M858.7 1470.5h0M929.6 1466.6h0M1063.0 1463.6h0M1191.8 1470.1h0M1034.6 1474.5h0M1135.0 1467.9h0M1129.5 1461.2h0M1137.1 1475.6h0M978.0 1470.8h0M1042.6 1469.7h0M869.1 1471.9h0M1022.7 1465.0h0M1095.1 1474.1h0M986.1 1464.9h0M978.3 1469.6h0M1093.4 1467.0h0M887.8 1466.1h0M1033.2 1465.1h0M957.9 1471.6h0M1025.0 1464.5h0M985.6 1468.6h0M1057.0 1471.3h0M1109.9 1473.8h0M867.7 1464.1h0M1131.7 1466.6h0M884.1 1471.8h0M973.1 1474.7h0M1121.0 1462.0h0M825.1 1470.9h0M1134.5 1474.6h0M1063.8 1463.6h0M1050.0 1463.2h0M908.1 1472.5h0M989.8 1470.6h0M982.6 1465.8h0M1090.4 1470.8h0M1072.8 1464.8h0M918.1 1464.4h0M836.7 1470.2h0M1133.3 1465.1h0M1048.1 1472.2h0M1186.9 1474.5h0M1043.6 1467.0h0M1103.2 1467.0h0M933.4 1475.6h0M1010.7 1465.5h0M1101.6 1468.8h0M860.5 1471.8h0M973.8 1466.6h0M902.6 1469.8h0M1119.0 1466.6h0M942.4 1475.1h0M1186.8 1461.9h0M1168.2 1468.3h0M854.2 1473.8h0M1052.7 1468.9h0M858.4 1473.5h0M869.6 1469.7h0M944.2 1474.5h0M1188.0 1472.0h0M834.1 1474.6h0M845.1 1474.5h0M1055.5 1472.7h0M822.8 1466.7h0M1043.7 1466.4h0M1103.9 1468.2h0M926.5 1468.6h0M1172.3 1465.9h0M840.5 1470.7h0M1076.2 1466.5h0M1065.6 1469.9h0M1112.0 1471.2h0M857.0 1464.5h0M1014.4 1470.7h0M1069.9 1475.3h0M1075.3 1473.4h0M869.8 1474.4h0M835.4 1467.5h0M1179.8 1472.5h0M1178.8 1465.1h0M898.2 1475.5h0M1121.7 1469.2h0M1142.1 1473.7h0M820.6 1475.6h0M851.1 1470.3h0M1158.7 1462.5h0M945.0 1473.7h0M1012.9 1470.0h0M1048.3 1471.4h0M821.1 1473.8h0M885.8 1474.1h0M823.8 1466.0h0M835.6 1467.5h0M1009.3 1468.0h0M992.8 1475.5h0M1007.1 1465.5h0M963.4 1466.1h0M1136.5 1466.9h0M1118.5 1466.1h0M1154.7 1472.5h0M858.2 1467.4h0M1169.8 1463.2h0M1041.1 1473.7h0M1132.8 1461.8h0M1020.2 1471.2h0M976.7 1468.1h0M1153.3 1461.4h0M1166.5 1470.0h0M1012.7 1464.8h0M1066.9 1474.7h0M836.2 1463.3h0M826.3 1472.3h0M899.6 1469.3h0M1141.5 1464.4h0M969.4 1471.3h0M1037.9 1473.4h0M1104.1 1471.8h0M1049.1 1474.6h0M971.4 1469.6h0M994.0 1473.4h0M955.1 1473.8h0M968.8 1474.9h0M834.1 1469.6h0M1047.4 1468.5h0M1062.9 1475.0h0M1146.9 1464.1h0M1175.4 1469.3h0M1170.5 1475.4h0M1136.1 1475.0h0M941.7 1471.1h0M1150.7 1470.5h0M1138.7 1472.2h0M1116.6 1472.2h0M1025.1 1469.4h0M1052.9 1464.5h0M905.1 1468.1h0M1155.7 1475.0h0M877.8 1472.5h0M981.1 1473.3h0M1052.1 1466.9h0M1191.6 1461.7h0M1021.4 1462.9h0M1082.7 1464.6h0M1013.9 1473.9h0M1053.2 1464.1h0M1066.2 1467.5h0M1033.2 1469.4h0M982.5 1465.3h0M1064.7 1471.3h0M933.7 1467.0h0M1154.3 1471.5h0M1067.2 1465.1h0M1103.5 1469.6h0M1019.4 1474.0h0M1077.8 1471.0h0M995.1 1475.5h0M978.2 1470.5h0M971.9 1472.3h0M1166.8 1462.3h0M974.5 1475.2h0M876.9 1466.3h0M959.6 1468.4h0M951.6 1467.8h0M1045.1 1470.9h0M1138.0 1475.2h0M977.9 1473.6h0M929.6 1466.7h0M1128.4 1475.0h0M943.0 1475.7h0M835.0 1469.5h0M844.9 1467.8h0M1098.8 1471.5h0M1083.9 1471.9h0M1086.7 1470.5h0M957.6 1467.8h0M1184.2 1471.4h0M983.2 1472.0h0M893.8 1475.5h0M1123.2 1470.9h0M1082.7 1473.9h0M1181.6 1460.1h0M1104.3 1471.3h0M1180.4 1468.3h0M952.7 1469.2h0M954.9 1467.1h0M896.8 1474.3h0M1096.1 1468.3h0M1095.3 1466.0h0M1007.6 1472.8h0M1043.1 1465.8h0M1041.9 1462.8h0M976.0 1470.4h0M1179.8 1467.5h0M820.0 1494.4h0M822.5 1494.6h0M825.0 1494.6h0M827.5 1494.6h0M830.0 1494.9h0M832.5 1495.1h0M835.0 1494.7h0M837.5 1494.9h0M840.0 1494.6h0M842.5 1494.5h0M845.0 1494.9h0M847.5 1495.1h0M850.0 1494.6h0M852.5 1494.7h0M855.0 1494.0h0M857.5 1494.9h0M860.0 1494.7h0M862.5 1494.7h0M865.0 1494.1h0M867.5 1494.6h0M870.0 1494.6h0M872.5 1494.1h0M875.0 1494.4h0M877.5 1494.8h0M880.0 1494.8h0M882.5 1494.8h0M885.0 1494.7h0M887.5 1495.0h0M890.0 1494.8h0M892.5 1494.0h0M895.0 1494.3h0M897.5 1493.9h0M900.0 1495.0h0M902.5 1494.7h0M905.0 1494.2h0M907.5 1494.1h0M910.0 1494.2h0M912.5 1494.6h0M915.0 1494.5h0M917.5 1493.9h0M920.0 1494.7h0M922.5 1494.2h0M925.0 1494.2h0M927.5 1495.1h0M930.0 1495.0h0M932.5 1495.0h0M935.0 1495.0h0M937.5 1494.6h0M940.0 1494.0h0M942.5 1494.4h0M945.0 1494.6h0M947.5 1495.0h0M950.0 1494.3h0M952.5 1494.0h0M955.0 1495.0h0M957.5 1494.8h0M960.0 1494.9h0M962.5 1494.5h0M965.0 1494.3h0M967.5 1494.3h0M970.0 1494.1h0M972.5 1494.3h0M975.0 1494.6h0M977.5 1495.1h0M980.0 1495.1h0M982.5 1494.5h0M985.0 1494.2h0M987.5 1495.1h0M990.0 1493.9h0M992.5 1494.0h0M995.0 1494.7h0M997.5 1494.6h0M1000.0 1495.1h0M1002.5 1494.7h0M1005.0 1494.9h0M1007.5 1495.0h0M1010.0 1495.0h0M1012.5 1495.0h0M1015.0 1494.5h0M1017.5 1494.7h0M1020.0 1494.8h0M1022.5 1493.9h0M1025.0 1494.5h0M1027.5 1494.4h0M1030.0 1494.8h0M1032.5 1494.1h0M1035.0 1494.9h0M1037.5 1494.2h0M1040.0 1494.5h0M1042.5 1494.6h0M1045.0 1494.3h0M1047.5 1494.8h0M1050.0 1494.9h0M1052.5 1495.1h0M1055.0 1494.4h0M1057.5 1495.0h0M1060.0 1494.6h0M1062.5 1494.9h0M1065.0 1494.1h0M1067.5 1494.4h0M1070.0 1494.8h0M1072.5 1494.7h0M1075.0 1494.1h0M1077.5 1494.6h0M1080.0 1494.8h0M1082.5 1494.9h0M1085.0 1493.9h0M1087.5 1494.0h0M1090.0 1494.3h0M1092.5 1493.9h0M1095.0 1494.9h0M1097.5 1494.9h0M1100.0 1494.8h0M1102.5 1494.6h0M1105.0 1494.3h0M1107.5 1494.5h0M1110.0 1494.0h0M1112.5 1494.9h0M1115.0 1494.1h0M1117.5 1494.8h0M1120.0 1494.3h0M1122.5 1494.1h0M1125.0 1494.4h0M1127.5 1494.3h0M1130.0 1495.0h0M1132.5 1493.9h0M1135.0 1494.3h0M1137.5 1494.4h0M1140.0 1494.5h0M1142.5 1493.9h0M1145.0 1494.9h0M1147.5 1494.3h0M1150.0 1494.7h0M1152.5 1494.2h0M1155.0 1494.2h0M1157.5 1494.2h0M1160.0 1494.3h0M1162.5 1495.0h0M1165.0 1494.1h0M1167.5 1493.9h0M1170.0 1495.1h0M1172.5 1494.2h0M1175.0 1495.0h0M1177.5 1494.7h0M1180.0 1494.9h0M1182.5 1494.4h0M1185.0 1494.5h0M1187.5 1494.8h0M1190.0 1494.4h0M1192.5 1494.5h0M994.2 1429.1h0M931.8 1431.8h0M850.5 1424.2h0M861.1 1418.9h0M859.0 1413.4h0M929.6 1424.7h0M941.9 1429.3h0M993.2 1436.0h0M968.7 1436.5h0M965.4 1449.5h0M1009.4 1416.4h0M883.3 1436.1h0M868.3 1448.4h0M995.8 1410.8h0M860.2 1454.2h0M848.9 1410.1h0M991.2 1419.7h0M832.7 1441.8h0M864.0 1431.9h0M888.8 1450.6h0M999.9 1448.8h0M919.4 1452.0h0M953.8 1433.9h0M946.6 1439.4h0M994.5 1418.8h0M994.8 1444.1h0M939.9 1435.1h0M885.0 1455.0h0M905.7 1427.8h0M1008.4 1434.7h0M910.6 1426.1h0M904.5 1453.5h0M1000.1 1414.3h0M884.8 1455.8h0M956.0 1433.3h0M854.4 1439.8h0M837.2 1416.3h0M958.5 1413.6h0M1008.9 1418.5h0M839.6 1429.1h0M878.6 1454.9h0M906.5 1435.7h0M924.8 1431.7h0M832.6 1419.6h0M950.6 1433.4h0M831.0 1459.6h0M928.4 1436.8h0M889.4 1454.5h0M894.6 1427.0h0M986.8 1432.9h0M994.7 1420.8h0M1007.4 1411.2h0M881.0 1432.2h0M909.0 1449.1h0M917.3 1439.4h0M944.2 1421.7h0M1007.8 1415.5h0M908.0 1446.8h0M970.4 1414.2h0M914.2 1439.4h0M905.6 1431.3h0M952.8 1431.1h0M901.4 1446.2h0M907.7 1439.7h0M903.3 1448.3h0M873.2 1422.8h0M891.6 1437.0h0M836.6 1441.6h0M924.3 1429.4h0M931.9 1425.9h0M947.1 1422.1h0M953.4 1421.4h0M984.8 1446.8h0M844.0 1455.8h0M857.0 1455.5h0M994.3 1417.0h0M948.6 1418.6h0M1006.3 1420.7h0M950.2 1427.5h0M873.5 1427.5h0M868.5 1453.7h0M876.9 1435.4h0M964.9 1451.2h0M911.0 1434.2h0M967.3 1424.7h0M892.5 1445.2h0M895.9 1454.5h0M893.4 1441.6h0M872.7 1452.3h0M855.9 1450.0h0M964.8 1444.8h0M971.5 1410.7h0M983.9 1450.9h0M848.2 1431.1h0M936.4 1444.1h0M983.7 1439.5h0M932.7 1448.7h0M937.7 1432.8h0M920.0 1443.5h0M898.1 1436.5h0M939.0 1417.4h0M838.5 1440.8h0M834.3 1442.2h0M971.9 1432.3h0M994.4 1427.5h0M870.4 1437.8h0M843.9 1441.4h0M876.3 1431.9h0M841.3 1417.5h0M1009.9 1418.7h0M899.6 1432.4h0M988.9 1428.6h0M894.2 1434.6h0M910.7 1447.7h0M969.7 1421.2h0M906.4 1429.4h0M999.7 1448.3h0M836.1 1431.7h0M978.8 1406.4h0M894.1 1441.2h0M945.3 1445.6h0M881.7 1437.6h0M835.6 1441.6h0M897.7 1442.0h0M854.6 1410.2h0M964.5 1435.9h0M911.7 1428.9h0M999.5 1438.7h0M915.6 1452.6h0M872.1 1450.3h0M840.0 1448.9h0M1007.6 1449.0h0M961.4 1427.6h0M933.9 1428.3h0M879.5 1435.4h0M987.6 1443.5h0M985.0 1435.2h0M896.7 1434.5h0M834.3 1432.4h0M859.9 1433.4h0M883.8 1428.5h0M953.7 1416.4h0M866.6 1418.1h0M877.1 1435.4h0M845.8 1442.0h0M1001.9 1424.2h0M973.0 1449.1h0M896.2 1439.9h0M957.6 1448.9h0M869.4 1423.9h0M979.5 1406.6h0M965.7 1411.9h0M1004.9 1434.9h0M878.8 1454.2h0M915.8 1451.0h0M992.3 1449.8h0M865.2 1439.2h0M927.1 1440.6h0M982.4 1414.6h0M937.5 1442.6h0M879.2 1440.3h0M1008.1 1410.8h0M997.0 1410.7h0M978.1 1409.5h0M849.6 1406.8h0M840.6 1447.5h0M856.8 1453.0h0M868.1 1446.8h0M880.8 1456.1h0M1004.5 1430.0h0M958.6 1411.4h0M918.5 1447.2h0M871.0 1438.3h0M972.9 1435.9h0M861.6 1447.9h0M890.8 1430.3h0M921.9 1439.8h0M865.5 1446.9h0M996.6 1420.5h0M1000.4 1437.8h0M856.6 1432.1h0M958.5 1446.6h0M989.3 1419.7h0M848.8 1436.7h0M894.8 1442.3h0M941.4 1450.3h0M907.1 1450.6h0M971.6 1419.8h0M960.6 1448.0h0M890.6 1434.6h0M983.7 1410.2h0M854.0 1456.3h0M909.9 1440.0h0M954.3 1451.2h0M922.7 1433.2h0M946.6 1451.1h0M971.7 1416.5h0M835.4 1435.5h0M966.9 1442.0h0M909.5 1428.0h0M910.0 1451.9h0M927.2 1427.7h0M860.2 1441.5h0M986.1 1417.1h0M869.5 1427.8h0M942.7 1448.5h0M949.2 1417.3h0M838.4 1435.6h0M856.1 1446.4h0M838.7 1435.7h0M842.8 1441.7h0M995.4 1438.0h0M865.0 1450.4h0M909.3 1453.3h0M926.0 1443.8h0M986.3 1423.3h0M909.1 1434.8h0M879.1 1433.4h0M944.4 1448.2h0M909.4 1454.0h0M984.4 1406.9h0M975.6 1422.6h0M874.3 1443.4h0M867.3 1440.7h0M1000.1 1414.9h0M927.9 1439.8h0M999.3 1429.9h0M998.0 1439.8h0M941.7 1447.9h0M980.1 1440.0h0M973.5 1420.0h0M993.6 1443.8h0M979.3 1444.4h0M988.3 1410.4h0M904.0 1444.3h0M906.2 1427.6h0M939.4 1430.5h0M854.4 1433.2h0M893.8 1433.7h0M964.4 1431.4h0M927.7 1437.2h0M984.2 1412.0h0M942.1 1435.7h0M1002.5 1413.9h0M911.2 1450.6h0M897.6 1442.8h0M958.5 1446.0h0M994.7 1450.6h0M995.9 1447.8h0M862.9 1429.4h0M848.7 1449.7h0M922.7 1442.4h0M894.1 1450.4h0M922.5 1441.7h0M929.5 1444.8h0M832.7 1457.6h0M881.4 1454.6h0M890.7 1440.3h0M963.1 1422.7h0M916.3 1439.2h0M822.9 1337.9h0M830.8 1337.9h0M838.7 1338.9h0M846.5 1349.7h0M834.7 1357.5h0M838.7 1368.4h0M847.5 1370.3h0M891.8 1376.2h0M894.7 1343.8h0M851.5 1392.0h0M851.5 1395.9h0M935.1 1397.9h0M934.1 1408.7h0M846.5 1404.4h0M830.8 1406.7h0M822.0 1406.7h0M840.6 1416.5h0M1035.4 1411.0h0M1048.2 1415.0h0M1055.0 1413.6h0M1060.9 1410.6h0M1071.8 1400.8h0M1075.7 1416.5h0M1039.3 1423.6h0M1073.7 1427.0h0M1088.5 1409.1h0M1098.3 1410.3h0M1093.4 1427.4h0M1096.3 1432.3h0M1111.1 1429.9h0M1137.6 1417.5h0M1137.6 1438.6h0M1160.3 1439.2h0M1167.2 1440.1h0M1182.9 1448.6h0M1060.9 1445.1h0M1089.5 1446.1h0M1096.3 1444.1h0M1024.5 1448.0h0M1023.6 1453.9h0M1137.6 1455.9h0M1153.4 1459.8h0M1167.2 1457.9h0M1108.1 1460.8h0M1121.9 1458.8h0M1041.3 1459.8h0M1083.6 1456.9h0M1033.4 1377.8h0M1023.6 1388.0h0M1040.3 1396.9h0M1137.6 1377.2h0M1015.7 1337.9h0M1023.6 1341.8h0M1049.1 1337.9h0M1007.8 1332.0h0M924.2 1278.3h0M937.0 1283.8h0M946.9 1282.8h0M956.7 1281.9h0M964.6 1280.9h0M954.7 1289.7h0M944.9 1294.0h0M1001.9 1297.2h0M995.0 1275.0h0M1003.9 1264.1h0M1090.4 1258.2h0M1086.5 1253.3h0M1108.1 1242.5h0M1131.7 1275.0h0M1103.2 1305.5h0M1106.2 1315.9h0M1121.9 1299.6h0M1129.8 1299.2h0M1136.7 1307.4h0M1136.7 1317.3h0M1060.9 1313.7h0M920.3 1313.3h0M921.3 1322.8h0M964.6 1329.1h0M1015.7 1327.1h0M1025.5 1335.0h0M1049.1 1336.9h0M866.2 1323.2h0M872.1 1331.0h0M830.8 1337.9h0M838.7 1337.9h0M1019.6 1331.0h0M1013.7 1325.1h0M900.1 1288.8h0M885.4 1291.1h0M870.9 1289.2h0M922.4 1299.1h0M915.9 1307.3h0M871.1 1280.5h0M894.0 1302.5h0M895.0 1299.8h0M906.9 1288.9h0M895.6 1297.2h0M878.8 1284.3h0M906.7 1293.4h0M908.0 1293.3h0M874.2 1287.7h0M913.3 1295.7h0M900.0 1300.5h0M885.2 1298.9h0M872.3 1288.6h0M883.3 1286.0h0M919.5 1293.8h0M912.9 1297.8h0M922.0 1307.3h0M870.9 1297.3h0M900.7 1299.8h0M875.8 1294.2h0M909.7 1306.0h0M902.8 1287.9h0M906.0 1299.8h0M877.1 1296.1h0M872.0 1291.0h0M904.2 1304.5h0M879.2 1286.0h0M907.2 1296.8h0M920.5 1293.9h0M906.3 1291.8h0M921.2 1297.8h0M892.9 1294.2h0M921.1 1306.3h0M904.4 1293.2h0M904.5 1303.4h0M895.6 1288.3h0M913.4 1307.3h0M886.3 1284.5h0M887.8 1287.3h0M905.6 1296.8h0M916.5 1293.7h0M905.2 1298.2h0M877.1 1290.5h0M881.6 1282.9h0M891.5 1291.5h0M870.1 1294.7h0M916.4 1292.8h0M883.5 1284.4h0M918.2 1303.8h0M913.3 1297.5h0" stroke="#293d6d" stroke-width="8.6" stroke-linecap="round" fill="none"/>
<path d="M911.8 1293.5h0M924.8 1296.3h0M921.5 1292.3h0M897.2 1287.2h0M870.7 1281.0h0M885.2 1285.2h0M901.2 1291.5h0M880.7 1288.6h0M889.8 1291.2h0M891.3 1286.1h0M880.2 1291.4h0M904.1 1292.7h0M902.8 1291.6h0M878.7 1289.0h0M907.6 1295.7h0M895.8 1285.8h0M890.3 1289.3h0M902.5 1289.7h0M890.4 1288.4h0M919.6 1291.8h0M877.3 1290.7h0M901.0 1286.9h0M973.4 1254.7h0M980.3 1258.2h0M988.2 1256.3h0M1019.6 1253.3h0M1028.5 1256.3h0M1027.5 1278.9h0M1067.8 1267.1h0M1083.6 1264.5h0M1074.7 1243.5h0M1080.6 1240.5h0M1087.5 1248.4h0M1131.7 1263.2h0M1127.8 1270.1h0M1126.8 1280.9h0M1105.2 1283.4h0M1134.7 1250.4h0M1029.5 1307.0h0M1054.1 1304.5h0M1120.9 1322.8h0M1116.0 1334.0h0M925.2 1267.1h0M970.5 1285.8h0M874.1 1279.9h0M870.1 1322.2h0M876.0 1323.2h0M1066.8 1240.5h0M1090.4 1252.3h0M976.4 1256.3h0M984.2 1257.3h0" stroke="#2abbce" stroke-width="9.2" stroke-linecap="round" fill="none"/>
<path d="M996.0 1256.3h0M1005.9 1257.3h0M994.1 1266.1h0M1114.0 1312.9h0M1134.7 1316.3h0M1119.0 1228.7h0M1119.9 1236.6h0M1121.9 1244.5h0M1123.9 1252.3h0M1127.8 1254.3h0M1131.7 1256.3h0M1125.8 1248.4h0" stroke="#62bb7c" stroke-width="11.8" stroke-linecap="round" fill="none"/>
<path d="M1092.4 1244.5h0M1114.0 1248.0h0M1055.0 1286.2h0M1007.8 1269.1h0M1015.7 1264.1h0M1025.5 1271.0h0M1060.9 1253.3h0M1098.3 1222.8h0M1104.2 1228.7h0M1110.1 1232.7h0M1114.0 1230.7h0M1102.2 1236.6h0M1108.1 1224.8h0" stroke="#f2a52a" stroke-width="11.8" stroke-linecap="round" fill="none"/>
<path d="M1043.1 1260.0h0M1043.9 1244.5h0M1056.5 1256.7h0M1052.9 1240.5h0M1044.2 1246.9h0M1039.7 1247.5h0M1040.3 1251.1h0M1032.3 1252.7h0M1061.4 1250.6h0M1041.5 1255.2h0M1042.4 1260.0h0M1058.4 1257.6h0M1047.4 1240.6h0M1033.8 1249.6h0M1056.8 1248.2h0M1061.4 1253.0h0M1035.4 1252.2h0M1061.4 1246.7h0M1057.0 1254.4h0M1039.6 1257.6h0M1037.8 1249.5h0M1055.1 1241.1h0M1058.0 1247.8h0M1051.5 1254.2h0M1061.4 1248.9h0M1054.2 1252.9h0M1038.1 1250.3h0M1061.4 1260.1h0M1038.6 1252.5h0M1041.2 1245.0h0M1037.2 1249.4h0M1046.7 1243.7h0M1061.5 1240.1h0M1045.7 1254.5h0M1054.9 1257.7h0M1052.5 1247.6h0M1054.0 1241.6h0M1040.1 1244.7h0M1037.4 1242.6h0M1042.3 1257.0h0M1052.2 1242.0h0M1053.7 1246.5h0M1061.8 1245.1h0M1049.5 1249.8h0M1041.2 1257.9h0M1047.2 1270.1h0M1043.2 1262.2h0M1049.1 1272.0h0M1065.6 1233.9h0M1072.5 1234.3h0M1089.1 1231.3h0M1079.8 1225.5h0M1092.6 1234.0h0M1072.4 1225.8h0M1075.1 1232.4h0M1090.1 1227.7h0M1069.9 1227.8h0M1074.1 1227.1h0M1091.7 1227.6h0M1079.2 1225.7h0M1087.2 1226.2h0M1060.5 1230.9h0M1093.4 1231.8h0M1087.0 1230.0h0M1096.1 1227.6h0M1058.8 1231.4h0M1077.8 1227.2h0M1061.1 1231.5h0M1067.5 1226.5h0M1096.2 1235.7h0M1064.1 1225.1h0M1086.8 1230.2h0M1087.1 1225.5h0M1094.0 1233.1h0M1092.6 1225.5h0M1078.7 1234.2h0M1059.9 1232.4h0M1079.0 1231.2h0M1079.4 1229.5h0M1088.3 1229.8h0M1082.1 1233.6h0M1081.5 1228.1h0M1092.6 1235.8h0M1067.4 1227.1h0M1069.5 1230.5h0M1077.7 1235.9h0M1085.2 1231.3h0M1066.2 1230.3h0" stroke="#e61f29" stroke-width="12.0" stroke-linecap="round" fill="none"/>
</svg>
<svg x="819" y="1518" width="375.7" height="356" viewBox="819 1518 375.7 356" overflow="hidden">
<path d="M820.0 1857.7h0M822.0 1857.3h0M824.0 1858.1h0M826.0 1858.0h0M828.0 1857.6h0M830.0 1857.8h0M832.0 1857.3h0M834.0 1857.3h0M836.0 1857.4h0M838.0 1857.8h0M840.0 1857.3h0M842.0 1858.1h0M844.0 1857.2h0M846.0 1857.3h0M848.0 1857.2h0M850.0 1857.9h0M852.0 1857.5h0M854.0 1857.6h0M856.0 1857.4h0M858.0 1857.7h0M860.0 1857.5h0M862.0 1857.3h0M864.0 1857.5h0M866.0 1857.4h0M868.0 1857.2h0M870.0 1857.9h0M872.0 1857.8h0M874.0 1857.8h0M876.0 1858.0h0M878.0 1857.5h0M880.0 1857.5h0M882.0 1857.5h0M884.0 1857.5h0M886.0 1857.8h0M888.0 1857.1h0M890.0 1857.6h0M892.0 1857.6h0M894.0 1857.4h0M896.0 1857.1h0M898.0 1857.8h0M900.0 1857.1h0M902.0 1857.7h0M904.0 1857.3h0M906.0 1857.1h0M908.0 1857.3h0M910.0 1857.2h0M912.0 1857.3h0M914.0 1857.8h0M916.0 1857.8h0M918.0 1857.5h0M920.0 1857.8h0M922.0 1857.6h0M924.0 1857.6h0M926.0 1858.0h0M928.0 1857.4h0M930.0 1858.0h0M932.0 1857.8h0M934.0 1857.8h0M936.0 1857.1h0M938.0 1857.2h0M940.0 1857.1h0M942.0 1857.4h0M944.0 1858.0h0M946.0 1858.0h0M948.0 1857.9h0M950.0 1857.2h0M952.0 1857.8h0M954.0 1857.9h0M956.0 1857.9h0M958.0 1857.9h0M960.0 1857.2h0M962.0 1857.3h0M964.0 1857.9h0M966.0 1857.8h0M968.0 1858.0h0M970.0 1857.5h0M972.0 1858.0h0M974.0 1857.2h0M976.0 1858.1h0M978.0 1858.0h0M980.0 1857.4h0M982.0 1857.2h0M984.0 1857.6h0M986.0 1857.8h0M988.0 1857.5h0M990.0 1857.2h0M992.0 1857.4h0M994.0 1857.9h0M996.0 1857.2h0M998.0 1858.0h0M1000.0 1857.4h0M1002.0 1857.3h0M1004.0 1857.2h0M1006.0 1858.1h0M1008.0 1858.0h0M1010.0 1857.4h0M1012.0 1857.2h0M1014.0 1857.8h0M1016.0 1858.0h0M1018.0 1857.1h0M1020.0 1857.7h0M1022.0 1858.0h0M1024.0 1857.6h0M1026.0 1857.7h0M1028.0 1857.9h0M1030.0 1857.3h0M1032.0 1857.4h0M1034.0 1857.8h0M1036.0 1857.7h0M1038.0 1857.6h0M1040.0 1857.4h0M1042.0 1858.0h0M1044.0 1857.4h0M1046.0 1857.8h0M1048.0 1858.0h0M1050.0 1857.5h0M1052.0 1857.2h0M1054.0 1857.3h0M1056.0 1857.2h0M1058.0 1857.2h0M1060.0 1857.2h0M1062.0 1857.4h0M1064.0 1857.5h0M1066.0 1857.5h0M1068.0 1857.8h0M1070.0 1857.8h0M1072.0 1857.8h0M1074.0 1857.5h0M1076.0 1857.8h0M1078.0 1857.6h0M1080.0 1857.2h0M1082.0 1857.6h0M1084.0 1857.4h0M1086.0 1857.8h0M1088.0 1857.8h0M1090.0 1857.3h0M1092.0 1857.5h0M1094.0 1857.6h0M1096.0 1857.4h0M1098.0 1857.1h0M1100.0 1857.1h0M1102.0 1858.1h0M1104.0 1857.8h0M1106.0 1857.5h0M1108.0 1857.8h0M1110.0 1857.4h0M1112.0 1857.8h0M1114.0 1858.1h0M1116.0 1857.9h0M1118.0 1857.6h0M1120.0 1858.1h0M1122.0 1858.0h0M1124.0 1857.2h0M1126.0 1857.5h0M1128.0 1857.6h0M1130.0 1857.4h0M1132.0 1857.7h0M1134.0 1857.2h0M1136.0 1857.8h0M1138.0 1858.0h0M1140.0 1857.2h0M1142.0 1857.8h0M1144.0 1857.4h0M1146.0 1857.7h0M1148.0 1857.8h0M1150.0 1858.1h0M1152.0 1857.9h0M1154.0 1857.4h0M1156.0 1857.8h0M1158.0 1857.2h0M1160.0 1857.8h0M1162.0 1857.5h0M1164.0 1857.4h0M1166.0 1857.3h0M1168.0 1857.3h0M1170.0 1857.9h0M1172.0 1857.2h0M1174.0 1857.3h0M1176.0 1857.3h0M1178.0 1857.3h0M1180.0 1857.8h0M1182.0 1857.7h0M1184.0 1857.8h0M1186.0 1858.0h0M1188.0 1857.5h0M1190.0 1857.1h0M1192.0 1857.3h0M1194.0 1857.6h0" stroke="#0b0b0b" stroke-width="9.2" stroke-linecap="round" fill="none"/>
<path d="M1057.9 1802.5h0M1058.2 1817.1h0M1072.5 1814.0h0M1090.2 1823.4h0M1092.0 1829.0h0M1056.6 1834.8h0M1062.2 1841.4h0M1065.3 1831.4h0M1072.8 1834.5h0M1078.4 1829.6h0M1082.1 1837.6h0M1092.7 1837.6h0M1102.6 1837.6h0M1102.6 1842.6h0M1093.3 1847.0h0M1108.2 1848.2h0M1114.4 1848.8h0M1120.6 1850.0h0M1036.0 1852.5h0M1049.2 1852.5h0M1068.0 1836.0h0M1086.0 1842.0h0M1098.0 1850.0h0M1126.0 1851.0h0" stroke="#0b0b0b" stroke-width="11.4" stroke-linecap="round" fill="none"/>
</svg>
<svg x="1432.5" y="60.6" width="375.9" height="252.3" viewBox="1432.5 60.6 375.9 252.3" overflow="hidden">
<path d="M1743.2 292.5h0M1786.4 295.6h0M1582.1 296.0h0M1496.6 288.7h0M1591.1 289.8h0M1684.4 294.7h0M1576.8 290.8h0M1515.8 297.1h0M1771.5 294.0h0M1734.5 293.7h0M1718.2 292.8h0M1646.3 293.8h0M1759.6 299.1h0M1473.4 287.3h0M1605.5 289.6h0M1522.2 301.1h0M1785.7 289.7h0M1441.3 295.4h0M1788.4 300.5h0M1692.9 298.8h0M1614.1 294.1h0M1754.3 291.3h0M1688.9 298.5h0M1491.4 298.2h0M1496.2 301.4h0M1719.5 295.4h0M1652.0 301.6h0M1570.6 289.8h0M1691.6 300.7h0M1491.5 298.1h0M1578.8 297.1h0M1612.0 301.1h0M1649.0 301.5h0M1794.0 290.9h0M1784.8 298.9h0M1486.8 295.1h0M1534.9 286.5h0M1454.6 291.1h0M1760.8 290.8h0M1652.7 300.2h0M1569.1 297.6h0M1655.6 298.8h0M1613.6 301.6h0M1582.7 289.7h0M1478.6 290.0h0M1477.2 301.0h0M1482.9 299.4h0M1721.8 295.6h0M1452.1 288.3h0M1783.9 294.6h0M1726.0 291.5h0M1450.7 290.9h0M1564.4 290.0h0M1673.2 296.6h0M1643.0 292.5h0M1587.1 290.5h0M1640.2 293.4h0M1677.0 301.4h0M1554.2 295.7h0M1468.8 299.1h0M1632.5 296.1h0M1643.5 289.8h0M1762.3 290.1h0M1505.4 293.4h0M1779.2 298.2h0M1771.3 293.9h0M1639.6 296.3h0M1520.9 286.6h0M1560.6 288.3h0M1435.8 287.3h0M1755.7 297.3h0M1714.2 296.8h0M1613.8 300.2h0M1562.0 290.9h0M1541.5 287.2h0M1439.7 289.1h0M1670.7 291.7h0M1611.8 291.0h0M1715.0 292.8h0M1602.1 297.9h0M1702.9 300.7h0M1438.7 292.5h0M1504.7 300.1h0M1526.4 298.7h0M1626.9 298.5h0M1731.7 300.3h0M1765.9 294.7h0M1685.8 300.9h0M1732.3 295.3h0M1743.8 299.3h0M1599.2 293.0h0M1597.0 300.9h0M1519.1 301.1h0M1484.2 290.0h0M1709.8 298.4h0M1547.6 291.0h0M1645.3 298.6h0M1577.2 293.8h0M1594.4 299.2h0M1771.9 297.4h0M1527.8 292.4h0M1589.5 296.0h0M1551.3 295.9h0M1629.6 295.3h0M1795.7 294.5h0M1527.9 285.5h0M1436.6 296.4h0M1767.7 297.9h0M1511.2 285.7h0M1601.5 287.2h0M1461.0 295.8h0M1490.7 293.5h0M1750.3 295.8h0M1577.1 294.4h0M1777.1 291.9h0M1700.0 292.8h0M1663.3 289.5h0M1451.2 288.3h0M1699.9 292.8h0M1705.3 293.7h0M1752.0 300.7h0M1713.6 292.4h0M1456.7 292.7h0M1533.5 286.0h0M1705.8 299.9h0M1751.1 300.8h0M1648.6 295.3h0M1804.8 294.0h0M1719.4 293.4h0M1785.8 297.1h0M1807.0 300.0h0M1664.9 295.6h0M1494.8 288.9h0M1461.5 295.4h0M1512.9 285.5h0M1655.1 297.5h0M1464.7 289.4h0M1766.6 298.2h0M1728.0 293.0h0M1450.9 296.1h0M1648.0 296.3h0M1455.3 295.5h0M1748.3 295.8h0M1626.5 289.7h0M1574.9 289.9h0M1459.5 301.3h0M1537.4 287.8h0M1651.0 291.1h0M1738.9 292.5h0M1559.6 291.4h0M1448.6 298.6h0M1656.8 296.9h0M1791.6 290.8h0M1733.0 293.6h0M1764.5 301.5h0M1584.5 299.5h0M1581.2 288.0h0M1590.4 296.0h0M1625.2 294.2h0M1472.9 295.8h0M1699.8 297.4h0M1518.3 297.1h0M1728.0 293.9h0M1547.0 293.0h0M1651.9 301.3h0M1721.2 290.1h0M1538.8 295.3h0M1781.7 297.6h0M1747.9 292.2h0M1529.6 290.5h0M1472.1 297.3h0M1669.5 298.0h0M1696.0 298.2h0M1445.7 293.7h0M1637.1 291.1h0M1524.3 299.3h0M1463.2 285.6h0M1761.6 300.5h0M1585.6 292.3h0M1736.5 297.4h0M1596.1 291.9h0M1665.5 295.0h0M1530.4 301.9h0M1635.2 292.7h0M1698.2 292.3h0M1518.8 293.1h0M1445.4 291.8h0M1464.1 297.7h0M1652.0 299.8h0M1489.6 288.0h0M1655.0 296.7h0M1550.9 287.4h0M1616.6 301.7h0M1716.2 291.2h0M1683.8 299.0h0M1538.1 287.4h0M1719.6 290.3h0M1642.6 288.6h0M1759.2 293.6h0M1645.8 297.3h0M1653.6 297.7h0M1486.4 287.1h0M1704.6 290.5h0M1479.7 294.5h0M1720.6 291.2h0M1548.9 286.7h0M1727.4 292.0h0M1598.6 291.3h0M1456.9 300.8h0M1485.4 286.2h0M1672.0 289.9h0M1545.2 291.8h0M1563.6 300.6h0M1766.9 297.4h0M1640.8 296.8h0M1774.6 294.2h0M1581.2 297.5h0M1581.0 292.2h0M1696.7 297.0h0M1482.9 290.9h0M1499.4 293.7h0M1763.8 297.4h0M1645.7 289.1h0M1561.4 300.5h0M1674.3 300.1h0M1508.6 286.1h0M1456.6 289.6h0M1569.5 293.4h0M1550.6 299.3h0M1667.7 297.4h0M1449.3 301.8h0M1621.9 292.2h0M1701.7 301.0h0M1536.2 295.0h0M1673.8 293.1h0M1497.2 288.3h0M1510.1 301.5h0M1698.8 294.3h0M1800.9 293.1h0M1726.5 296.5h0M1463.2 300.3h0M1437.6 300.2h0M1572.2 296.3h0M1434.2 290.1h0M1759.4 300.8h0M1716.6 297.3h0M1643.4 289.5h0M1645.4 299.3h0M1767.0 290.7h0M1678.6 290.3h0M1480.1 297.2h0M1548.3 293.7h0M1787.9 299.5h0M1753.5 299.2h0M1747.2 294.4h0M1609.1 290.6h0M1789.8 298.4h0M1434.2 288.9h0M1680.4 289.9h0M1737.7 290.3h0M1711.0 293.5h0M1635.7 290.3h0M1577.9 295.1h0M1594.2 298.8h0M1609.7 296.2h0M1695.7 297.2h0M1731.4 290.0h0M1437.9 298.5h0M1645.0 294.8h0M1756.7 300.3h0M1514.8 293.8h0M1561.6 292.2h0M1510.5 293.1h0M1619.0 295.6h0M1661.2 298.7h0M1481.1 287.5h0M1495.2 301.6h0M1704.6 298.5h0M1720.5 291.5h0M1806.9 298.3h0M1476.3 287.8h0M1790.8 297.5h0M1621.3 291.9h0M1596.8 295.4h0M1724.5 295.0h0M1791.0 298.8h0M1444.4 298.3h0M1646.4 295.0h0M1505.1 287.6h0M1526.8 287.0h0M1602.0 301.1h0M1739.3 292.8h0M1653.2 289.6h0M1633.3 293.3h0M1538.5 287.0h0M1743.5 294.1h0M1779.2 298.8h0M1503.3 294.7h0M1698.0 295.4h0M1635.5 292.0h0M1792.8 291.0h0M1599.4 288.0h0M1682.4 299.0h0M1457.1 299.2h0M1795.3 292.2h0M1527.4 285.4h0M1566.7 296.2h0M1510.6 286.4h0M1704.2 292.7h0M1805.5 298.4h0M1574.8 298.9h0M1590.3 296.6h0M1542.8 293.4h0M1680.5 299.1h0M1610.3 299.3h0M1559.2 300.7h0M1710.3 301.4h0M1778.4 300.1h0M1736.3 294.1h0M1778.2 289.8h0M1766.3 293.8h0M1465.0 297.5h0M1445.8 295.2h0M1771.3 301.9h0M1540.9 290.2h0M1447.8 292.1h0M1742.5 292.7h0M1493.7 300.9h0M1490.0 291.5h0M1795.3 291.1h0M1549.3 296.9h0M1470.5 298.2h0M1730.5 292.8h0M1544.6 299.1h0M1795.0 301.5h0M1550.4 288.6h0M1624.9 292.3h0M1686.8 298.1h0M1678.8 293.7h0M1685.6 289.7h0M1565.2 300.9h0M1674.6 294.6h0M1457.1 291.5h0M1658.8 289.8h0M1515.9 295.9h0M1514.2 301.1h0M1463.6 297.1h0M1472.6 301.5h0M1768.3 292.3h0M1772.0 298.4h0M1722.2 293.7h0M1477.8 295.8h0M1656.6 290.4h0M1768.4 295.9h0M1482.1 296.7h0M1695.1 300.2h0M1555.9 287.1h0M1571.1 300.5h0M1615.0 299.1h0M1480.3 287.6h0M1731.7 299.4h0M1611.5 289.9h0M1523.6 299.5h0M1563.7 296.9h0M1664.7 301.2h0M1649.0 290.9h0M1572.5 291.8h0M1644.7 301.9h0M1648.2 295.6h0M1683.0 297.2h0M1648.4 300.1h0M1720.5 296.3h0M1565.7 292.1h0M1537.2 291.9h0M1714.2 295.6h0M1468.8 298.3h0M1753.1 297.3h0M1479.6 301.4h0M1665.6 295.2h0M1604.4 289.3h0M1675.1 301.0h0M1442.2 295.8h0M1708.8 299.8h0M1586.3 297.1h0M1649.4 297.8h0M1455.4 285.7h0M1459.4 289.0h0M1506.5 293.5h0M1613.2 289.7h0M1471.2 286.2h0M1509.8 289.3h0M1718.5 296.8h0M1777.7 295.0h0M1532.3 293.8h0M1504.5 295.0h0M1538.6 289.0h0M1802.4 290.5h0M1776.3 298.4h0M1443.3 287.2h0M1768.6 289.9h0M1441.6 294.4h0M1453.4 291.7h0M1437.3 301.2h0M1620.7 298.3h0M1554.6 295.3h0M1745.3 296.7h0M1477.1 289.9h0M1653.6 295.7h0M1534.6 296.4h0M1705.0 290.3h0M1788.3 290.4h0M1743.1 290.4h0M1499.6 297.0h0M1801.7 291.5h0M1538.9 289.4h0M1804.0 296.7h0M1582.2 292.7h0M1600.7 300.6h0M1707.5 291.7h0M1615.9 289.8h0M1627.0 295.4h0M1594.2 287.0h0M1624.4 298.0h0M1711.2 293.7h0M1595.0 301.8h0M1636.9 298.1h0M1544.9 298.2h0M1501.1 289.2h0M1594.8 294.7h0M1498.0 289.7h0M1787.7 294.5h0M1452.2 285.8h0M1776.2 290.2h0M1491.4 291.9h0M1464.5 292.3h0M1560.5 293.7h0M1604.4 288.4h0M1450.7 292.6h0M1770.6 291.7h0M1762.0 297.9h0M1496.4 293.1h0M1435.0 299.9h0M1698.7 291.1h0M1530.0 293.7h0M1780.5 291.9h0M1556.6 294.0h0M1778.3 298.5h0M1652.2 298.1h0M1688.5 292.3h0M1480.4 294.8h0M1794.8 293.5h0M1700.4 299.6h0M1806.6 299.0h0M1527.6 289.1h0M1544.8 287.2h0M1461.6 297.0h0M1595.7 292.4h0M1720.0 301.2h0M1673.1 291.2h0M1509.3 289.0h0M1724.5 292.5h0M1493.8 300.0h0M1513.3 300.3h0M1762.2 301.2h0M1483.5 289.2h0M1547.4 294.0h0M1550.1 291.9h0M1693.1 297.1h0M1441.4 290.9h0M1713.7 296.7h0M1714.1 295.4h0M1708.5 290.5h0M1649.0 295.5h0M1600.9 293.6h0M1479.8 298.5h0M1806.3 299.7h0M1610.6 296.9h0M1573.4 288.3h0M1796.7 296.0h0M1560.6 298.4h0M1638.0 262.0h0M1641.0 270.0h0M1648.0 278.0h0M1640.0 279.0h0M1646.0 285.0h0M1639.0 290.0h0M1648.0 291.0h0M1636.0 284.0h0M1433.0 300.9h0M1435.5 301.1h0M1438.0 301.0h0M1440.5 301.1h0M1443.0 301.4h0M1445.5 301.2h0M1448.0 300.5h0M1450.5 300.6h0M1453.0 300.8h0M1455.5 300.8h0M1458.0 301.5h0M1460.5 301.2h0M1463.0 300.9h0M1465.5 300.7h0M1468.0 300.6h0M1470.5 301.0h0M1473.0 301.4h0M1475.5 300.5h0M1478.0 300.8h0M1480.5 300.7h0M1483.0 301.0h0M1485.5 300.6h0M1488.0 300.4h0M1490.5 301.1h0M1493.0 300.7h0M1495.5 301.1h0M1498.0 301.4h0M1500.5 301.0h0M1503.0 301.4h0M1505.5 301.3h0M1508.0 300.4h0M1510.5 300.6h0M1513.0 301.1h0M1515.5 300.9h0M1518.0 300.3h0M1520.5 301.3h0M1523.0 301.1h0M1525.5 300.8h0M1528.0 300.9h0M1530.5 300.5h0M1533.0 301.0h0M1535.5 300.5h0M1538.0 301.1h0M1540.5 301.4h0M1543.0 300.6h0M1545.5 300.6h0M1548.0 301.0h0M1550.5 301.4h0M1553.0 300.5h0M1555.5 300.8h0M1558.0 301.0h0M1560.5 300.5h0M1563.0 300.4h0M1565.5 301.2h0M1568.0 301.0h0M1570.5 301.0h0M1573.0 301.0h0M1575.5 300.4h0M1578.0 300.9h0M1580.5 300.9h0M1583.0 300.9h0M1585.5 300.5h0M1588.0 300.4h0M1590.5 300.9h0M1593.0 301.1h0M1595.5 301.1h0M1598.0 301.4h0M1600.5 300.7h0M1603.0 300.8h0M1605.5 300.7h0M1608.0 300.9h0M1610.5 301.1h0M1613.0 301.3h0M1615.5 300.4h0M1618.0 301.0h0M1620.5 301.2h0M1623.0 301.2h0M1625.5 300.8h0M1628.0 300.4h0M1630.5 300.7h0M1633.0 301.0h0M1635.5 301.2h0M1638.0 300.6h0M1640.5 300.7h0M1643.0 300.7h0M1645.5 300.4h0M1648.0 301.5h0M1650.5 300.7h0M1653.0 300.8h0M1655.5 301.5h0M1658.0 301.2h0M1660.5 300.6h0M1663.0 301.4h0M1665.5 301.3h0M1668.0 301.0h0M1670.5 300.8h0M1673.0 301.3h0M1675.5 301.4h0M1678.0 301.1h0M1680.5 300.7h0M1683.0 301.3h0M1685.5 301.1h0M1688.0 301.4h0M1690.5 301.3h0M1693.0 301.1h0M1695.5 301.4h0M1698.0 300.8h0M1700.5 301.0h0M1703.0 301.2h0M1705.5 300.8h0M1708.0 300.5h0M1710.5 301.3h0M1713.0 300.9h0M1715.5 300.8h0M1718.0 300.9h0M1720.5 300.6h0M1723.0 301.3h0M1725.5 300.6h0M1728.0 300.6h0M1730.5 301.1h0M1733.0 300.9h0M1735.5 300.7h0M1738.0 300.4h0M1740.5 300.8h0M1743.0 300.8h0M1745.5 301.0h0M1748.0 301.1h0M1750.5 300.6h0M1753.0 300.4h0M1755.5 300.4h0M1758.0 301.0h0M1760.5 301.4h0M1763.0 301.2h0M1765.5 301.4h0M1768.0 300.5h0M1770.5 300.5h0M1773.0 301.2h0M1775.5 300.8h0M1778.0 300.8h0M1780.5 301.3h0M1783.0 300.4h0M1785.5 301.4h0M1788.0 300.5h0M1790.5 301.0h0M1793.0 301.1h0M1795.5 301.0h0M1798.0 301.1h0M1800.5 300.7h0M1803.0 300.6h0M1805.5 301.1h0M1808.0 301.4h0M1636.6 260.6h0M1642.5 266.5h0M1646.4 272.4h0M1644.4 276.4h0M1642.5 282.3h0M1642.5 288.2h0M1644.4 294.1h0M1638.5 264.6h0M1640.5 270.5h0M1436.9 277.3h0M1495.9 279.3h0M1480.2 283.2h0M1589.4 278.7h0M1585.4 278.7h0M1617.9 282.3h0M1671.0 296.0h0M1677.9 288.2h0M1689.7 281.3h0M1706.4 282.3h0M1738.8 286.2h0M1754.6 285.2h0M1780.2 284.6h0M1796.9 288.2h0M1575.6 275.4h0M1522.5 289.2h0M1628.7 279.3h0M1620.4 167.8h0M1620.4 195.7h0M1613.0 224.2h0M1616.9 227.2h0M1617.9 254.7h0M1614.9 117.4h0" stroke="#bdbfc1" stroke-width="8.6" stroke-linecap="round" fill="none"/>
<path d="M1625.7 130.4h0M1620.8 136.7h0M1621.8 206.5h0M1613.0 230.7h0M1612.0 248.8h0" stroke="#819f9d" stroke-width="8.6" stroke-linecap="round" fill="none"/>
<path d="M1622.8 108.2h0M1631.6 108.2h0M1618.9 117.4h0M1621.8 117.0h0M1634.6 137.1h0M1637.5 143.6h0M1625.7 181.6h0M1617.9 185.5h0M1621.8 188.2h0M1623.8 192.2h0M1611.0 242.9h0" stroke="#467676" stroke-width="9.0" stroke-linecap="round" fill="none"/>
<path d="M1434.0 116.9h0" stroke="#bdbfc1" stroke-width="8.6" stroke-linecap="round" fill="none"/>
</svg>
<svg x="1432.5" y="320.77" width="375.9" height="252.3" viewBox="1432.5 320.77 375.9 252.3" overflow="hidden">
<path d="M1465.7 554.9h0M1582.2 560.6h0M1663.4 554.4h0M1784.8 549.1h0M1751.2 552.2h0M1686.5 561.5h0M1735.5 555.3h0M1735.1 545.4h0M1593.7 559.6h0M1715.4 552.7h0M1519.0 552.2h0M1594.2 546.2h0M1784.3 555.7h0M1631.7 548.2h0M1553.9 552.2h0M1487.6 551.5h0M1570.3 557.5h0M1773.2 544.6h0M1484.3 559.8h0M1436.7 547.4h0M1644.3 554.3h0M1514.4 558.3h0M1700.2 545.1h0M1700.0 551.4h0M1617.7 554.7h0M1677.2 558.8h0M1500.8 549.5h0M1510.0 549.5h0M1728.9 559.7h0M1569.1 556.7h0M1729.9 559.7h0M1721.8 554.9h0M1732.6 550.5h0M1655.9 550.3h0M1584.7 551.1h0M1619.5 544.7h0M1597.0 553.0h0M1774.0 556.9h0M1489.6 552.5h0M1716.5 546.4h0M1757.0 545.8h0M1685.7 554.8h0M1792.3 550.5h0M1548.9 548.5h0M1537.1 551.2h0M1650.1 550.2h0M1500.4 560.0h0M1458.7 561.3h0M1529.9 558.4h0M1708.5 561.3h0M1721.9 545.2h0M1718.0 561.5h0M1728.5 553.9h0M1450.8 543.9h0M1525.3 557.8h0M1491.2 555.1h0M1714.8 554.7h0M1706.5 558.7h0M1704.5 545.1h0M1681.0 555.0h0M1740.8 549.4h0M1486.7 547.0h0M1601.8 547.0h0M1722.4 555.0h0M1574.0 550.6h0M1466.8 547.1h0M1766.9 547.7h0M1634.0 554.8h0M1714.8 547.8h0M1580.9 546.8h0M1476.3 551.8h0M1631.9 550.5h0M1579.1 554.3h0M1444.1 559.3h0M1439.8 550.4h0M1700.9 545.1h0M1488.5 546.5h0M1484.6 555.4h0M1712.1 561.5h0M1632.3 560.0h0M1589.2 553.7h0M1792.1 544.1h0M1774.5 549.7h0M1597.9 560.9h0M1596.8 560.6h0M1684.9 547.8h0M1799.1 543.9h0M1691.6 550.6h0M1794.2 548.1h0M1501.7 550.5h0M1700.1 551.8h0M1661.3 560.7h0M1700.8 559.1h0M1535.6 547.6h0M1624.3 547.9h0M1717.7 554.4h0M1656.8 549.3h0M1582.2 559.0h0M1672.0 551.1h0M1639.6 554.0h0M1751.6 555.9h0M1471.7 546.8h0M1515.5 559.4h0M1574.7 544.7h0M1674.6 552.9h0M1519.2 548.1h0M1697.9 554.1h0M1781.6 547.8h0M1569.3 559.1h0M1705.5 548.9h0M1526.5 557.7h0M1589.5 544.3h0M1606.4 560.7h0M1619.7 551.6h0M1573.9 546.1h0M1759.5 547.4h0M1591.3 552.5h0M1535.2 547.0h0M1451.0 559.9h0M1785.1 553.8h0M1801.6 559.6h0M1689.5 548.6h0M1517.1 547.4h0M1708.0 545.3h0M1778.9 556.1h0M1753.4 552.8h0M1753.3 552.7h0M1550.9 560.2h0M1444.9 558.0h0M1639.4 560.1h0M1758.2 546.4h0M1578.0 553.0h0M1658.4 547.4h0M1758.0 546.1h0M1443.7 560.2h0M1630.5 560.3h0M1562.4 561.7h0M1784.2 546.3h0M1556.6 546.4h0M1641.0 546.9h0M1713.2 549.3h0M1770.1 551.9h0M1532.7 549.8h0M1759.7 552.4h0M1711.1 552.1h0M1718.6 547.6h0M1704.0 547.1h0M1805.1 545.0h0M1674.4 546.5h0M1447.5 559.0h0M1795.5 544.1h0M1560.0 551.2h0M1453.5 551.1h0M1571.6 551.7h0M1695.2 552.3h0M1446.7 555.4h0M1513.6 554.0h0M1690.7 545.8h0M1786.4 561.3h0M1615.7 546.7h0M1602.7 558.1h0M1695.0 560.4h0M1721.8 558.4h0M1702.7 550.3h0M1520.9 559.2h0M1652.1 551.1h0M1756.7 545.7h0M1762.2 547.6h0M1637.1 554.5h0M1668.8 546.0h0M1669.6 546.9h0M1490.5 550.9h0M1779.9 547.6h0M1706.3 559.6h0M1750.4 555.1h0M1617.2 551.2h0M1555.5 554.4h0M1769.9 557.7h0M1460.4 558.1h0M1438.3 559.2h0M1481.8 546.7h0M1681.6 548.2h0M1631.4 552.0h0M1467.8 547.5h0M1735.4 560.9h0M1793.7 561.4h0M1780.6 545.0h0M1585.7 561.9h0M1757.6 561.0h0M1557.0 547.2h0M1494.2 550.8h0M1468.8 553.2h0M1519.6 552.8h0M1568.1 561.7h0M1791.2 557.3h0M1684.5 548.8h0M1747.8 554.8h0M1491.2 559.9h0M1655.7 552.2h0M1502.6 557.6h0M1474.3 547.8h0M1760.5 548.0h0M1703.0 552.5h0M1607.4 554.6h0M1679.8 547.9h0M1755.9 546.1h0M1719.6 555.3h0M1555.1 561.2h0M1699.2 550.9h0M1770.3 558.9h0M1463.4 546.8h0M1616.3 555.6h0M1715.5 561.9h0M1767.9 550.7h0M1664.4 554.0h0M1671.5 548.6h0M1557.3 554.4h0M1769.1 561.4h0M1791.5 555.0h0M1469.1 562.0h0M1663.9 553.8h0M1649.1 553.3h0M1702.9 561.6h0M1654.0 555.1h0M1738.9 548.0h0M1628.9 548.6h0M1525.5 562.1h0M1578.4 554.1h0M1549.4 552.7h0M1727.3 552.9h0M1617.2 558.5h0M1633.8 562.0h0M1652.0 553.2h0M1545.4 556.2h0M1780.3 545.1h0M1713.0 548.1h0M1581.7 545.8h0M1693.1 557.6h0M1577.7 550.2h0M1634.4 552.0h0M1578.3 549.0h0M1700.5 561.4h0M1518.8 557.3h0M1590.8 551.1h0M1769.9 559.2h0M1759.8 547.7h0M1593.2 550.7h0M1608.6 555.1h0M1497.2 553.8h0M1607.7 546.2h0M1453.0 556.0h0M1498.5 553.8h0M1709.5 550.4h0M1636.1 561.9h0M1630.4 546.5h0M1740.5 548.5h0M1650.5 547.5h0M1572.6 553.2h0M1544.2 555.2h0M1489.7 552.5h0M1639.3 555.0h0M1683.3 553.0h0M1744.8 559.0h0M1609.9 550.1h0M1609.2 550.3h0M1644.0 561.5h0M1555.1 559.6h0M1709.4 547.7h0M1560.1 558.7h0M1628.5 557.3h0M1494.5 561.4h0M1459.5 544.3h0M1671.7 560.0h0M1570.6 557.9h0M1624.2 547.9h0M1473.9 556.4h0M1672.9 548.2h0M1640.9 545.5h0M1654.5 555.0h0M1669.3 559.6h0M1449.5 548.9h0M1761.2 552.4h0M1572.2 552.5h0M1477.9 553.6h0M1799.0 555.9h0M1689.0 545.3h0M1654.1 553.1h0M1508.3 556.6h0M1562.6 553.8h0M1745.4 547.3h0M1533.1 550.8h0M1544.7 557.3h0M1453.6 548.6h0M1462.9 554.1h0M1573.1 545.7h0M1460.9 551.0h0M1807.4 544.1h0M1589.8 555.4h0M1679.3 553.1h0M1513.7 551.9h0M1581.2 552.1h0M1701.3 545.2h0M1694.5 548.4h0M1693.7 558.2h0M1451.8 560.1h0M1756.3 546.1h0M1666.4 561.9h0M1797.4 549.5h0M1511.5 548.2h0M1801.8 560.5h0M1502.0 555.4h0M1590.2 560.8h0M1518.6 561.4h0M1499.8 549.3h0M1482.7 556.9h0M1449.8 550.8h0M1537.2 555.0h0M1530.0 557.4h0M1695.9 547.4h0M1627.5 559.4h0M1573.9 555.1h0M1627.3 545.0h0M1547.4 548.3h0M1721.8 552.9h0M1711.0 558.1h0M1573.4 549.1h0M1636.6 554.0h0M1748.2 560.8h0M1745.3 548.7h0M1507.5 553.4h0M1535.5 561.0h0M1615.8 544.6h0M1531.2 550.2h0M1556.1 554.8h0M1492.8 560.6h0M1769.7 546.2h0M1663.1 548.0h0M1617.0 547.3h0M1529.6 561.5h0M1598.8 550.3h0M1497.6 553.4h0M1662.3 557.3h0M1716.1 553.8h0M1436.7 547.5h0M1489.6 560.4h0M1478.6 547.0h0M1525.5 556.3h0M1470.4 553.8h0M1635.8 548.2h0M1686.7 560.3h0M1742.7 552.1h0M1778.3 556.1h0M1723.9 550.6h0M1573.8 561.0h0M1675.9 550.3h0M1514.9 555.1h0M1438.1 546.3h0M1588.6 550.6h0M1488.3 552.2h0M1551.0 549.3h0M1601.7 559.7h0M1583.1 558.3h0M1481.0 560.7h0M1642.2 551.5h0M1547.0 552.3h0M1521.1 548.4h0M1433.0 556.1h0M1739.9 549.9h0M1434.4 558.6h0M1805.4 553.3h0M1528.2 558.5h0M1564.1 549.4h0M1647.0 558.9h0M1550.5 549.9h0M1600.4 553.5h0M1794.4 550.0h0M1611.2 559.9h0M1760.2 547.3h0M1638.4 550.1h0M1447.0 544.5h0M1665.7 546.5h0M1456.9 555.3h0M1534.0 553.4h0M1653.5 552.1h0M1437.9 557.9h0M1456.9 554.6h0M1599.4 557.1h0M1555.7 557.2h0M1618.3 550.7h0M1534.2 551.6h0M1439.8 553.9h0M1739.9 552.7h0M1715.5 561.6h0M1480.6 560.9h0M1697.9 548.9h0M1790.6 555.2h0M1766.1 548.1h0M1571.9 557.2h0M1464.8 551.4h0M1728.3 560.5h0M1468.5 545.2h0M1438.6 546.1h0M1726.7 547.1h0M1732.2 553.0h0M1516.0 559.7h0M1788.8 560.1h0M1492.3 548.5h0M1591.7 559.8h0M1511.5 559.8h0M1573.8 556.3h0M1468.8 555.6h0M1603.0 547.5h0M1660.0 548.3h0M1496.8 550.7h0M1732.3 556.9h0M1463.7 545.0h0M1617.6 552.8h0M1526.5 559.9h0M1435.1 555.8h0M1573.6 557.8h0M1467.4 560.2h0M1656.1 546.2h0M1560.5 560.1h0M1447.3 554.4h0M1671.8 559.4h0M1483.6 551.9h0M1588.1 557.0h0M1697.0 554.6h0M1643.8 556.7h0M1508.0 549.9h0M1695.3 547.1h0M1576.9 548.4h0M1792.3 551.6h0M1796.1 548.0h0M1614.7 550.3h0M1591.5 550.9h0M1650.2 554.7h0M1723.5 545.1h0M1477.1 560.9h0M1581.0 547.7h0M1690.4 551.6h0M1560.1 553.3h0M1788.2 549.2h0M1728.0 551.6h0M1716.5 549.4h0M1541.6 553.5h0M1565.0 561.4h0M1700.6 546.0h0M1470.7 562.1h0M1484.7 549.0h0M1566.6 551.0h0M1496.1 556.0h0M1558.8 557.5h0M1443.7 548.4h0M1468.1 553.1h0M1694.4 558.2h0M1714.5 560.3h0M1599.6 560.7h0M1692.7 557.5h0M1580.3 548.2h0M1438.0 538.0h0M1445.0 540.0h0M1500.0 541.0h0M1530.0 540.0h0M1575.0 539.0h0M1600.0 538.0h0M1660.0 540.0h0M1700.0 538.0h0M1740.0 539.0h0M1790.0 540.0h0M1433.0 561.1h0M1435.5 561.2h0M1438.0 560.8h0M1440.5 561.6h0M1443.0 561.3h0M1445.5 561.4h0M1448.0 561.0h0M1450.5 561.5h0M1453.0 561.4h0M1455.5 561.2h0M1458.0 560.6h0M1460.5 561.0h0M1463.0 561.6h0M1465.5 561.1h0M1468.0 560.9h0M1470.5 561.2h0M1473.0 560.6h0M1475.5 560.9h0M1478.0 561.4h0M1480.5 561.0h0M1483.0 560.9h0M1485.5 561.6h0M1488.0 561.1h0M1490.5 561.0h0M1493.0 560.6h0M1495.5 561.2h0M1498.0 561.1h0M1500.5 560.8h0M1503.0 561.6h0M1505.5 561.2h0M1508.0 561.1h0M1510.5 561.5h0M1513.0 560.9h0M1515.5 561.6h0M1518.0 561.3h0M1520.5 560.9h0M1523.0 561.0h0M1525.5 561.6h0M1528.0 561.2h0M1530.5 560.5h0M1533.0 561.5h0M1535.5 561.0h0M1538.0 560.8h0M1540.5 561.1h0M1543.0 560.7h0M1545.5 561.3h0M1548.0 561.2h0M1550.5 561.0h0M1553.0 561.0h0M1555.5 560.9h0M1558.0 561.3h0M1560.5 561.5h0M1563.0 560.5h0M1565.5 561.2h0M1568.0 561.4h0M1570.5 561.7h0M1573.0 561.4h0M1575.5 561.6h0M1578.0 561.2h0M1580.5 561.5h0M1583.0 561.4h0M1585.5 560.8h0M1588.0 561.3h0M1590.5 561.2h0M1593.0 561.1h0M1595.5 560.8h0M1598.0 561.6h0M1600.5 561.4h0M1603.0 561.4h0M1605.5 560.8h0M1608.0 560.7h0M1610.5 560.7h0M1613.0 560.9h0M1615.5 560.9h0M1618.0 561.4h0M1620.5 560.9h0M1623.0 561.7h0M1625.5 560.5h0M1628.0 560.9h0M1630.5 561.5h0M1633.0 561.1h0M1635.5 561.3h0M1638.0 561.5h0M1640.5 561.2h0M1643.0 560.7h0M1645.5 560.5h0M1648.0 561.6h0M1650.5 561.0h0M1653.0 561.1h0M1655.5 560.6h0M1658.0 561.1h0M1660.5 560.9h0M1663.0 560.7h0M1665.5 561.3h0M1668.0 561.3h0M1670.5 561.2h0M1673.0 561.5h0M1675.5 561.6h0M1678.0 561.5h0M1680.5 560.6h0M1683.0 561.1h0M1685.5 561.3h0M1688.0 561.5h0M1690.5 561.1h0M1693.0 561.0h0M1695.5 560.8h0M1698.0 560.7h0M1700.5 561.5h0M1703.0 560.5h0M1705.5 561.4h0M1708.0 561.6h0M1710.5 560.5h0M1713.0 560.7h0M1715.5 560.8h0M1718.0 561.4h0M1720.5 561.4h0M1723.0 561.6h0M1725.5 561.2h0M1728.0 561.1h0M1730.5 561.1h0M1733.0 561.1h0M1735.5 561.4h0M1738.0 560.8h0M1740.5 561.6h0M1743.0 560.7h0M1745.5 561.6h0M1748.0 561.0h0M1750.5 560.5h0M1753.0 560.6h0M1755.5 561.3h0M1758.0 561.6h0M1760.5 560.6h0M1763.0 560.5h0M1765.5 560.9h0M1768.0 561.4h0M1770.5 560.7h0M1773.0 561.0h0M1775.5 560.8h0M1778.0 560.5h0M1780.5 560.6h0M1783.0 560.9h0M1785.5 561.2h0M1788.0 561.3h0M1790.5 561.3h0M1793.0 561.6h0M1795.5 561.2h0M1798.0 561.2h0M1800.5 561.3h0M1803.0 560.8h0M1805.5 561.7h0M1808.0 560.6h0M1586.4 533.4h0M1640.5 528.5h0M1646.4 534.4h0M1652.3 539.3h0M1611.0 537.9h0M1705.4 538.3h0M1721.1 538.7h0M1788.0 539.9h0M1459.5 541.3h0M1474.3 540.7h0M1437.9 534.4h0M1554.9 539.3h0M1620.4 473.0h0M1616.9 495.5h0M1618.5 509.2h0M1628.7 540.3h0" stroke="#bdbfc1" stroke-width="8.6" stroke-linecap="round" fill="none"/>
<path d="M1619.8 423.3h0M1615.9 427.8h0M1621.8 489.6h0M1613.0 507.8h0M1613.0 524.2h0" stroke="#819f9d" stroke-width="8.6" stroke-linecap="round" fill="none"/>
<path d="M1630.7 413.4h0M1622.8 417.4h0M1621.8 429.2h0M1631.6 427.8h0M1636.6 444.9h0M1637.5 446.9h0M1625.7 457.1h0M1617.9 467.1h0M1623.8 465.9h0M1611.0 504.9h0M1610.0 516.3h0" stroke="#467676" stroke-width="9.0" stroke-linecap="round" fill="none"/>
<path d="M1434.0 377.1h0" stroke="#bdbfc1" stroke-width="8.6" stroke-linecap="round" fill="none"/>
</svg>
<svg x="1432.5" y="580.94" width="375.9" height="252.3" viewBox="1432.5 580.94 375.9 252.3" overflow="hidden">
<path d="M1551.3 817.7h0M1465.8 808.8h0M1579.4 820.2h0M1563.5 814.1h0M1470.6 806.8h0M1695.2 814.1h0M1703.1 812.0h0M1616.4 807.1h0M1516.8 804.9h0M1495.9 812.2h0M1654.9 817.4h0M1674.0 818.9h0M1709.5 804.0h0M1766.0 812.4h0M1596.4 804.6h0M1490.5 805.2h0M1467.5 818.2h0M1573.0 817.8h0M1802.2 814.3h0M1510.0 806.9h0M1794.8 811.7h0M1559.1 821.3h0M1496.6 820.0h0M1436.8 810.9h0M1559.1 821.7h0M1603.4 813.9h0M1735.7 815.2h0M1744.7 818.8h0M1458.2 805.7h0M1585.7 810.3h0M1739.7 806.0h0M1803.0 818.3h0M1676.9 808.7h0M1726.1 816.8h0M1756.6 808.9h0M1728.7 807.3h0M1603.0 805.7h0M1531.4 821.2h0M1807.6 804.3h0M1676.0 804.1h0M1567.9 811.0h0M1519.6 804.8h0M1684.5 820.4h0M1508.5 810.8h0M1712.1 817.0h0M1696.3 809.8h0M1788.5 818.0h0M1735.4 815.2h0M1497.7 821.3h0M1655.2 813.0h0M1687.6 818.1h0M1492.7 807.3h0M1565.2 804.8h0M1696.5 806.7h0M1665.5 815.3h0M1713.9 818.4h0M1630.6 807.0h0M1770.1 814.9h0M1621.1 819.8h0M1738.6 814.5h0M1579.7 806.6h0M1454.0 803.8h0M1441.8 815.8h0M1482.2 816.7h0M1537.0 806.9h0M1792.6 809.2h0M1471.0 815.7h0M1679.3 821.3h0M1730.5 810.7h0M1652.6 807.1h0M1559.8 811.5h0M1521.9 819.2h0M1727.8 810.7h0M1738.2 811.2h0M1502.0 808.6h0M1477.7 816.9h0M1548.3 803.8h0M1457.4 812.1h0M1760.4 807.5h0M1738.9 818.4h0M1463.1 808.8h0M1774.3 817.4h0M1671.6 804.4h0M1525.3 817.0h0M1486.2 807.8h0M1461.8 813.0h0M1507.7 818.8h0M1464.0 816.5h0M1783.5 807.1h0M1577.9 817.8h0M1510.2 813.3h0M1492.9 811.0h0M1622.2 804.2h0M1766.5 811.2h0M1463.6 805.1h0M1532.1 804.6h0M1697.7 807.8h0M1624.1 812.8h0M1527.3 815.5h0M1568.9 816.1h0M1640.1 815.7h0M1792.2 817.3h0M1737.5 818.6h0M1724.1 811.7h0M1563.0 822.2h0M1550.9 811.2h0M1545.0 804.2h0M1639.7 809.0h0M1497.3 820.4h0M1542.8 812.4h0M1802.8 821.2h0M1774.5 816.3h0M1561.6 809.5h0M1733.9 811.4h0M1740.0 808.3h0M1682.2 821.0h0M1604.4 803.5h0M1548.8 806.6h0M1692.9 810.6h0M1584.7 809.8h0M1731.0 812.9h0M1439.6 805.4h0M1499.8 815.8h0M1519.5 810.6h0M1765.4 814.8h0M1740.8 811.8h0M1615.4 805.1h0M1484.0 813.2h0M1705.6 804.4h0M1497.4 815.2h0M1524.9 809.9h0M1661.8 816.6h0M1454.2 804.4h0M1605.9 807.2h0M1486.5 809.9h0M1614.1 815.5h0M1796.9 821.9h0M1739.3 809.8h0M1474.7 808.3h0M1508.7 818.7h0M1727.0 814.3h0M1457.1 807.8h0M1670.3 810.4h0M1568.7 816.5h0M1433.4 808.1h0M1634.6 813.8h0M1633.1 805.2h0M1469.0 807.6h0M1448.6 820.6h0M1758.1 804.2h0M1732.7 806.2h0M1442.5 808.1h0M1453.1 820.1h0M1563.0 819.6h0M1566.9 822.1h0M1739.6 822.0h0M1665.0 812.3h0M1791.8 810.9h0M1474.9 805.3h0M1660.3 810.8h0M1618.7 804.5h0M1640.7 822.0h0M1529.0 815.4h0M1662.8 821.4h0M1592.9 820.4h0M1534.1 817.2h0M1549.3 810.0h0M1773.9 818.2h0M1586.3 820.9h0M1538.5 820.9h0M1438.3 820.0h0M1623.4 815.3h0M1766.4 806.0h0M1505.6 817.6h0M1763.2 817.8h0M1560.0 805.5h0M1672.3 812.9h0M1574.4 820.9h0M1761.9 815.6h0M1637.8 814.7h0M1768.6 811.2h0M1782.0 815.4h0M1457.8 815.3h0M1598.3 808.8h0M1802.6 801.7h0M1463.5 821.8h0M1606.2 818.9h0M1664.1 819.3h0M1437.0 802.2h0M1694.3 816.0h0M1622.4 805.2h0M1444.1 807.9h0M1487.1 817.5h0M1563.0 805.5h0M1441.2 809.6h0M1475.4 821.4h0M1478.1 816.9h0M1607.1 813.0h0M1437.7 820.8h0M1780.8 802.2h0M1661.8 811.4h0M1786.5 806.6h0M1565.9 816.9h0M1484.3 804.0h0M1784.0 815.8h0M1688.1 820.5h0M1584.2 814.6h0M1505.3 813.0h0M1455.1 822.0h0M1475.8 818.8h0M1566.9 813.0h0M1496.1 807.3h0M1701.7 814.8h0M1714.5 808.3h0M1633.7 808.6h0M1504.6 812.7h0M1536.5 810.1h0M1760.6 822.0h0M1476.5 818.5h0M1773.8 818.8h0M1584.8 820.9h0M1668.6 807.8h0M1565.9 804.9h0M1519.2 821.1h0M1537.3 803.8h0M1762.9 806.7h0M1734.7 816.0h0M1608.7 819.3h0M1568.0 813.1h0M1778.6 817.3h0M1619.9 815.0h0M1551.7 822.2h0M1620.3 822.1h0M1773.1 809.1h0M1551.3 818.3h0M1629.5 822.0h0M1604.4 815.6h0M1530.7 820.6h0M1433.6 809.6h0M1539.7 816.3h0M1719.2 804.2h0M1516.7 811.4h0M1765.5 821.4h0M1593.0 813.5h0M1658.9 809.1h0M1456.0 812.1h0M1771.5 805.6h0M1746.0 816.2h0M1592.5 809.1h0M1469.8 817.2h0M1695.0 817.2h0M1575.2 805.6h0M1643.4 815.0h0M1651.8 814.6h0M1765.0 821.3h0M1649.5 821.0h0M1480.2 820.3h0M1769.3 806.3h0M1468.8 811.4h0M1576.9 813.3h0M1799.4 812.8h0M1440.8 813.1h0M1786.2 811.9h0M1487.4 819.0h0M1789.2 803.1h0M1498.3 816.8h0M1575.3 807.3h0M1677.4 817.9h0M1518.0 806.3h0M1437.2 822.2h0M1638.9 815.1h0M1581.2 804.0h0M1435.5 805.8h0M1594.2 816.9h0M1802.3 815.8h0M1480.5 809.3h0M1538.0 810.6h0M1653.6 805.7h0M1716.3 820.6h0M1655.9 820.2h0M1556.8 814.3h0M1660.3 808.7h0M1552.9 811.4h0M1521.6 816.3h0M1704.5 820.8h0M1632.8 818.7h0M1737.3 814.8h0M1653.7 817.4h0M1606.0 820.9h0M1784.5 819.3h0M1455.9 813.1h0M1775.9 821.5h0M1463.2 813.0h0M1475.6 819.6h0M1462.8 805.9h0M1602.2 814.1h0M1570.4 802.9h0M1556.5 820.9h0M1609.6 811.8h0M1744.2 818.1h0M1644.7 821.2h0M1486.7 814.9h0M1540.1 818.3h0M1535.5 806.1h0M1465.3 807.7h0M1785.7 806.6h0M1528.4 821.5h0M1765.9 813.4h0M1576.2 818.0h0M1447.7 819.3h0M1729.9 816.4h0M1528.6 816.0h0M1676.6 811.9h0M1666.3 814.1h0M1620.2 809.4h0M1535.4 806.7h0M1489.1 817.3h0M1513.5 817.7h0M1571.5 809.7h0M1542.2 808.6h0M1524.4 804.2h0M1788.9 812.9h0M1469.0 809.0h0M1514.1 811.5h0M1529.1 806.5h0M1704.0 814.5h0M1446.6 816.6h0M1688.4 806.9h0M1612.6 819.9h0M1535.9 815.1h0M1643.9 816.5h0M1644.3 812.1h0M1633.6 807.2h0M1497.4 807.7h0M1684.6 810.2h0M1719.9 804.0h0M1497.5 806.9h0M1778.4 807.2h0M1652.5 809.5h0M1625.7 809.7h0M1493.5 814.4h0M1633.1 821.1h0M1514.1 811.2h0M1632.0 819.9h0M1464.0 821.4h0M1590.6 819.3h0M1641.3 815.3h0M1662.4 808.7h0M1785.0 819.5h0M1477.1 816.1h0M1755.3 817.1h0M1521.6 810.5h0M1543.9 813.2h0M1753.8 806.8h0M1479.8 817.6h0M1744.2 815.9h0M1757.9 813.6h0M1598.8 818.5h0M1700.4 804.8h0M1445.7 808.7h0M1651.8 806.6h0M1596.6 816.5h0M1649.3 804.1h0M1754.6 805.9h0M1791.6 819.7h0M1766.6 817.8h0M1771.6 803.7h0M1513.0 821.0h0M1678.8 806.7h0M1530.9 818.8h0M1577.8 807.1h0M1743.3 805.0h0M1694.5 818.4h0M1690.0 811.6h0M1486.6 810.2h0M1476.3 808.8h0M1752.5 819.9h0M1472.9 806.8h0M1595.7 804.7h0M1746.0 816.4h0M1769.1 820.5h0M1717.1 806.0h0M1596.6 818.2h0M1466.2 818.9h0M1652.7 805.6h0M1629.2 810.9h0M1488.7 815.7h0M1791.5 819.9h0M1460.4 805.2h0M1789.4 817.3h0M1524.1 815.8h0M1628.0 809.7h0M1738.9 807.2h0M1685.3 811.4h0M1567.0 808.3h0M1479.4 822.0h0M1508.6 804.3h0M1604.8 820.6h0M1486.5 810.0h0M1792.0 813.0h0M1540.4 814.4h0M1467.9 817.2h0M1742.6 807.0h0M1634.1 818.9h0M1621.0 812.5h0M1586.8 807.7h0M1773.5 821.0h0M1717.5 819.0h0M1683.5 812.0h0M1745.6 803.4h0M1501.7 813.2h0M1693.1 817.5h0M1433.4 812.3h0M1541.9 808.6h0M1669.7 806.9h0M1571.8 820.0h0M1512.3 811.0h0M1596.6 815.4h0M1734.9 809.4h0M1620.2 806.2h0M1541.6 812.3h0M1508.8 808.8h0M1511.0 817.5h0M1789.1 804.5h0M1732.6 817.5h0M1755.2 820.5h0M1627.0 803.6h0M1481.2 820.5h0M1456.0 807.3h0M1663.2 807.8h0M1470.8 819.2h0M1767.2 815.2h0M1473.6 810.3h0M1692.3 816.7h0M1585.3 807.2h0M1480.5 807.1h0M1621.3 818.5h0M1684.2 817.7h0M1768.1 803.5h0M1646.0 819.2h0M1782.2 804.3h0M1683.9 810.0h0M1699.1 820.3h0M1640.3 811.7h0M1459.2 821.1h0M1497.8 820.6h0M1532.0 819.0h0M1595.9 820.2h0M1544.4 807.6h0M1480.5 811.3h0M1750.9 820.6h0M1490.4 816.6h0M1692.0 815.2h0M1441.9 822.2h0M1635.1 814.7h0M1551.9 813.6h0M1579.1 808.5h0M1617.1 821.8h0M1461.8 805.6h0M1641.4 813.5h0M1468.0 798.0h0M1490.0 797.0h0M1530.0 799.0h0M1560.0 799.0h0M1600.0 797.0h0M1665.0 796.0h0M1690.0 798.0h0M1720.0 797.0h0M1760.0 798.0h0M1805.0 796.0h0M1433.0 821.1h0M1435.5 821.1h0M1438.0 821.7h0M1440.5 821.7h0M1443.0 821.0h0M1445.5 821.7h0M1448.0 821.8h0M1450.5 821.6h0M1453.0 820.7h0M1455.5 821.8h0M1458.0 821.0h0M1460.5 821.6h0M1463.0 820.8h0M1465.5 821.3h0M1468.0 821.1h0M1470.5 821.5h0M1473.0 821.6h0M1475.5 821.7h0M1478.0 821.6h0M1480.5 821.7h0M1483.0 821.4h0M1485.5 821.3h0M1488.0 821.6h0M1490.5 821.4h0M1493.0 821.6h0M1495.5 821.1h0M1498.0 821.8h0M1500.5 821.7h0M1503.0 820.9h0M1505.5 821.6h0M1508.0 821.3h0M1510.5 821.4h0M1513.0 821.6h0M1515.5 821.4h0M1518.0 821.4h0M1520.5 821.7h0M1523.0 820.8h0M1525.5 820.7h0M1528.0 821.0h0M1530.5 821.1h0M1533.0 820.8h0M1535.5 820.7h0M1538.0 821.2h0M1540.5 821.7h0M1543.0 821.6h0M1545.5 821.2h0M1548.0 821.7h0M1550.5 821.3h0M1553.0 821.3h0M1555.5 820.7h0M1558.0 821.0h0M1560.5 821.1h0M1563.0 820.7h0M1565.5 821.1h0M1568.0 821.4h0M1570.5 820.7h0M1573.0 821.0h0M1575.5 821.6h0M1578.0 821.1h0M1580.5 821.4h0M1583.0 820.8h0M1585.5 820.9h0M1588.0 821.6h0M1590.5 821.6h0M1593.0 820.8h0M1595.5 821.4h0M1598.0 821.6h0M1600.5 821.5h0M1603.0 821.5h0M1605.5 821.6h0M1608.0 821.1h0M1610.5 821.4h0M1613.0 821.0h0M1615.5 821.3h0M1618.0 821.5h0M1620.5 821.7h0M1623.0 821.5h0M1625.5 821.5h0M1628.0 820.8h0M1630.5 821.7h0M1633.0 821.1h0M1635.5 821.7h0M1638.0 820.7h0M1640.5 821.4h0M1643.0 821.2h0M1645.5 821.8h0M1648.0 821.6h0M1650.5 821.2h0M1653.0 821.5h0M1655.5 821.2h0M1658.0 821.8h0M1660.5 820.8h0M1663.0 821.8h0M1665.5 821.7h0M1668.0 821.0h0M1670.5 821.5h0M1673.0 821.6h0M1675.5 821.5h0M1678.0 821.7h0M1680.5 821.3h0M1683.0 821.2h0M1685.5 821.8h0M1688.0 821.2h0M1690.5 821.4h0M1693.0 821.6h0M1695.5 820.8h0M1698.0 820.9h0M1700.5 821.4h0M1703.0 821.0h0M1705.5 821.6h0M1708.0 821.3h0M1710.5 821.7h0M1713.0 821.2h0M1715.5 820.9h0M1718.0 821.4h0M1720.5 820.8h0M1723.0 821.5h0M1725.5 821.1h0M1728.0 821.0h0M1730.5 820.8h0M1733.0 821.2h0M1735.5 821.5h0M1738.0 821.5h0M1740.5 821.7h0M1743.0 821.2h0M1745.5 821.5h0M1748.0 821.3h0M1750.5 820.7h0M1753.0 821.2h0M1755.5 821.5h0M1758.0 820.7h0M1760.5 820.8h0M1763.0 821.8h0M1765.5 821.5h0M1768.0 821.0h0M1770.5 820.9h0M1773.0 821.7h0M1775.5 821.4h0M1778.0 821.2h0M1780.5 821.4h0M1783.0 821.7h0M1785.5 820.7h0M1788.0 820.8h0M1790.5 820.8h0M1793.0 821.7h0M1795.5 820.7h0M1798.0 820.7h0M1800.5 821.8h0M1803.0 820.9h0M1805.5 820.7h0M1808.0 821.8h0M1613.0 769.8h0M1616.9 784.6h0M1618.9 792.4h0M1636.6 780.6h0M1640.5 786.5h0M1644.4 794.4h0M1646.4 800.3h0M1479.2 802.3h0M1494.9 798.3h0M1522.5 800.3h0M1591.3 798.3h0M1658.2 796.4h0M1689.7 797.3h0M1803.8 796.4h0M1748.7 802.3h0" stroke="#bdbfc1" stroke-width="8.6" stroke-linecap="round" fill="none"/>
<path d="M1613.0 774.7h0M1615.9 747.2h0M1620.8 761.0h0" stroke="#819f9d" stroke-width="8.6" stroke-linecap="round" fill="none"/>
<path d="M1610.0 786.5h0M1610.0 792.4h0M1619.8 751.1h0M1614.9 755.1h0M1634.6 743.3h0M1617.9 745.2h0" stroke="#467676" stroke-width="9.0" stroke-linecap="round" fill="none"/>
<path d="M1434.0 637.2h0" stroke="#bdbfc1" stroke-width="8.6" stroke-linecap="round" fill="none"/>
</svg>
<svg x="1432.5" y="841.11" width="375.9" height="252.3" viewBox="1432.5 841.11 375.9 252.3" overflow="hidden">
<path d="M1627.0 1065.9h0M1727.0 1070.9h0M1694.7 1067.8h0M1533.9 1074.1h0M1690.0 1080.9h0M1587.2 1069.4h0M1563.6 1078.1h0M1738.0 1071.2h0M1707.2 1073.3h0M1517.1 1077.2h0M1528.3 1073.4h0M1531.0 1068.3h0M1494.8 1078.8h0M1732.4 1079.0h0M1682.7 1075.7h0M1633.9 1076.3h0M1597.1 1066.0h0M1539.6 1069.9h0M1667.5 1080.0h0M1608.0 1071.6h0M1568.0 1075.3h0M1690.9 1075.4h0M1532.8 1079.2h0M1449.8 1065.3h0M1438.6 1063.9h0M1663.4 1077.0h0M1552.2 1070.9h0M1660.9 1077.6h0M1447.9 1075.0h0M1609.6 1072.2h0M1630.2 1068.6h0M1642.8 1068.3h0M1692.6 1081.9h0M1668.2 1072.9h0M1739.3 1081.2h0M1739.6 1077.4h0M1561.8 1070.9h0M1792.7 1073.6h0M1534.1 1076.5h0M1550.2 1081.4h0M1658.6 1069.1h0M1690.5 1076.7h0M1462.7 1071.3h0M1722.4 1069.1h0M1802.8 1080.6h0M1584.9 1082.3h0M1784.6 1068.8h0M1444.0 1072.7h0M1529.7 1073.4h0M1528.7 1068.8h0M1480.0 1064.5h0M1600.3 1067.6h0M1446.3 1078.6h0M1619.7 1081.8h0M1635.8 1076.9h0M1583.6 1067.8h0M1798.2 1071.8h0M1493.4 1070.3h0M1741.0 1072.8h0M1546.6 1066.2h0M1805.9 1082.1h0M1698.3 1076.1h0M1485.3 1079.4h0M1636.2 1076.5h0M1535.7 1066.9h0M1560.8 1068.6h0M1664.6 1073.8h0M1491.0 1076.6h0M1749.5 1078.0h0M1563.2 1079.8h0M1747.3 1071.6h0M1702.8 1070.7h0M1595.8 1079.5h0M1770.2 1075.9h0M1490.0 1070.5h0M1480.6 1080.3h0M1732.1 1082.1h0M1584.7 1074.8h0M1453.8 1057.5h0M1472.2 1060.2h0M1686.8 1074.6h0M1634.0 1070.3h0M1435.3 1066.6h0M1503.6 1063.3h0M1721.8 1073.3h0M1713.3 1069.1h0M1649.0 1073.7h0M1602.7 1068.1h0M1652.8 1081.0h0M1734.0 1075.5h0M1624.3 1080.3h0M1755.1 1070.6h0M1499.0 1075.9h0M1776.4 1076.9h0M1520.2 1070.9h0M1770.1 1076.5h0M1586.8 1068.1h0M1525.1 1079.9h0M1750.0 1076.0h0M1557.9 1071.6h0M1724.8 1068.8h0M1565.2 1067.9h0M1535.8 1068.3h0M1580.6 1074.3h0M1455.2 1078.1h0M1776.7 1075.8h0M1486.5 1064.5h0M1520.0 1066.7h0M1779.1 1081.4h0M1785.5 1073.3h0M1733.8 1070.7h0M1625.8 1067.6h0M1633.6 1080.2h0M1489.4 1073.9h0M1688.9 1073.0h0M1670.2 1071.8h0M1764.6 1082.4h0M1608.7 1075.1h0M1601.7 1071.2h0M1635.6 1066.4h0M1569.8 1076.1h0M1529.8 1070.5h0M1672.3 1070.2h0M1787.1 1068.7h0M1599.5 1074.0h0M1807.5 1071.6h0M1672.4 1073.2h0M1540.8 1074.8h0M1799.0 1078.3h0M1718.1 1070.8h0M1779.7 1080.9h0M1778.6 1074.8h0M1725.1 1080.5h0M1784.9 1069.8h0M1742.7 1079.9h0M1700.9 1072.6h0M1527.0 1063.6h0M1741.4 1073.5h0M1560.3 1069.4h0M1444.1 1066.1h0M1665.4 1079.1h0M1799.8 1080.5h0M1648.1 1070.2h0M1571.5 1066.1h0M1491.3 1081.3h0M1576.8 1068.4h0M1783.8 1082.0h0M1579.4 1074.8h0M1680.9 1079.5h0M1662.5 1068.4h0M1454.1 1079.6h0M1447.6 1058.1h0M1501.4 1064.5h0M1672.5 1071.7h0M1563.7 1080.5h0M1702.6 1069.7h0M1442.2 1075.1h0M1672.2 1070.3h0M1484.1 1061.4h0M1580.9 1067.1h0M1538.3 1071.8h0M1638.3 1073.0h0M1770.6 1077.6h0M1485.7 1076.7h0M1492.8 1061.6h0M1777.6 1079.9h0M1510.3 1077.4h0M1752.1 1079.4h0M1671.3 1079.7h0M1494.1 1073.5h0M1716.1 1070.0h0M1516.0 1081.2h0M1727.8 1069.0h0M1672.9 1081.8h0M1723.8 1073.7h0M1619.3 1070.0h0M1703.2 1073.4h0M1673.6 1075.1h0M1433.3 1081.6h0M1683.9 1069.4h0M1696.5 1080.1h0M1626.7 1071.2h0M1751.6 1075.1h0M1648.9 1069.1h0M1788.5 1075.5h0M1555.6 1067.5h0M1464.9 1080.3h0M1618.9 1073.0h0M1754.5 1078.1h0M1640.2 1067.8h0M1692.5 1079.2h0M1749.4 1077.5h0M1547.0 1079.3h0M1552.6 1066.9h0M1706.6 1072.4h0M1540.8 1073.8h0M1718.9 1071.8h0M1657.2 1080.5h0M1512.0 1070.6h0M1661.4 1072.3h0M1744.4 1078.3h0M1766.2 1072.9h0M1577.5 1072.0h0M1669.2 1080.1h0M1672.4 1068.0h0M1597.4 1069.9h0M1615.4 1072.1h0M1471.3 1068.9h0M1621.9 1073.4h0M1440.0 1077.4h0M1618.2 1074.1h0M1679.0 1077.7h0M1728.6 1079.6h0M1729.5 1069.8h0M1563.3 1078.8h0M1492.4 1063.7h0M1545.4 1082.1h0M1490.2 1074.0h0M1448.1 1079.8h0M1470.4 1074.1h0M1456.5 1081.9h0M1748.3 1078.8h0M1689.5 1080.2h0M1578.0 1070.9h0M1788.9 1072.6h0M1506.0 1081.6h0M1552.6 1076.1h0M1757.2 1079.2h0M1788.7 1075.6h0M1612.5 1078.0h0M1652.0 1074.0h0M1549.0 1066.1h0M1489.2 1076.3h0M1584.3 1074.4h0M1649.0 1067.5h0M1497.6 1065.0h0M1577.2 1067.6h0M1756.3 1077.9h0M1795.8 1070.8h0M1455.9 1065.5h0M1740.5 1070.9h0M1491.9 1065.0h0M1756.2 1074.5h0M1453.6 1062.4h0M1556.9 1065.8h0M1561.8 1076.5h0M1662.5 1070.0h0M1500.5 1076.8h0M1540.0 1067.1h0M1676.3 1081.3h0M1448.2 1077.8h0M1500.9 1062.5h0M1696.9 1079.3h0M1677.0 1071.5h0M1777.7 1071.1h0M1596.1 1080.4h0M1658.7 1078.8h0M1453.6 1060.0h0M1674.1 1072.9h0M1648.7 1068.9h0M1490.2 1066.7h0M1575.9 1074.3h0M1559.1 1079.1h0M1706.8 1074.3h0M1456.1 1071.7h0M1784.1 1076.5h0M1753.0 1069.1h0M1633.9 1076.8h0M1776.7 1072.2h0M1510.7 1069.2h0M1531.5 1076.0h0M1573.5 1076.6h0M1469.2 1071.0h0M1465.1 1066.2h0M1590.7 1073.8h0M1731.0 1069.3h0M1570.6 1076.1h0M1529.0 1079.4h0M1761.0 1079.6h0M1608.4 1075.0h0M1685.4 1070.3h0M1678.2 1081.9h0M1509.5 1072.1h0M1790.5 1071.5h0M1507.8 1070.1h0M1786.0 1077.7h0M1475.4 1066.7h0M1524.1 1072.1h0M1584.3 1068.5h0M1682.5 1077.1h0M1628.3 1082.0h0M1550.6 1066.9h0M1475.8 1074.9h0M1770.4 1082.4h0M1546.6 1066.2h0M1798.9 1079.1h0M1575.2 1070.7h0M1779.2 1069.0h0M1441.1 1079.5h0M1698.4 1074.7h0M1612.3 1070.9h0M1508.7 1070.5h0M1480.6 1060.6h0M1612.9 1080.3h0M1781.9 1077.5h0M1779.0 1069.4h0M1626.9 1069.7h0M1697.3 1079.4h0M1645.7 1071.4h0M1455.2 1063.7h0M1636.1 1078.3h0M1506.1 1080.4h0M1637.2 1066.9h0M1519.3 1071.0h0M1680.5 1080.9h0M1707.8 1082.2h0M1534.8 1073.9h0M1741.0 1082.2h0M1701.3 1070.6h0M1513.8 1065.9h0M1598.9 1071.9h0M1760.2 1077.4h0M1677.0 1072.6h0M1598.5 1080.1h0M1734.4 1078.9h0M1754.5 1069.4h0M1791.1 1071.7h0M1541.6 1080.3h0M1626.4 1081.1h0M1448.8 1058.9h0M1732.7 1072.3h0M1673.6 1079.7h0M1522.9 1075.2h0M1548.5 1081.1h0M1580.5 1078.4h0M1683.0 1081.0h0M1561.9 1082.2h0M1594.3 1077.4h0M1463.3 1071.2h0M1685.4 1081.6h0M1461.6 1078.4h0M1470.7 1071.6h0M1511.9 1075.8h0M1686.3 1075.4h0M1760.5 1081.0h0M1694.0 1069.5h0M1671.7 1073.1h0M1437.4 1060.6h0M1574.5 1082.2h0M1433.7 1061.7h0M1701.9 1078.6h0M1496.9 1059.8h0M1584.2 1079.2h0M1624.2 1074.7h0M1571.9 1074.3h0M1448.4 1074.4h0M1558.8 1070.8h0M1628.2 1080.6h0M1619.7 1069.7h0M1760.0 1076.6h0M1705.7 1081.8h0M1599.2 1081.6h0M1670.3 1068.9h0M1720.0 1075.5h0M1790.0 1081.1h0M1797.0 1081.4h0M1611.9 1078.4h0M1527.5 1063.1h0M1513.5 1079.7h0M1659.6 1079.2h0M1683.0 1082.1h0M1618.7 1068.3h0M1763.3 1077.5h0M1576.4 1066.0h0M1731.6 1077.6h0M1783.6 1081.2h0M1670.3 1077.4h0M1526.6 1076.7h0M1697.5 1070.3h0M1691.5 1081.4h0M1705.6 1074.3h0M1790.1 1072.8h0M1544.3 1067.7h0M1799.3 1081.2h0M1475.3 1060.7h0M1678.6 1069.1h0M1501.1 1068.9h0M1701.5 1078.2h0M1565.1 1066.3h0M1636.2 1066.2h0M1443.5 1066.2h0M1785.1 1072.4h0M1547.8 1065.9h0M1490.6 1077.5h0M1610.4 1082.0h0M1521.7 1081.3h0M1528.7 1064.8h0M1500.1 1078.3h0M1474.9 1060.7h0M1501.0 1068.8h0M1546.6 1067.9h0M1491.7 1074.2h0M1528.7 1069.1h0M1612.0 1071.5h0M1563.6 1072.1h0M1581.3 1076.9h0M1496.7 1082.2h0M1472.1 1066.3h0M1727.5 1080.5h0M1760.4 1081.1h0M1483.6 1063.3h0M1495.2 1075.3h0M1720.3 1072.6h0M1806.1 1074.2h0M1558.9 1072.8h0M1732.4 1075.6h0M1604.3 1074.4h0M1758.7 1069.9h0M1566.0 1066.2h0M1447.0 1079.3h0M1722.8 1072.1h0M1708.0 1071.9h0M1778.0 1069.6h0M1806.7 1071.3h0M1471.0 1069.8h0M1719.8 1078.9h0M1716.5 1075.2h0M1532.1 1065.4h0M1657.7 1081.2h0M1718.1 1070.2h0M1632.7 1077.8h0M1555.6 1068.9h0M1712.3 1072.8h0M1545.3 1069.0h0M1645.0 1073.2h0M1767.9 1069.0h0M1619.6 1078.1h0M1662.7 1078.2h0M1665.0 1068.4h0M1525.2 1081.7h0M1646.9 1079.0h0M1636.7 1075.4h0M1443.5 1079.3h0M1742.9 1072.3h0M1779.2 1075.9h0M1640.1 1069.5h0M1658.3 1079.3h0M1599.5 1064.7h0M1700.9 1070.7h0M1693.2 1080.5h0M1714.2 1073.8h0M1625.5 1079.8h0M1575.6 1077.4h0M1486.2 1078.1h0M1612.5 1076.1h0M1483.1 1070.8h0M1711.8 1071.5h0M1449.9 1072.0h0M1517.3 1062.4h0M1769.1 1081.2h0M1584.3 1070.0h0M1572.6 1076.5h0M1720.7 1071.4h0M1666.1 1079.1h0M1477.1 1069.3h0M1576.4 1078.1h0M1784.2 1080.7h0M1775.3 1074.1h0M1793.1 1072.9h0M1754.0 1076.2h0M1504.9 1064.6h0M1669.2 1082.4h0M1695.6 1073.3h0M1611.9 1078.2h0M1656.6 1067.2h0M1804.5 1068.6h0M1718.0 1080.7h0M1455.3 1064.5h0M1509.5 1069.0h0M1614.7 1066.7h0M1682.6 1076.8h0M1659.0 1073.4h0M1650.0 1075.2h0M1482.7 1074.9h0M1514.7 1081.9h0M1602.0 1082.3h0M1803.2 1073.9h0M1798.8 1079.6h0M1688.4 1070.1h0M1575.6 1067.9h0M1790.3 1077.7h0M1580.1 1074.7h0M1646.1 1068.8h0M1684.9 1078.7h0M1804.5 1068.8h0M1546.4 1077.0h0M1508.5 1079.6h0M1784.8 1081.4h0M1686.0 1078.3h0M1682.2 1078.2h0M1528.8 1063.3h0M1769.7 1069.1h0M1472.7 1062.7h0M1654.8 1080.2h0M1559.2 1076.6h0M1728.3 1071.2h0M1576.0 1065.6h0M1669.6 1073.8h0M1509.7 1064.6h0M1649.1 1073.0h0M1642.1 1074.1h0M1654.7 1072.7h0M1435.7 1070.3h0M1794.7 1073.3h0M1531.4 1066.3h0M1799.6 1071.6h0M1489.8 1071.9h0M1529.0 1080.3h0M1576.8 1074.7h0M1532.5 1064.2h0M1457.5 1067.9h0M1446.4 1057.5h0M1727.4 1079.0h0M1803.9 1080.8h0M1647.6 1069.2h0M1595.7 1076.1h0M1553.4 1074.3h0M1503.7 1064.6h0M1436.2 1065.3h0M1690.3 1072.9h0M1541.6 1067.6h0M1681.1 1081.7h0M1706.1 1081.9h0M1771.5 1068.8h0M1502.7 1075.7h0M1677.9 1082.2h0M1682.4 1067.7h0M1746.2 1069.3h0M1444.9 1064.2h0M1783.0 1072.1h0M1523.8 1067.9h0M1716.5 1075.8h0M1633.3 1079.5h0M1481.8 1077.6h0M1795.2 1072.4h0M1755.6 1075.1h0M1690.3 1078.0h0M1699.6 1070.3h0M1754.2 1079.2h0M1752.0 1074.1h0M1563.2 1067.3h0M1718.1 1080.1h0M1731.2 1078.0h0M1629.3 1065.6h0M1663.4 1072.7h0M1693.6 1074.1h0M1559.9 1074.0h0M1745.9 1072.3h0M1705.6 1081.4h0M1579.2 1065.3h0M1675.7 1074.3h0M1470.5 1059.1h0M1490.8 1067.3h0M1751.3 1075.1h0M1783.5 1082.3h0M1708.1 1070.3h0M1736.7 1078.3h0M1707.8 1069.1h0M1779.7 1072.0h0M1564.0 1074.4h0M1463.1 1064.2h0M1484.6 1065.2h0M1647.9 1073.0h0M1651.9 1067.0h0M1542.9 1066.2h0M1636.2 1075.6h0M1634.8 1080.2h0M1654.6 1067.0h0M1483.5 1078.8h0M1506.0 1063.6h0M1758.6 1075.1h0M1755.0 1079.9h0M1442.9 1073.5h0M1593.8 1072.3h0M1442.0 1079.4h0M1723.1 1078.9h0M1478.9 1079.6h0M1739.5 1068.8h0M1681.3 1076.9h0M1584.1 1065.6h0M1619.6 1066.3h0M1721.9 1078.0h0M1561.5 1066.0h0M1606.5 1074.9h0M1440.1 1067.0h0M1573.9 1081.7h0M1799.4 1068.9h0M1512.0 1070.4h0M1563.0 1069.1h0M1656.0 1080.7h0M1433.0 1081.5h0M1435.5 1081.6h0M1438.0 1081.4h0M1440.5 1081.4h0M1443.0 1081.2h0M1445.5 1081.8h0M1448.0 1081.1h0M1450.5 1080.9h0M1453.0 1081.0h0M1455.5 1081.5h0M1458.0 1081.9h0M1460.5 1081.5h0M1463.0 1080.9h0M1465.5 1081.1h0M1468.0 1080.9h0M1470.5 1081.2h0M1473.0 1081.2h0M1475.5 1081.9h0M1478.0 1081.4h0M1480.5 1081.8h0M1483.0 1081.8h0M1485.5 1081.0h0M1488.0 1081.0h0M1490.5 1081.9h0M1493.0 1080.8h0M1495.5 1081.3h0M1498.0 1081.8h0M1500.5 1081.1h0M1503.0 1081.7h0M1505.5 1081.9h0M1508.0 1081.8h0M1510.5 1081.2h0M1513.0 1081.1h0M1515.5 1081.2h0M1518.0 1080.8h0M1520.5 1080.8h0M1523.0 1081.1h0M1525.5 1081.0h0M1528.0 1081.7h0M1530.5 1081.2h0M1533.0 1080.9h0M1535.5 1081.2h0M1538.0 1081.0h0M1540.5 1080.8h0M1543.0 1081.5h0M1545.5 1081.1h0M1548.0 1081.1h0M1550.5 1081.0h0M1553.0 1081.5h0M1555.5 1081.8h0M1558.0 1081.9h0M1560.5 1081.9h0M1563.0 1081.1h0M1565.5 1081.6h0M1568.0 1081.2h0M1570.5 1081.0h0M1573.0 1081.4h0M1575.5 1081.9h0M1578.0 1081.2h0M1580.5 1081.4h0M1583.0 1081.7h0M1585.5 1080.9h0M1588.0 1080.8h0M1590.5 1081.9h0M1593.0 1081.9h0M1595.5 1081.6h0M1598.0 1081.8h0M1600.5 1081.9h0M1603.0 1081.7h0M1605.5 1082.0h0M1608.0 1081.8h0M1610.5 1082.0h0M1613.0 1081.8h0M1615.5 1080.9h0M1618.0 1081.4h0M1620.5 1080.9h0M1623.0 1081.7h0M1625.5 1080.9h0M1628.0 1081.7h0M1630.5 1081.7h0M1633.0 1080.9h0M1635.5 1080.9h0M1638.0 1081.4h0M1640.5 1082.0h0M1643.0 1082.0h0M1645.5 1081.7h0M1648.0 1081.8h0M1650.5 1081.2h0M1653.0 1081.7h0M1655.5 1081.5h0M1658.0 1081.4h0M1660.5 1081.6h0M1663.0 1080.8h0M1665.5 1081.2h0M1668.0 1081.4h0M1670.5 1081.1h0M1673.0 1081.7h0M1675.5 1082.0h0M1678.0 1081.1h0M1680.5 1081.1h0M1683.0 1081.6h0M1685.5 1081.5h0M1688.0 1081.3h0M1690.5 1081.4h0M1693.0 1081.2h0M1695.5 1081.7h0M1698.0 1080.8h0M1700.5 1081.8h0M1703.0 1081.1h0M1705.5 1081.3h0M1708.0 1081.3h0M1710.5 1081.5h0M1713.0 1081.2h0M1715.5 1081.0h0M1718.0 1081.9h0M1720.5 1080.8h0M1723.0 1082.0h0M1725.5 1081.1h0M1728.0 1081.3h0M1730.5 1081.5h0M1733.0 1081.2h0M1735.5 1081.7h0M1738.0 1081.1h0M1740.5 1081.7h0M1743.0 1081.1h0M1745.5 1081.4h0M1748.0 1081.5h0M1750.5 1081.0h0M1753.0 1082.0h0M1755.5 1081.9h0M1758.0 1081.4h0M1760.5 1082.0h0M1763.0 1081.0h0M1765.5 1080.9h0M1768.0 1081.7h0M1770.5 1081.3h0M1773.0 1081.3h0M1775.5 1081.0h0M1778.0 1081.5h0M1780.5 1081.3h0M1783.0 1081.5h0M1785.5 1081.2h0M1788.0 1082.0h0M1790.5 1081.9h0M1793.0 1081.6h0M1795.5 1080.9h0M1798.0 1081.2h0M1800.5 1081.5h0M1803.0 1081.1h0M1805.5 1081.3h0M1808.0 1081.4h0M1492.0 1027.8h0M1479.2 1040.6h0M1471.3 1046.5h0M1491.0 1050.5h0M1567.7 1049.5h0M1562.8 1053.4h0M1554.9 1057.3h0M1712.3 1064.2h0M1611.0 1052.4h0M1485.1 1050.5h0M1520.5 1058.3h0M1526.4 1058.3h0" stroke="#bdbfc1" stroke-width="8.6" stroke-linecap="round" fill="none"/>
<path d="M1637.7 1064.2h0M1616.1 1056.7h0M1621.1 1062.8h0M1627.4 1060.9h0M1634.0 1061.0h0M1636.0 1055.2h0M1630.2 1065.5h0M1630.9 1055.4h0M1636.6 1065.6h0M1622.3 1059.6h0M1625.7 1055.1h0M1630.2 1057.9h0M1619.9 1061.6h0M1636.2 1061.2h0" stroke="#d8c29a" stroke-width="8.6" stroke-linecap="round" fill="none"/>
<path d="M1434.0 897.4h0" stroke="#bdbfc1" stroke-width="8.6" stroke-linecap="round" fill="none"/>
</svg>
<svg x="1432.5" y="1101.28" width="375.9" height="252.3" viewBox="1432.5 1101.28 375.9 252.3" overflow="hidden">
<rect x="1433" y="1322" width="375" height="23.08" fill="#293d6d"/>
<path d="M1698.0 1321.8h0M1789.5 1317.7h0M1509.7 1323.8h0M1777.3 1316.4h0M1606.0 1320.3h0M1604.6 1322.4h0M1705.5 1318.8h0M1650.4 1318.9h0M1483.0 1319.5h0M1499.0 1323.1h0M1500.3 1319.8h0M1560.0 1320.7h0M1540.8 1322.2h0M1496.8 1322.0h0M1805.4 1318.6h0M1515.4 1317.0h0M1723.7 1314.6h0M1626.0 1317.6h0M1684.3 1321.3h0M1617.7 1316.1h0M1717.0 1323.5h0M1798.8 1311.2h0M1473.9 1323.8h0M1746.4 1316.9h0M1642.4 1315.7h0M1674.8 1318.6h0M1698.5 1312.9h0M1734.5 1314.9h0M1717.3 1306.2h0M1718.8 1318.2h0M1457.8 1319.5h0M1651.1 1316.1h0M1474.5 1321.2h0M1660.0 1319.7h0M1665.4 1314.5h0M1789.3 1315.2h0M1681.2 1317.2h0M1599.1 1316.4h0M1544.5 1322.0h0M1644.3 1313.2h0M1705.0 1316.7h0M1684.4 1318.0h0M1442.4 1323.1h0M1792.0 1322.2h0M1713.8 1313.0h0M1512.9 1320.8h0M1619.7 1316.5h0M1676.6 1321.4h0M1513.6 1316.8h0M1800.1 1320.4h0M1461.5 1316.7h0M1597.4 1322.9h0M1699.9 1312.2h0M1571.8 1318.9h0M1627.4 1320.6h0M1457.5 1321.2h0M1738.7 1315.1h0M1671.2 1316.2h0M1565.7 1322.2h0M1785.8 1312.7h0M1503.6 1317.7h0M1804.8 1311.8h0M1727.5 1322.8h0M1750.4 1322.0h0M1597.8 1318.2h0M1743.8 1323.7h0M1607.6 1323.1h0M1454.7 1323.3h0M1461.7 1318.3h0M1586.9 1319.0h0M1752.8 1312.9h0M1731.2 1313.5h0M1590.6 1319.2h0M1561.9 1320.2h0M1590.2 1317.9h0M1484.2 1323.8h0M1529.9 1323.6h0M1481.9 1319.5h0M1512.6 1321.1h0M1678.6 1316.7h0M1797.7 1317.8h0M1678.8 1315.9h0M1519.0 1320.8h0M1776.0 1312.3h0M1536.8 1323.0h0M1763.3 1320.5h0M1728.0 1309.4h0M1658.4 1319.1h0M1705.5 1317.7h0M1550.1 1321.1h0M1604.0 1317.0h0M1505.6 1322.0h0M1698.5 1318.5h0M1685.9 1320.6h0M1682.3 1315.9h0M1612.2 1322.6h0M1471.4 1323.3h0M1632.0 1322.8h0M1518.9 1320.0h0M1527.9 1317.4h0M1455.8 1317.6h0M1601.9 1317.7h0M1613.5 1315.2h0M1629.7 1313.5h0M1766.4 1308.6h0M1609.7 1323.3h0M1538.6 1319.5h0M1622.9 1314.3h0M1486.6 1323.6h0M1766.8 1318.8h0M1685.8 1321.8h0M1785.2 1310.5h0M1471.3 1323.1h0M1580.1 1317.2h0M1435.0 1317.3h0M1610.2 1319.0h0M1523.8 1320.2h0M1591.8 1322.6h0M1444.6 1314.7h0M1562.4 1321.1h0M1707.7 1307.8h0M1496.8 1320.9h0M1727.4 1309.1h0M1783.9 1313.1h0M1472.2 1323.1h0M1563.6 1319.8h0M1628.6 1315.8h0M1709.0 1308.6h0M1640.1 1315.8h0M1719.8 1312.0h0M1571.0 1317.6h0M1508.9 1322.6h0M1570.3 1317.7h0M1487.9 1321.3h0M1700.2 1319.8h0M1443.8 1320.7h0M1746.2 1321.2h0M1500.8 1318.9h0M1678.7 1319.5h0M1578.1 1321.1h0M1435.8 1319.7h0M1465.9 1320.6h0M1637.6 1318.9h0M1734.5 1308.6h0M1783.9 1309.5h0M1519.4 1317.8h0M1798.5 1309.3h0M1705.4 1319.0h0M1512.5 1316.7h0M1804.1 1312.5h0M1719.0 1323.5h0M1438.1 1323.4h0M1628.3 1318.7h0M1486.2 1318.9h0M1700.8 1310.7h0M1746.3 1317.2h0M1488.7 1318.1h0M1771.9 1309.8h0M1692.3 1316.9h0M1790.9 1314.3h0M1743.3 1323.1h0M1688.6 1317.1h0M1734.8 1316.9h0M1586.6 1318.9h0M1483.9 1320.0h0M1433.4 1316.3h0M1629.3 1319.8h0M1626.1 1320.7h0M1582.1 1317.0h0M1621.2 1323.5h0M1457.0 1317.6h0M1712.5 1323.1h0M1762.3 1316.7h0M1523.6 1320.7h0M1640.9 1315.7h0M1482.6 1323.9h0M1554.3 1319.7h0M1718.1 1315.7h0M1556.0 1318.3h0M1610.4 1322.7h0M1575.9 1319.7h0M1519.8 1319.1h0M1439.9 1321.9h0M1751.4 1313.9h0M1630.1 1322.4h0M1618.3 1320.6h0M1631.5 1314.2h0M1575.7 1322.2h0M1539.5 1322.9h0M1517.5 1322.4h0M1616.1 1318.2h0M1798.7 1322.3h0M1644.9 1318.0h0M1496.8 1317.7h0M1761.3 1313.6h0M1443.6 1321.6h0M1606.1 1317.3h0M1446.2 1316.8h0M1486.4 1319.4h0M1647.9 1316.5h0M1624.4 1314.9h0M1598.1 1319.5h0M1685.4 1319.2h0M1524.9 1318.9h0M1656.1 1322.7h0M1433.2 1321.6h0M1569.1 1321.3h0M1723.9 1315.6h0M1482.8 1322.9h0M1526.9 1320.7h0M1444.9 1314.3h0M1753.5 1320.0h0M1442.8 1316.2h0M1537.6 1317.0h0M1485.0 1322.1h0M1570.0 1318.8h0M1683.0 1317.4h0M1644.5 1322.1h0M1481.3 1319.5h0M1487.4 1323.0h0M1758.8 1309.4h0M1641.4 1320.7h0M1745.6 1318.4h0M1690.9 1322.9h0M1529.7 1320.1h0M1556.6 1322.6h0M1591.5 1323.8h0M1756.2 1306.9h0M1449.7 1319.6h0M1636.8 1317.5h0M1530.7 1318.4h0M1542.8 1322.3h0M1653.6 1314.6h0M1770.9 1317.7h0M1801.3 1320.7h0M1735.2 1306.8h0M1591.0 1323.4h0M1762.0 1318.6h0M1751.5 1321.7h0M1673.9 1314.5h0M1512.4 1319.5h0M1548.6 1317.6h0M1437.7 1322.0h0M1551.9 1323.4h0M1470.6 1320.8h0M1805.1 1322.7h0M1633.5 1318.4h0M1739.2 1320.3h0M1704.4 1314.4h0M1527.7 1322.8h0M1756.1 1322.7h0M1464.6 1321.3h0M1460.3 1323.7h0M1708.4 1324.0h0M1647.9 1321.9h0M1603.3 1318.5h0M1795.2 1315.1h0M1646.6 1319.0h0M1465.6 1318.7h0M1744.8 1313.6h0M1557.2 1323.4h0M1672.8 1323.1h0M1690.2 1320.7h0M1439.3 1319.6h0M1629.5 1318.0h0M1616.6 1321.4h0M1667.7 1317.8h0M1468.9 1319.1h0M1610.0 1321.0h0M1670.4 1314.9h0M1728.7 1317.9h0M1570.4 1322.4h0M1772.3 1315.7h0M1543.4 1317.8h0M1573.1 1319.9h0M1509.1 1317.1h0M1579.6 1317.5h0M1765.8 1321.4h0M1462.5 1323.2h0M1559.9 1323.0h0M1634.2 1317.5h0M1690.5 1314.6h0M1807.2 1322.3h0M1450.0 1323.3h0M1677.0 1314.3h0M1497.4 1319.6h0M1775.3 1315.2h0M1683.4 1314.9h0M1564.1 1319.6h0M1731.6 1314.4h0M1475.9 1321.6h0M1478.8 1322.2h0M1807.9 1320.9h0M1648.7 1320.7h0M1688.6 1316.2h0M1600.5 1318.0h0M1523.0 1319.3h0M1442.0 1320.4h0M1447.3 1320.9h0M1442.0 1316.9h0M1610.4 1315.9h0M1536.0 1319.3h0M1555.0 1320.3h0M1737.0 1307.9h0M1605.5 1316.6h0M1741.9 1322.4h0M1533.4 1320.5h0M1567.1 1317.6h0M1691.6 1322.7h0M1684.2 1323.0h0M1487.3 1322.5h0M1779.3 1308.1h0M1441.5 1315.0h0M1602.0 1317.2h0M1588.4 1323.2h0M1695.7 1317.2h0M1580.3 1321.2h0M1450.7 1318.2h0M1767.7 1319.0h0M1570.9 1323.2h0M1722.4 1322.0h0M1630.5 1320.4h0M1687.5 1322.4h0M1523.3 1320.2h0M1763.3 1310.2h0M1484.6 1319.0h0M1685.6 1320.7h0M1675.5 1321.9h0M1622.0 1318.5h0M1709.8 1310.0h0M1684.7 1323.1h0M1750.5 1316.0h0M1574.7 1323.8h0M1732.8 1322.3h0M1648.2 1321.9h0M1774.5 1323.3h0M1603.9 1322.3h0M1613.9 1317.7h0M1626.6 1316.9h0M1666.2 1323.3h0M1717.3 1306.9h0M1561.8 1320.0h0M1645.4 1317.8h0M1743.8 1307.1h0M1747.6 1318.6h0M1549.1 1321.4h0M1729.8 1305.9h0M1517.4 1316.9h0M1754.5 1316.8h0M1523.8 1323.5h0M1662.3 1322.3h0M1675.2 1316.0h0M1527.8 1321.0h0M1696.7 1322.4h0M1466.2 1320.3h0M1616.0 1322.7h0M1530.8 1321.2h0M1558.3 1321.2h0M1452.9 1322.6h0M1756.1 1308.0h0M1641.2 1316.2h0M1530.1 1322.4h0M1608.8 1321.3h0M1765.7 1316.9h0M1712.2 1317.7h0M1580.5 1318.4h0M1566.0 1322.3h0M1611.1 1317.7h0M1681.3 1321.3h0M1774.4 1312.5h0M1733.2 1318.0h0M1471.3 1319.5h0M1690.1 1317.0h0M1499.0 1320.1h0M1513.5 1319.4h0M1678.0 1322.2h0M1483.2 1323.8h0M1706.4 1319.4h0M1570.1 1319.9h0M1515.4 1322.6h0M1720.3 1313.3h0M1455.8 1317.7h0M1470.9 1319.6h0M1523.5 1320.6h0M1449.8 1319.9h0M1721.1 1320.4h0M1613.5 1323.0h0M1645.8 1316.2h0M1612.5 1321.3h0M1640.3 1319.0h0M1643.7 1317.2h0M1554.2 1318.1h0M1510.0 1322.5h0M1641.6 1317.1h0M1539.4 1322.5h0M1606.0 1316.6h0M1695.4 1312.2h0M1695.8 1314.8h0M1521.9 1320.0h0M1740.1 1320.1h0M1763.3 1310.8h0M1437.5 1319.1h0M1587.6 1317.7h0M1539.5 1320.0h0M1774.6 1316.7h0M1740.8 1320.1h0M1760.3 1311.7h0M1522.1 1322.1h0M1798.6 1322.1h0M1502.8 1317.7h0M1454.3 1320.1h0M1483.3 1322.3h0M1550.0 1320.2h0M1704.9 1320.9h0M1754.5 1311.0h0M1700.8 1317.3h0M1636.6 1317.3h0M1482.7 1323.0h0M1779.7 1317.3h0M1616.7 1320.1h0M1605.1 1225.9h0M1601.2 1229.8h0M1589.4 1236.7h0M1597.2 1237.7h0M1605.1 1237.7h0M1609.0 1235.7h0M1595.3 1241.6h0M1593.3 1247.5h0M1603.1 1250.5h0M1594.3 1253.4h0M1590.3 1263.8h0M1594.3 1272.1h0M1631.6 1281.4h0M1640.5 1285.5h0M1610.0 1289.2h0M1641.5 1295.7h0M1647.4 1302.6h0M1673.9 1302.6h0M1697.5 1302.6h0M1784.1 1294.7h0M1520.5 1306.5h0M1485.1 1311.4h0M1435.9 1310.1h0M1450.7 1314.4h0M1554.9 1309.5h0M1563.8 1308.5h0M1626.7 1308.5h0M1640.5 1310.5h0M1655.2 1312.4h0M1666.1 1313.4h0M1589.4 1313.4h0M1615.9 1219.0h0" stroke="#293d6d" stroke-width="8.6" stroke-linecap="round" fill="none"/>
<path d="M1611.0 1213.1h0M1616.9 1235.7h0M1621.8 1240.6h0M1625.7 1241.6h0" stroke="#62bb7c" stroke-width="8.6" stroke-linecap="round" fill="none"/>
<path d="M1609.0 1218.0h0M1614.9 1230.8h0M1613.0 1245.6h0M1620.8 1246.5h0M1625.7 1251.5h0M1632.6 1240.6h0M1632.6 1246.5h0" stroke="#2abbce" stroke-width="8.6" stroke-linecap="round" fill="none"/>
<path d="M1433.0 1341.5h0M1435.5 1341.0h0M1438.0 1341.7h0M1440.5 1341.9h0M1443.0 1341.6h0M1445.5 1342.2h0M1448.0 1341.7h0M1450.5 1341.1h0M1453.0 1341.6h0M1455.5 1341.6h0M1458.0 1341.9h0M1460.5 1341.3h0M1463.0 1341.9h0M1465.5 1341.2h0M1468.0 1342.0h0M1470.5 1341.6h0M1473.0 1341.3h0M1475.5 1341.6h0M1478.0 1341.6h0M1480.5 1341.5h0M1483.0 1341.9h0M1485.5 1341.7h0M1488.0 1341.5h0M1490.5 1341.7h0M1493.0 1341.5h0M1495.5 1342.1h0M1498.0 1341.1h0M1500.5 1341.7h0M1503.0 1341.0h0M1505.5 1341.4h0M1508.0 1341.0h0M1510.5 1341.2h0M1513.0 1341.9h0M1515.5 1341.9h0M1518.0 1341.4h0M1520.5 1341.9h0M1523.0 1341.4h0M1525.5 1341.5h0M1528.0 1342.0h0M1530.5 1342.1h0M1533.0 1341.9h0M1535.5 1341.5h0M1538.0 1341.3h0M1540.5 1341.2h0M1543.0 1342.1h0M1545.5 1341.2h0M1548.0 1341.6h0M1550.5 1341.7h0M1553.0 1342.0h0M1555.5 1341.5h0M1558.0 1341.0h0M1560.5 1341.1h0M1563.0 1341.7h0M1565.5 1341.5h0M1568.0 1341.4h0M1570.5 1341.4h0M1573.0 1341.9h0M1575.5 1341.8h0M1578.0 1341.6h0M1580.5 1341.0h0M1583.0 1341.5h0M1585.5 1341.6h0M1588.0 1341.1h0M1590.5 1341.2h0M1593.0 1341.3h0M1595.5 1341.2h0M1598.0 1341.7h0M1600.5 1341.8h0M1603.0 1341.5h0M1605.5 1341.3h0M1608.0 1341.8h0M1610.5 1342.0h0M1613.0 1341.8h0M1615.5 1341.3h0M1618.0 1341.7h0M1620.5 1341.2h0M1623.0 1341.7h0M1625.5 1341.8h0M1628.0 1341.0h0M1630.5 1341.3h0M1633.0 1341.9h0M1635.5 1341.9h0M1638.0 1341.9h0M1640.5 1341.2h0M1643.0 1341.3h0M1645.5 1341.4h0M1648.0 1341.5h0M1650.5 1341.2h0M1653.0 1342.0h0M1655.5 1341.7h0M1658.0 1341.7h0M1660.5 1341.0h0M1663.0 1341.9h0M1665.5 1341.0h0M1668.0 1342.0h0M1670.5 1342.1h0M1673.0 1341.8h0M1675.5 1341.6h0M1678.0 1341.1h0M1680.5 1342.0h0M1683.0 1342.2h0M1685.5 1341.9h0M1688.0 1341.6h0M1690.5 1342.0h0M1693.0 1341.1h0M1695.5 1341.3h0M1698.0 1341.7h0M1700.5 1341.2h0M1703.0 1341.0h0M1705.5 1341.7h0M1708.0 1341.8h0M1710.5 1341.9h0M1713.0 1341.7h0M1715.5 1341.8h0M1718.0 1341.4h0M1720.5 1342.0h0M1723.0 1341.5h0M1725.5 1341.1h0M1728.0 1341.9h0M1730.5 1342.1h0M1733.0 1341.5h0M1735.5 1342.0h0M1738.0 1342.1h0M1740.5 1341.3h0M1743.0 1341.6h0M1745.5 1341.9h0M1748.0 1341.4h0M1750.5 1341.9h0M1753.0 1341.6h0M1755.5 1341.0h0M1758.0 1341.7h0M1760.5 1342.1h0M1763.0 1341.9h0M1765.5 1341.4h0M1768.0 1341.6h0M1770.5 1341.6h0M1773.0 1341.8h0M1775.5 1341.1h0M1778.0 1341.6h0M1780.5 1342.1h0M1783.0 1341.9h0M1785.5 1341.7h0M1788.0 1341.3h0M1790.5 1341.4h0M1793.0 1341.8h0M1795.5 1341.2h0M1798.0 1341.1h0M1800.5 1341.4h0M1803.0 1341.9h0M1805.5 1341.1h0M1808.0 1341.9h0M1434.0 1157.6h0" stroke="#293d6d" stroke-width="8.6" stroke-linecap="round" fill="none"/>
</svg>
<svg x="1432.5" y="1361.45" width="375.9" height="252.3" viewBox="1432.5 1361.45 375.9 252.3" overflow="hidden">
<rect x="1433" y="1592" width="375" height="13.25" fill="#293d6d"/>
<path d="M1627.3 1589.2h0M1519.1 1593.4h0M1671.8 1590.5h0M1715.9 1591.9h0M1764.9 1590.8h0M1451.4 1592.0h0M1612.4 1589.7h0M1461.0 1590.2h0M1729.3 1593.3h0M1744.5 1592.6h0M1630.3 1593.9h0M1775.8 1593.3h0M1583.8 1585.5h0M1563.6 1591.2h0M1632.9 1588.0h0M1598.4 1591.8h0M1494.9 1589.5h0M1724.0 1591.7h0M1448.8 1589.1h0M1783.9 1591.0h0M1515.7 1591.4h0M1747.7 1593.7h0M1729.7 1593.1h0M1624.2 1588.7h0M1523.5 1589.8h0M1796.8 1586.9h0M1639.9 1593.3h0M1658.8 1593.8h0M1640.6 1584.3h0M1499.7 1592.0h0M1569.7 1589.6h0M1636.0 1592.2h0M1614.8 1592.0h0M1515.7 1590.4h0M1639.6 1592.1h0M1767.0 1588.4h0M1673.5 1593.6h0M1512.5 1590.4h0M1534.8 1589.8h0M1567.0 1590.2h0M1658.8 1587.0h0M1647.0 1587.8h0M1460.5 1590.4h0M1803.0 1593.7h0M1700.6 1590.0h0M1450.6 1590.1h0M1748.7 1590.0h0M1559.4 1587.1h0M1684.3 1588.7h0M1745.0 1591.6h0M1694.6 1593.4h0M1584.9 1588.6h0M1579.7 1584.9h0M1521.3 1589.1h0M1760.5 1593.4h0M1798.9 1589.7h0M1734.5 1592.6h0M1582.4 1593.9h0M1692.7 1588.0h0M1676.3 1593.7h0M1798.8 1589.0h0M1438.8 1590.5h0M1586.4 1589.3h0M1613.0 1593.0h0M1456.7 1590.9h0M1607.5 1590.8h0M1539.5 1588.6h0M1707.8 1589.9h0M1673.2 1592.0h0M1736.0 1590.9h0M1662.9 1591.8h0M1790.7 1588.2h0M1526.6 1591.7h0M1577.0 1592.5h0M1797.7 1585.9h0M1655.1 1589.6h0M1464.7 1591.5h0M1754.3 1588.5h0M1643.8 1586.7h0M1599.2 1587.9h0M1759.7 1590.9h0M1686.8 1589.5h0M1543.0 1589.9h0M1446.0 1589.0h0M1741.3 1590.5h0M1461.6 1590.9h0M1443.0 1589.6h0M1561.8 1592.2h0M1648.7 1586.9h0M1695.3 1590.3h0M1672.3 1588.1h0M1441.5 1591.6h0M1633.6 1587.8h0M1639.2 1585.9h0M1748.3 1587.9h0M1709.4 1587.6h0M1594.2 1584.8h0M1686.3 1592.7h0M1559.9 1588.6h0M1571.7 1585.0h0M1735.8 1587.8h0M1739.4 1592.2h0M1679.5 1591.2h0M1479.7 1589.3h0M1748.1 1592.2h0M1491.1 1588.4h0M1493.0 1591.8h0M1578.1 1588.3h0M1743.4 1592.7h0M1723.8 1591.6h0M1692.4 1593.0h0M1448.4 1591.3h0M1720.6 1587.2h0M1804.0 1593.1h0M1766.5 1591.5h0M1574.6 1592.6h0M1786.1 1586.6h0M1699.1 1594.0h0M1644.2 1585.4h0M1743.5 1588.2h0M1777.3 1586.9h0M1800.2 1593.7h0M1645.5 1587.5h0M1758.2 1589.5h0M1584.8 1589.5h0M1534.1 1592.9h0M1569.3 1585.2h0M1505.1 1589.8h0M1495.1 1591.6h0M1739.5 1588.6h0M1733.2 1593.1h0M1724.7 1593.9h0M1642.9 1593.5h0M1684.7 1592.5h0M1763.3 1591.5h0M1516.2 1589.6h0M1632.1 1593.2h0M1659.0 1591.5h0M1515.3 1593.3h0M1533.4 1590.4h0M1625.9 1590.4h0M1614.6 1590.5h0M1682.1 1589.9h0M1674.9 1592.5h0M1584.3 1593.2h0M1759.8 1591.9h0M1747.4 1590.9h0M1434.5 1588.6h0M1761.8 1593.2h0M1506.1 1588.3h0M1774.9 1588.9h0M1542.3 1591.6h0M1464.5 1592.8h0M1434.1 1592.0h0M1779.1 1591.9h0M1642.4 1592.1h0M1667.0 1593.0h0M1565.0 1589.8h0M1792.1 1587.7h0M1476.0 1590.8h0M1602.0 1585.7h0M1644.1 1584.7h0M1687.1 1592.6h0M1780.6 1590.2h0M1479.3 1590.6h0M1762.5 1589.5h0M1553.4 1593.8h0M1622.6 1583.5h0M1717.4 1591.3h0M1674.3 1591.6h0M1742.2 1588.7h0M1528.7 1592.4h0M1533.9 1588.2h0M1630.8 1588.7h0M1779.7 1587.5h0M1439.8 1591.0h0M1654.2 1592.7h0M1446.6 1589.1h0M1606.4 1591.7h0M1632.3 1583.7h0M1746.7 1593.7h0M1663.3 1586.7h0M1548.6 1589.9h0M1571.0 1585.2h0M1678.4 1589.5h0M1644.0 1593.1h0M1604.0 1583.7h0M1780.5 1591.0h0M1582.7 1585.7h0M1573.5 1588.0h0M1508.8 1590.5h0M1704.4 1588.4h0M1765.0 1591.0h0M1615.6 1593.5h0M1596.7 1583.4h0M1667.9 1591.4h0M1699.9 1593.6h0M1667.1 1592.8h0M1644.9 1588.0h0M1503.6 1588.8h0M1526.9 1591.3h0M1644.1 1591.3h0M1646.2 1590.2h0M1548.2 1592.6h0M1513.2 1589.4h0M1575.2 1589.2h0M1794.1 1587.6h0M1522.5 1590.9h0M1569.5 1592.3h0M1741.1 1591.7h0M1541.0 1590.4h0M1734.7 1589.3h0M1585.6 1592.8h0M1768.8 1592.8h0M1767.6 1593.6h0M1684.8 1591.5h0M1451.0 1591.4h0M1648.3 1589.8h0M1569.4 1586.6h0M1802.5 1592.8h0M1751.4 1593.8h0M1753.9 1590.1h0M1740.6 1590.4h0M1591.7 1587.5h0M1694.0 1591.2h0M1710.1 1591.6h0M1535.8 1592.9h0M1492.8 1591.5h0M1523.7 1593.2h0M1783.0 1589.9h0M1465.1 1593.7h0M1803.4 1588.0h0M1671.3 1592.5h0M1520.9 1589.1h0M1531.7 1593.5h0M1709.0 1587.7h0M1489.4 1591.3h0M1663.7 1590.6h0M1487.5 1590.4h0M1477.5 1593.2h0M1590.8 1587.6h0M1573.0 1584.9h0M1617.3 1594.0h0M1618.3 1590.5h0M1689.9 1590.0h0M1695.8 1592.7h0M1759.9 1589.7h0M1794.6 1591.6h0M1787.4 1590.7h0M1503.2 1590.9h0M1588.9 1588.5h0M1551.1 1592.2h0M1788.3 1588.2h0M1594.6 1593.6h0M1733.8 1590.2h0M1769.7 1589.2h0M1742.8 1590.7h0M1740.6 1587.7h0M1686.8 1587.9h0M1803.6 1593.5h0M1743.2 1593.5h0M1642.5 1588.9h0M1797.9 1586.4h0M1488.0 1587.8h0M1460.8 1593.9h0M1507.8 1588.5h0M1807.3 1590.6h0M1642.0 1585.1h0M1565.1 1584.7h0M1736.5 1593.3h0M1624.9 1593.0h0M1472.7 1591.2h0M1688.3 1592.6h0M1573.4 1585.8h0M1630.5 1589.5h0M1741.5 1588.2h0M1802.7 1593.9h0M1610.5 1587.0h0M1682.3 1588.2h0M1504.3 1588.2h0M1784.0 1588.9h0M1594.9 1589.0h0M1586.5 1589.9h0M1629.9 1592.8h0M1719.9 1587.0h0M1589.0 1583.7h0M1787.8 1591.5h0M1488.0 1592.7h0M1689.8 1588.7h0M1639.4 1593.8h0M1606.4 1593.9h0M1542.7 1587.2h0M1761.2 1592.7h0M1597.5 1591.7h0M1801.1 1588.2h0M1674.5 1589.5h0M1497.8 1590.3h0M1743.5 1587.6h0M1769.2 1589.5h0M1511.2 1590.5h0M1589.4 1564.6h0M1636.6 1564.6h0M1640.5 1564.6h0M1452.7 1576.0h0M1516.6 1576.0h0M1554.0 1573.4h0M1563.8 1576.0h0M1582.5 1573.4h0M1607.1 1571.4h0M1599.2 1572.4h0M1593.3 1573.4h0M1654.3 1574.4h0M1694.6 1577.3h0M1744.7 1575.4h0M1784.1 1574.4h0M1803.8 1580.3h0M1470.4 1581.3h0M1479.2 1581.3h0M1494.9 1582.3h0M1538.2 1581.3h0M1550.0 1580.3h0M1634.6 1570.5h0M1685.7 1580.3h0" stroke="#293d6d" stroke-width="8.6" stroke-linecap="round" fill="none"/>
<path d="M1613.9 1533.1h0M1610.0 1545.9h0M1613.9 1554.7h0M1622.8 1541.9h0M1626.7 1541.0h0" stroke="#2abbce" stroke-width="8.6" stroke-linecap="round" fill="none"/>
<path d="M1616.9 1544.9h0M1613.0 1547.8h0" stroke="#62bb7c" stroke-width="8.6" stroke-linecap="round" fill="none"/>
<path d="M1433.0 1601.2h0M1435.5 1602.1h0M1438.0 1601.4h0M1440.5 1601.3h0M1443.0 1602.2h0M1445.5 1601.9h0M1448.0 1601.9h0M1450.5 1601.8h0M1453.0 1601.3h0M1455.5 1602.3h0M1458.0 1601.5h0M1460.5 1602.3h0M1463.0 1601.5h0M1465.5 1601.5h0M1468.0 1602.2h0M1470.5 1601.8h0M1473.0 1602.3h0M1475.5 1601.7h0M1478.0 1602.0h0M1480.5 1601.2h0M1483.0 1601.7h0M1485.5 1601.4h0M1488.0 1601.9h0M1490.5 1601.7h0M1493.0 1602.2h0M1495.5 1601.5h0M1498.0 1601.7h0M1500.5 1601.5h0M1503.0 1601.8h0M1505.5 1601.6h0M1508.0 1601.2h0M1510.5 1601.5h0M1513.0 1601.7h0M1515.5 1601.2h0M1518.0 1602.3h0M1520.5 1601.3h0M1523.0 1601.2h0M1525.5 1601.8h0M1528.0 1601.6h0M1530.5 1601.8h0M1533.0 1601.5h0M1535.5 1601.8h0M1538.0 1601.8h0M1540.5 1601.9h0M1543.0 1601.5h0M1545.5 1601.4h0M1548.0 1601.3h0M1550.5 1601.3h0M1553.0 1601.5h0M1555.5 1601.7h0M1558.0 1601.8h0M1560.5 1601.6h0M1563.0 1601.5h0M1565.5 1602.2h0M1568.0 1601.5h0M1570.5 1601.7h0M1573.0 1602.1h0M1575.5 1601.9h0M1578.0 1601.4h0M1580.5 1601.4h0M1583.0 1601.2h0M1585.5 1601.2h0M1588.0 1601.4h0M1590.5 1601.6h0M1593.0 1601.4h0M1595.5 1601.2h0M1598.0 1601.5h0M1600.5 1601.6h0M1603.0 1601.5h0M1605.5 1601.4h0M1608.0 1602.2h0M1610.5 1602.3h0M1613.0 1601.8h0M1615.5 1601.8h0M1618.0 1601.4h0M1620.5 1602.2h0M1623.0 1601.6h0M1625.5 1601.2h0M1628.0 1601.6h0M1630.5 1601.9h0M1633.0 1602.3h0M1635.5 1601.2h0M1638.0 1602.2h0M1640.5 1601.6h0M1643.0 1601.6h0M1645.5 1601.6h0M1648.0 1601.5h0M1650.5 1601.8h0M1653.0 1602.2h0M1655.5 1601.5h0M1658.0 1602.3h0M1660.5 1601.3h0M1663.0 1601.7h0M1665.5 1601.7h0M1668.0 1601.2h0M1670.5 1601.6h0M1673.0 1602.3h0M1675.5 1601.6h0M1678.0 1601.3h0M1680.5 1601.4h0M1683.0 1601.6h0M1685.5 1601.5h0M1688.0 1601.9h0M1690.5 1602.2h0M1693.0 1601.2h0M1695.5 1602.1h0M1698.0 1601.4h0M1700.5 1602.3h0M1703.0 1601.3h0M1705.5 1602.0h0M1708.0 1602.3h0M1710.5 1601.2h0M1713.0 1602.2h0M1715.5 1602.2h0M1718.0 1601.7h0M1720.5 1602.0h0M1723.0 1601.3h0M1725.5 1601.4h0M1728.0 1601.8h0M1730.5 1601.8h0M1733.0 1601.7h0M1735.5 1602.3h0M1738.0 1601.3h0M1740.5 1601.7h0M1743.0 1602.1h0M1745.5 1601.8h0M1748.0 1601.3h0M1750.5 1601.8h0M1753.0 1601.9h0M1755.5 1601.8h0M1758.0 1602.3h0M1760.5 1601.3h0M1763.0 1601.2h0M1765.5 1602.0h0M1768.0 1602.1h0M1770.5 1601.4h0M1773.0 1601.3h0M1775.5 1601.8h0M1778.0 1602.3h0M1780.5 1601.5h0M1783.0 1601.6h0M1785.5 1602.2h0M1788.0 1602.0h0M1790.5 1601.9h0M1793.0 1601.2h0M1795.5 1602.2h0M1798.0 1601.4h0M1800.5 1601.2h0M1803.0 1601.8h0M1805.5 1601.5h0M1808.0 1601.2h0M1434.0 1417.8h0" stroke="#293d6d" stroke-width="8.6" stroke-linecap="round" fill="none"/>
</svg>
<svg x="1432.5" y="1621.62" width="375.9" height="252.3" viewBox="1432.5 1621.62 375.9 252.3" overflow="hidden">
<path d="M1433.0 1862.1h0M1435.0 1861.6h0M1437.0 1861.9h0M1439.0 1861.9h0M1441.0 1861.7h0M1443.0 1861.8h0M1445.0 1861.9h0M1447.0 1862.0h0M1449.0 1862.3h0M1451.0 1861.8h0M1453.0 1861.7h0M1455.0 1861.5h0M1457.0 1862.5h0M1459.0 1862.3h0M1461.0 1861.9h0M1463.0 1861.8h0M1465.0 1862.4h0M1467.0 1861.9h0M1469.0 1861.9h0M1471.0 1862.2h0M1473.0 1861.8h0M1475.0 1861.7h0M1477.0 1861.6h0M1479.0 1862.4h0M1481.0 1862.3h0M1483.0 1862.3h0M1485.0 1861.9h0M1487.0 1861.6h0M1489.0 1862.0h0M1491.0 1862.5h0M1493.0 1861.7h0M1495.0 1861.6h0M1497.0 1862.5h0M1499.0 1862.4h0M1501.0 1861.7h0M1503.0 1862.2h0M1505.0 1862.5h0M1507.0 1862.5h0M1509.0 1862.4h0M1511.0 1862.2h0M1513.0 1861.6h0M1515.0 1862.5h0M1517.0 1862.1h0M1519.0 1861.6h0M1521.0 1861.8h0M1523.0 1862.3h0M1525.0 1861.9h0M1527.0 1861.8h0M1529.0 1861.8h0M1531.0 1862.1h0M1533.0 1862.4h0M1535.0 1861.6h0M1537.0 1862.2h0M1539.0 1861.8h0M1541.0 1862.0h0M1543.0 1861.7h0M1545.0 1862.0h0M1547.0 1862.4h0M1549.0 1862.3h0M1551.0 1862.3h0M1553.0 1862.1h0M1555.0 1861.9h0M1557.0 1861.9h0M1559.0 1861.5h0M1561.0 1861.8h0M1563.0 1861.5h0M1565.0 1861.6h0M1567.0 1862.2h0M1569.0 1861.6h0M1571.0 1861.7h0M1573.0 1862.2h0M1575.0 1861.6h0M1577.0 1861.6h0M1579.0 1861.6h0M1581.0 1862.1h0M1583.0 1861.9h0M1585.0 1861.7h0M1587.0 1862.1h0M1589.0 1862.3h0M1591.0 1862.5h0M1593.0 1861.5h0M1595.0 1862.0h0M1597.0 1861.8h0M1599.0 1861.7h0M1601.0 1862.4h0M1603.0 1861.6h0M1605.0 1862.1h0M1607.0 1862.1h0M1609.0 1861.7h0M1611.0 1862.5h0M1613.0 1861.6h0M1615.0 1862.2h0M1617.0 1862.5h0M1619.0 1862.5h0M1621.0 1861.8h0M1623.0 1862.4h0M1625.0 1861.7h0M1627.0 1861.7h0M1629.0 1861.7h0M1631.0 1862.2h0M1633.0 1862.0h0M1635.0 1862.2h0M1637.0 1861.9h0M1639.0 1862.3h0M1641.0 1862.0h0M1643.0 1862.2h0M1645.0 1861.5h0M1647.0 1861.7h0M1649.0 1861.8h0M1651.0 1861.7h0M1653.0 1862.2h0M1655.0 1861.8h0M1657.0 1862.4h0M1659.0 1861.9h0M1661.0 1861.6h0M1663.0 1862.3h0M1665.0 1862.1h0M1667.0 1862.4h0M1669.0 1862.3h0M1671.0 1862.2h0M1673.0 1861.7h0M1675.0 1861.9h0M1677.0 1862.2h0M1679.0 1861.9h0M1681.0 1862.0h0M1683.0 1862.1h0M1685.0 1862.4h0M1687.0 1862.0h0M1689.0 1861.8h0M1691.0 1862.1h0M1693.0 1862.5h0M1695.0 1862.4h0M1697.0 1861.7h0M1699.0 1862.2h0M1701.0 1861.8h0M1703.0 1861.7h0M1705.0 1862.5h0M1707.0 1862.0h0M1709.0 1862.2h0M1711.0 1861.8h0M1713.0 1862.0h0M1715.0 1862.1h0M1717.0 1862.4h0M1719.0 1862.5h0M1721.0 1862.0h0M1723.0 1862.5h0M1725.0 1862.0h0M1727.0 1862.1h0M1729.0 1862.4h0M1731.0 1862.2h0M1733.0 1861.6h0M1735.0 1861.9h0M1737.0 1862.3h0M1739.0 1862.4h0M1741.0 1862.3h0M1743.0 1861.9h0M1745.0 1862.3h0M1747.0 1861.6h0M1749.0 1862.4h0M1751.0 1861.6h0M1753.0 1862.1h0M1755.0 1862.0h0M1757.0 1862.4h0M1759.0 1862.1h0M1761.0 1862.1h0M1763.0 1862.0h0M1765.0 1862.4h0M1767.0 1862.5h0M1769.0 1862.3h0M1771.0 1862.2h0M1773.0 1861.9h0M1775.0 1862.4h0M1777.0 1862.3h0M1779.0 1862.0h0M1781.0 1861.5h0M1783.0 1861.9h0M1785.0 1862.3h0M1787.0 1862.0h0M1789.0 1862.0h0M1791.0 1862.3h0M1793.0 1861.8h0M1795.0 1861.9h0M1797.0 1861.6h0M1799.0 1862.1h0M1801.0 1862.0h0M1803.0 1862.3h0M1805.0 1862.3h0M1807.0 1862.2h0" stroke="#0b0b0b" stroke-width="9.0" stroke-linecap="round" fill="none"/>
<path d="M1631.0 1791.5h0M1626.9 1828.2h0M1615.4 1858.0h0M1622.0 1858.0h0M1632.0 1855.0h0" stroke="#0b0b0b" stroke-width="9.6" stroke-linecap="round" fill="none"/>
</svg>
<line x1="357.2" y1="64.6" x2="357.2" y2="418.6" stroke="#ed1c24" stroke-width="2.1" stroke-dasharray="3.0 2.75"/>
<line x1="357.2" y1="428.2" x2="357.2" y2="782.2" stroke="#ed1c24" stroke-width="2.1" stroke-dasharray="3.0 2.75"/>
<line x1="357.2" y1="791.8" x2="357.2" y2="1145.8" stroke="#ed1c24" stroke-width="2.1" stroke-dasharray="3.0 2.75"/>
<line x1="357.2" y1="1155.4" x2="357.2" y2="1509.4" stroke="#ed1c24" stroke-width="2.1" stroke-dasharray="3.0 2.75"/>
<line x1="357.2" y1="1519" x2="357.2" y2="1873" stroke="#ed1c24" stroke-width="2.1" stroke-dasharray="3.0 2.75"/>
<line x1="1058.5" y1="64.6" x2="1058.5" y2="418.6" stroke="#ed1c24" stroke-width="2.1" stroke-dasharray="3.0 2.75"/>
<line x1="1058.5" y1="428.2" x2="1058.5" y2="782.2" stroke="#ed1c24" stroke-width="2.1" stroke-dasharray="3.0 2.75"/>
<line x1="1058.5" y1="791.8" x2="1058.5" y2="1145.8" stroke="#ed1c24" stroke-width="2.1" stroke-dasharray="3.0 2.75"/>
<line x1="1058.5" y1="1155.4" x2="1058.5" y2="1509.4" stroke="#ed1c24" stroke-width="2.1" stroke-dasharray="3.0 2.75"/>
<line x1="1058.5" y1="1519" x2="1058.5" y2="1873" stroke="#ed1c24" stroke-width="2.1" stroke-dasharray="3.0 2.75"/>
<line x1="1630" y1="61.6" x2="1630" y2="311.9" stroke="#ed1c24" stroke-width="2.1" stroke-dasharray="3.0 2.75"/>
<line x1="1630" y1="321.77" x2="1630" y2="572.07" stroke="#ed1c24" stroke-width="2.1" stroke-dasharray="3.0 2.75"/>
<line x1="1630" y1="581.94" x2="1630" y2="832.24" stroke="#ed1c24" stroke-width="2.1" stroke-dasharray="3.0 2.75"/>
<line x1="1630" y1="842.11" x2="1630" y2="1092.41" stroke="#ed1c24" stroke-width="2.1" stroke-dasharray="3.0 2.75"/>
<line x1="1630" y1="1102.28" x2="1630" y2="1352.58" stroke="#ed1c24" stroke-width="2.1" stroke-dasharray="3.0 2.75"/>
<line x1="1630" y1="1362.45" x2="1630" y2="1612.75" stroke="#ed1c24" stroke-width="2.1" stroke-dasharray="3.0 2.75"/>
<line x1="1630" y1="1622.62" x2="1630" y2="1872.92" stroke="#ed1c24" stroke-width="2.1" stroke-dasharray="3.0 2.75"/>
<path d="M356.8 286.5L371.8 300L356.8 313.5L341.8 300Z" fill="#5c56a6" stroke="#111" stroke-width="2" stroke-linejoin="miter"/>
<path d="M356.8 730.7L371.8 744.2L356.8 757.7L341.8 744.2Z" fill="#5c56a6" stroke="#111" stroke-width="2" stroke-linejoin="miter"/>
<path d="M356.8 1102.9L371.8 1116.4L356.8 1129.9L341.8 1116.4Z" fill="#5c56a6" stroke="#111" stroke-width="2" stroke-linejoin="miter"/>
<path d="M356.8 1180.4L371.8 1193.9L356.8 1207.4L341.8 1193.9Z" fill="#5c56a6" stroke="#111" stroke-width="2" stroke-linejoin="miter"/>
<path d="M356.8 1811.2L371.8 1824.7L356.8 1838.2L341.8 1824.7Z" fill="#5c56a6" stroke="#111" stroke-width="2" stroke-linejoin="miter"/>
<path d="M1058.6 262.2L1073.6 275.7L1058.6 289.2L1043.6 275.7Z" fill="#5c56a6" stroke="#111" stroke-width="2" stroke-linejoin="miter"/>
<path d="M1058.6 728.4L1073.6 741.9L1058.6 755.4L1043.6 741.9Z" fill="#5c56a6" stroke="#111" stroke-width="2" stroke-linejoin="miter"/>
<path d="M1058.6 1093L1073.6 1106.5L1058.6 1120L1043.6 1106.5Z" fill="#5c56a6" stroke="#111" stroke-width="2" stroke-linejoin="miter"/>
<path d="M1058.6 1210.3L1073.6 1223.8L1058.6 1237.3L1043.6 1223.8Z" fill="#5c56a6" stroke="#111" stroke-width="2" stroke-linejoin="miter"/>
<path d="M1058.9 1770.2L1073.9 1783.7L1058.9 1797.2L1043.9 1783.7Z" fill="#5c56a6" stroke="#111" stroke-width="2" stroke-linejoin="miter"/>
<path d="M1629.7 77L1644.7 90.5L1629.7 104L1614.7 90.5Z" fill="#5c56a6" stroke="#111" stroke-width="2" stroke-linejoin="miter"/>
<path d="M1629.7 387.5L1644.7 401L1629.7 414.5L1614.7 401Z" fill="#5c56a6" stroke="#111" stroke-width="2" stroke-linejoin="miter"/>
<path d="M1629.7 738.6L1644.7 752.1L1629.7 765.6L1614.7 752.1Z" fill="#5c56a6" stroke="#111" stroke-width="2" stroke-linejoin="miter"/>
<path d="M1629.7 1066.5L1644.7 1080L1629.7 1093.5L1614.7 1080Z" fill="#5c56a6" stroke="#111" stroke-width="2" stroke-linejoin="miter"/>
<path d="M1629.7 1207.9L1644.7 1221.4L1629.7 1234.9L1614.7 1221.4Z" fill="#5c56a6" stroke="#111" stroke-width="2" stroke-linejoin="miter"/>
<path d="M1629.7 1517L1644.7 1530.5L1629.7 1544L1614.7 1530.5Z" fill="#5c56a6" stroke="#111" stroke-width="2" stroke-linejoin="miter"/>
<path d="M1629.7 1734.5L1644.7 1748L1629.7 1761.5L1614.7 1748Z" fill="#5c56a6" stroke="#111" stroke-width="2" stroke-linejoin="miter"/>
<text transform="translate(382.52,281.3) scale(1.0542,1)" font-size="27.5" fill="#ed1c24">rs56994090</text>
<text transform="translate(371.32,682.3) scale(1.0542,1)" font-size="27.5" fill="#ed1c24">rs56994090</text>
<text transform="translate(375.21,1051.1) scale(1.0570,1)" font-size="27.5" fill="#ed1c24">rs56994090</text>
<text transform="translate(377.21,1195.3) scale(1.0563,1)" font-size="27.5" fill="#ed1c24">rs56994090</text>
<text transform="translate(368.7,1798.3) scale(1.0619,1)" font-size="27.5" fill="#ed1c24">rs56994090</text>
<text transform="translate(897.72,239.1) scale(1.0505,1)" font-size="27.5" fill="#ed1c24">rs72785165</text>
<text transform="translate(1001.01,690.7) scale(1.0547,1)" font-size="27.5" fill="#ed1c24">rs72785165</text>
<text transform="translate(1005.52,1050.4) scale(1.0505,1)" font-size="27.5" fill="#ed1c24">rs72785165</text>
<text transform="translate(884.02,1205.5) scale(1.0505,1)" font-size="27.5" fill="#ed1c24">rs72785165</text>
<text transform="translate(881.49,1777.5) scale(1.0695,1)" font-size="27.5" fill="#ed1c24">rs72785165</text>
<text transform="translate(1470.42,98.4) scale(1.0531,1)" font-size="27.5" fill="#ed1c24">rs3742305</text>
<text transform="translate(1634.72,377.4) scale(1.0492,1)" font-size="27.5" fill="#ed1c24">rs3742305</text>
<text transform="translate(1636.22,731.1) scale(1.0531,1)" font-size="27.5" fill="#ed1c24">rs3742305</text>
<text transform="translate(1634.72,1025.9) scale(1.0492,1)" font-size="27.5" fill="#ed1c24">rs3742305</text>
<text transform="translate(1631.13,1194.8) scale(1.0468,1)" font-size="27.5" fill="#ed1c24">rs3742305</text>
<text transform="translate(1636.22,1511.5) scale(1.0531,1)" font-size="27.5" fill="#ed1c24">rs3742305</text>
<text transform="translate(1481.52,1757.3) scale(1.0516,1)" font-size="27.5" fill="#ed1c24">rs3742305</text>
<text transform="translate(216.37,319.7) scale(0.9924,1)" font-size="28.9" fill="#231f20">2.2x10</text>
<text transform="translate(302.53,308.81) scale(1.0422,1)" font-size="16.5" fill="#231f20">-5</text>
<text transform="translate(222.67,678.4) scale(0.9876,1)" font-size="28.9" fill="#231f20">2.2x10</text>
<text transform="translate(308.43,668.51) scale(1.0422,1)" font-size="16.5" fill="#231f20">-5</text>
<text transform="translate(215.37,1051.1) scale(0.9924,1)" font-size="28.9" fill="#231f20">2.2x10</text>
<text transform="translate(300.58,1041.31) scale(1.1102,1)" font-size="16.5" fill="#231f20">-5</text>
<text transform="translate(221.94,1364.4) scale(1.0033,1)" font-size="28.9" fill="#231f20">5x10</text>
<text transform="translate(284.8,1354.61) scale(1.0758,1)" font-size="16.5" fill="#231f20">-8</text>
<text transform="translate(826.83,331.1) scale(0.9869,1)" font-size="28.9" fill="#231f20">3.0x10</text>
<text transform="translate(912.23,321.31) scale(1.0422,1)" font-size="16.5" fill="#231f20">-5</text>
<text transform="translate(827.74,690.7) scale(0.9763,1)" font-size="28.9" fill="#231f20">3.0x10</text>
<text transform="translate(914.08,680.91) scale(0.9667,1)" font-size="16.5" fill="#231f20">-5</text>
<text transform="translate(826.83,1055.7) scale(0.9869,1)" font-size="28.9" fill="#231f20">3.0x10</text>
<text transform="translate(912.65,1046.51) scale(1.0120,1)" font-size="16.5" fill="#231f20">-5</text>
<text x="1104.64" y="1378.2" font-size="28.9" fill="#231f20">5x10</text>
<text transform="translate(1167.29,1369.31) scale(1.0909,1)" font-size="16.5" fill="#231f20">-8</text>
<text transform="translate(1437.42,246.9) scale(0.9578,1)" font-size="28.9" fill="#231f20">1.3x10</text>
<text transform="translate(1522.15,238.01) scale(1.0044,1)" font-size="16.5" fill="#231f20">-5</text>
<text transform="translate(1437.42,507.3) scale(0.9578,1)" font-size="28.9" fill="#231f20">1.3x10</text>
<text transform="translate(1522.15,498.01) scale(1.0044,1)" font-size="16.5" fill="#231f20">-5</text>
<text transform="translate(1437.42,768.8) scale(0.9578,1)" font-size="28.9" fill="#231f20">1.3x10</text>
<text transform="translate(1522.15,759.01) scale(1.0044,1)" font-size="16.5" fill="#231f20">-5</text>
<text transform="translate(1437.42,1025.9) scale(0.9578,1)" font-size="28.9" fill="#231f20">1.3x10</text>
<text transform="translate(1522.15,1016.61) scale(1.0044,1)" font-size="16.5" fill="#231f20">-5</text>
<text transform="translate(1436.36,1268.8) scale(0.9834,1)" font-size="28.9" fill="#231f20">5x10</text>
<text transform="translate(1499.13,1261.31) scale(1.0379,1)" font-size="16.5" fill="#231f20">-8</text>
<text transform="translate(1436.36,1525.6) scale(0.9851,1)" font-size="28.9" fill="#231f20">5x10</text>
<text transform="translate(1499.13,1517.41) scale(1.0379,1)" font-size="16.5" fill="#231f20">-8</text>
<text transform="translate(169.9,241.6) rotate(-90) scale(1.0000,1.1000) translate(-54.96,0)" font-size="23.4" fill="#231f20">iPSC-PPC</text>
<text transform="translate(196.3,241.6) rotate(-90) scale(1.0000,1.1000) translate(-78.51,0)" font-size="23.4" fill="#231f20">-log10(p-value)</text>
<text transform="translate(169.9,605.2) rotate(-90) scale(1.0000,1.1000) translate(-27.99,0)" font-size="23.4" fill="#231f20">Islets</text>
<text transform="translate(196.3,605.2) rotate(-90) scale(1.0000,1.1000) translate(-78.51,0)" font-size="23.4" fill="#231f20">-log10(p-value)</text>
<text transform="translate(169.9,968.8) rotate(-90) scale(1.0000,1.1000) translate(-49.99,0)" font-size="23.4" fill="#231f20">Pancreas</text>
<text transform="translate(196.3,968.8) rotate(-90) scale(1.0000,1.1000) translate(-78.51,0)" font-size="23.4" fill="#231f20">-log10(p-value)</text>
<text transform="translate(182.7,1696) rotate(-90) scale(1.0000,1.1000) translate(-15.97,0)" font-size="23.4" fill="#231f20">PP</text>
<text transform="translate(783.4,241.6) rotate(-90) scale(1.0000,1.1000) translate(-54.96,0)" font-size="23.4" fill="#231f20">iPSC-PPC</text>
<text transform="translate(809.8,241.6) rotate(-90) scale(1.0000,1.1000) translate(-78.51,0)" font-size="23.4" fill="#231f20">-log10(p-value)</text>
<text transform="translate(783.4,605.2) rotate(-90) scale(1.0000,1.1000) translate(-27.99,0)" font-size="23.4" fill="#231f20">Islets</text>
<text transform="translate(809.8,605.2) rotate(-90) scale(1.0000,1.1000) translate(-78.51,0)" font-size="23.4" fill="#231f20">-log10(p-value)</text>
<text transform="translate(783.4,968.8) rotate(-90) scale(1.0000,1.1000) translate(-49.99,0)" font-size="23.4" fill="#231f20">Pancreas</text>
<text transform="translate(809.8,968.8) rotate(-90) scale(1.0000,1.1000) translate(-78.51,0)" font-size="23.4" fill="#231f20">-log10(p-value)</text>
<text transform="translate(796.2,1696) rotate(-90) scale(1.0000,1.1000) translate(-15.97,0)" font-size="23.4" fill="#231f20">PP</text>
<text transform="translate(169.9,1332.4) rotate(-90) scale(1.0000,1.1000) translate(-84.42,0)" font-size="23.4" fill="#231f20">Type 1 Diabetes</text>
<text transform="translate(196.3,1332.4) rotate(-90) scale(1.0000,1.1000) translate(-78.51,0)" font-size="23.4" fill="#231f20">-log10(p-value)</text>
<text transform="translate(797.3,1332.4) rotate(-90) scale(1.0000,1.1000) translate(-78.27,0)" font-size="23.4" fill="#231f20">HbA1c (UKBB)</text>
<text transform="translate(1398,186.75) rotate(-90) scale(1.0000,1.1000) translate(-117.09,0)" font-size="23.4" fill="#231f20">iPSC-PPC (HMGB1.1)</text>
<text transform="translate(1423.5,186.75) rotate(-90) scale(1.0000,1.1000) translate(-78.51,0)" font-size="23.4" fill="#231f20">-log10(p-value)</text>
<text transform="translate(1398,446.92) rotate(-90) scale(1.0000,1.1000) translate(-117.09,0)" font-size="23.4" fill="#231f20">iPSC-PPC (HMGB1.2)</text>
<text transform="translate(1423.5,446.92) rotate(-90) scale(1.0000,1.1000) translate(-78.51,0)" font-size="23.4" fill="#231f20">-log10(p-value)</text>
<text transform="translate(1398,707.09) rotate(-90) scale(1.0000,1.1000) translate(-117.09,0)" font-size="23.4" fill="#231f20">iPSC-PPC (HMGB1.3)</text>
<text transform="translate(1423.5,707.09) rotate(-90) scale(1.0000,1.1000) translate(-78.51,0)" font-size="23.4" fill="#231f20">-log10(p-value)</text>
<text transform="translate(1398,967.26) rotate(-90) scale(1.0000,1.1000) translate(-49.99,0)" font-size="23.4" fill="#231f20">Pancreas</text>
<text transform="translate(1423.5,967.26) rotate(-90) scale(1.0000,1.1000) translate(-78.51,0)" font-size="23.4" fill="#231f20">-log10(p-value)</text>
<text transform="translate(1398,1227.43) rotate(-90) scale(1.0000,1.1000) translate(-20.68,0)" font-size="23.4" fill="#231f20">BMI</text>
<text transform="translate(1423.5,1227.43) rotate(-90) scale(1.0000,1.1000) translate(-78.51,0)" font-size="23.4" fill="#231f20">-log10(p-value)</text>
<text transform="translate(1398,1487.6) rotate(-90) scale(1.0000,1.1000) translate(-84.42,0)" font-size="23.4" fill="#231f20">Type 2 Diabetes</text>
<text transform="translate(1423.5,1487.6) rotate(-90) scale(1.0000,1.1000) translate(-78.51,0)" font-size="23.4" fill="#231f20">-log10(p-value)</text>
<text transform="translate(1410.4,1747.77) rotate(-90) scale(1.0000,1.1000) translate(-15.97,0)" font-size="23.4" fill="#231f20">PP</text>
<text transform="translate(-0.28,29.4) scale(0.9731,1)" font-size="44" fill="#000" font-weight="bold">a</text>
<text transform="translate(612.97,29.5) scale(1.2498,1)" font-size="38.5" fill="#000" font-weight="bold">b</text>
<text transform="translate(1227.72,29.5) scale(1.0598,1)" font-size="42" fill="#000" font-weight="bold">c</text>
<text transform="translate(350.35,21.2) scale(1.1334,1)" font-size="26.2" fill="#111">MEG3</text>
<text transform="translate(201.97,50.5) scale(1.0918,1)" font-size="26.6" fill="#111">chr14:101286447-101326447</text>
<text transform="translate(965.48,21.1) scale(1.1610,1)" font-size="26.2" fill="#111">CDH3</text>
<text transform="translate(831.62,49.7) scale(1.0915,1)" font-size="26.6" fill="#111">chr16:68685635-68855635</text>
<text transform="translate(1570.51,20.8) scale(1.0961,1)" font-size="24.8" fill="#111">HMGB1</text>
<text transform="translate(1454.11,47.2) scale(1.0992,1)" font-size="25.4" fill="#111">chr13:30956642-31116642</text>
<line x1="246" y1="1872.5" x2="246" y2="1890.7" stroke="#333" stroke-width="2.5"/>
<text transform="translate(208.9,1910.2) scale(1.1312,1)" font-size="21.8" fill="#111" stroke="#111" stroke-width="0.4">101.28</text>
<line x1="329.9" y1="1872.5" x2="329.9" y2="1890.7" stroke="#333" stroke-width="2.5"/>
<text transform="translate(292.8,1910.2) scale(1.1293,1)" font-size="21.8" fill="#111" stroke="#111" stroke-width="0.4">101.30</text>
<line x1="413.9" y1="1872.5" x2="413.9" y2="1890.7" stroke="#333" stroke-width="2.5"/>
<text transform="translate(376.8,1910.2) scale(1.1341,1)" font-size="21.8" fill="#111" stroke="#111" stroke-width="0.4">101.32</text>
<line x1="497.8" y1="1872.5" x2="497.8" y2="1890.7" stroke="#333" stroke-width="2.5"/>
<text transform="translate(460.71,1910.2) scale(1.1254,1)" font-size="21.8" fill="#111" stroke="#111" stroke-width="0.4">101.34</text>
<text transform="translate(273.83,1948.3) scale(1.0830,1)" font-size="25.5" fill="#111">chr14 Position (Mb)</text>
<line x1="818.8" y1="1872.5" x2="818.8" y2="1890.7" stroke="#333" stroke-width="2.5"/>
<text transform="translate(795.03,1910.2) scale(1.1622,1)" font-size="21.8" fill="#111" stroke="#111" stroke-width="0.4">68.5</text>
<line x1="912.5" y1="1872.5" x2="912.5" y2="1890.7" stroke="#333" stroke-width="2.5"/>
<text transform="translate(888.73,1910.2) scale(1.1638,1)" font-size="21.8" fill="#111" stroke="#111" stroke-width="0.4">68.6</text>
<line x1="1006.3" y1="1872.5" x2="1006.3" y2="1890.7" stroke="#333" stroke-width="2.5"/>
<text transform="translate(982.53,1910.2) scale(1.1685,1)" font-size="21.8" fill="#111" stroke="#111" stroke-width="0.4">68.7</text>
<line x1="1100.2" y1="1872.5" x2="1100.2" y2="1890.7" stroke="#333" stroke-width="2.5"/>
<text transform="translate(1076.43,1910.2) scale(1.1638,1)" font-size="21.8" fill="#111" stroke="#111" stroke-width="0.4">68.8</text>
<text transform="translate(887.53,1948.3) scale(1.0802,1)" font-size="25.5" fill="#111">chr16 Position (Mb)</text>
<line x1="1432.2" y1="1872.5" x2="1432.2" y2="1890.7" stroke="#333" stroke-width="2.5"/>
<text transform="translate(1408.75,1910.2) scale(1.1560,1)" font-size="21.8" fill="#111" stroke="#111" stroke-width="0.4">30.8</text>
<line x1="1515.2" y1="1872.5" x2="1515.2" y2="1890.7" stroke="#333" stroke-width="2.5"/>
<text transform="translate(1491.75,1910.2) scale(1.1576,1)" font-size="21.8" fill="#111" stroke="#111" stroke-width="0.4">30.9</text>
<line x1="1599.1" y1="1872.5" x2="1599.1" y2="1890.7" stroke="#333" stroke-width="2.5"/>
<text transform="translate(1575.66,1910.2) scale(1.1529,1)" font-size="21.8" fill="#111" stroke="#111" stroke-width="0.4">31.0</text>
<line x1="1682.9" y1="1872.5" x2="1682.9" y2="1890.7" stroke="#333" stroke-width="2.5"/>
<text transform="translate(1659.45,1910.2) scale(1.1591,1)" font-size="21.8" fill="#111" stroke="#111" stroke-width="0.4">31.1</text>
<line x1="1766.8" y1="1872.5" x2="1766.8" y2="1890.7" stroke="#333" stroke-width="2.5"/>
<text transform="translate(1743.35,1910.2) scale(1.1607,1)" font-size="21.8" fill="#111" stroke="#111" stroke-width="0.4">31.2</text>
<text transform="translate(1501.63,1948.3) scale(1.0802,1)" font-size="25.5" fill="#111">chr13 Position (Mb)</text>
<defs><linearGradient id="g1" x1="0" y1="0" x2="0" y2="1"><stop offset="0" stop-color="#2b5f5c"/><stop offset="1" stop-color="#c9cacb"/></linearGradient></defs>
<rect x="1858.6" y="133.6" width="31.6" height="169.6" fill="url(#g1)" stroke="#3a3a3a" stroke-width="1.4"/>
<line x1="1858.6" y1="260.8" x2="1864.6" y2="260.8" stroke="#3a3a3a" stroke-width="1.4"/>
<line x1="1884.2" y1="260.8" x2="1890.2" y2="260.8" stroke="#3a3a3a" stroke-width="1.4"/>
<line x1="1858.6" y1="218.4" x2="1864.6" y2="218.4" stroke="#3a3a3a" stroke-width="1.4"/>
<line x1="1884.2" y1="218.4" x2="1890.2" y2="218.4" stroke="#3a3a3a" stroke-width="1.4"/>
<line x1="1858.6" y1="176" x2="1864.6" y2="176" stroke="#3a3a3a" stroke-width="1.4"/>
<line x1="1884.2" y1="176" x2="1890.2" y2="176" stroke="#3a3a3a" stroke-width="1.4"/>
<line x1="1864.6" y1="303.2" x2="1884.2" y2="303.2" stroke="#3a3a3a" stroke-width="1.4"/>
<line x1="1864.6" y1="133.6" x2="1884.2" y2="133.6" stroke="#3a3a3a" stroke-width="1.4"/>
<text transform="translate(1858.15,115.3) scale(0.9148,1)" font-size="28.5" fill="#231f20">LD (r</text>
<text transform="translate(1915.53,100.7) scale(1.0179,1)" font-size="19" fill="#231f20">2</text>
<text x="1925.33" y="115.3" font-size="28.5" fill="#231f20">)</text>
<text transform="translate(1890.62,147.4) scale(0.8146,1)" font-size="19.3" fill="#231f20">1</text>
<text transform="translate(1893.07,181.5) scale(0.9474,1)" font-size="19.3" fill="#231f20">0.75</text>
<text transform="translate(1894.95,227.4) scale(0.9655,1)" font-size="19.3" fill="#231f20">0.50</text>
<text transform="translate(1894.97,267.4) scale(0.9501,1)" font-size="19.3" fill="#231f20">0.25</text>
<text transform="translate(1894.39,302.2) scale(0.9223,1)" font-size="19.3" fill="#231f20">0</text>
<defs><linearGradient id="g2" x1="0" y1="0" x2="0" y2="1"><stop offset="0" stop-color="#4675a0"/><stop offset="1" stop-color="#c9cacb"/></linearGradient></defs>
<rect x="1860.9" y="391.6" width="30.4" height="163" fill="url(#g2)" stroke="#3a3a3a" stroke-width="1.4"/>
<line x1="1860.9" y1="513.85" x2="1866.9" y2="513.85" stroke="#3a3a3a" stroke-width="1.4"/>
<line x1="1885.3" y1="513.85" x2="1891.3" y2="513.85" stroke="#3a3a3a" stroke-width="1.4"/>
<line x1="1860.9" y1="473.1" x2="1866.9" y2="473.1" stroke="#3a3a3a" stroke-width="1.4"/>
<line x1="1885.3" y1="473.1" x2="1891.3" y2="473.1" stroke="#3a3a3a" stroke-width="1.4"/>
<line x1="1860.9" y1="432.35" x2="1866.9" y2="432.35" stroke="#3a3a3a" stroke-width="1.4"/>
<line x1="1885.3" y1="432.35" x2="1891.3" y2="432.35" stroke="#3a3a3a" stroke-width="1.4"/>
<line x1="1866.9" y1="554.6" x2="1885.3" y2="554.6" stroke="#3a3a3a" stroke-width="1.4"/>
<line x1="1866.9" y1="391.6" x2="1885.3" y2="391.6" stroke="#3a3a3a" stroke-width="1.4"/>
<text transform="translate(1863.56,373.9) scale(0.9082,1)" font-size="28.5" fill="#231f20">LD (r</text>
<text transform="translate(1920.57,360) scale(0.9832,1)" font-size="19" fill="#231f20">2</text>
<text x="1930.13" y="373.9" font-size="28.5" fill="#231f20">)</text>
<text transform="translate(1894.22,402.1) scale(0.8146,1)" font-size="19.3" fill="#231f20">1</text>
<text transform="translate(1896.47,436.9) scale(0.9474,1)" font-size="19.3" fill="#231f20">0.75</text>
<text transform="translate(1897.74,483.5) scale(0.9849,1)" font-size="19.3" fill="#231f20">0.50</text>
<text transform="translate(1897.75,523.5) scale(0.9668,1)" font-size="19.3" fill="#231f20">0.25</text>
<text transform="translate(1897.14,558.9) scale(0.9874,1)" font-size="19.3" fill="#231f20">0</text>
<defs><linearGradient id="g3" x1="0" y1="0" x2="0" y2="1"><stop offset="0" stop-color="#f5c062"/><stop offset="1" stop-color="#c9cacb"/></linearGradient></defs>
<rect x="1861.2" y="658.2" width="30.1" height="163.3" fill="url(#g3)" stroke="#3a3a3a" stroke-width="1.4"/>
<line x1="1861.2" y1="780.67" x2="1867.2" y2="780.67" stroke="#3a3a3a" stroke-width="1.4"/>
<line x1="1885.3" y1="780.67" x2="1891.3" y2="780.67" stroke="#3a3a3a" stroke-width="1.4"/>
<line x1="1861.2" y1="739.85" x2="1867.2" y2="739.85" stroke="#3a3a3a" stroke-width="1.4"/>
<line x1="1885.3" y1="739.85" x2="1891.3" y2="739.85" stroke="#3a3a3a" stroke-width="1.4"/>
<line x1="1861.2" y1="699.03" x2="1867.2" y2="699.03" stroke="#3a3a3a" stroke-width="1.4"/>
<line x1="1885.3" y1="699.03" x2="1891.3" y2="699.03" stroke="#3a3a3a" stroke-width="1.4"/>
<line x1="1867.2" y1="821.5" x2="1885.3" y2="821.5" stroke="#3a3a3a" stroke-width="1.4"/>
<line x1="1867.2" y1="658.2" x2="1885.3" y2="658.2" stroke="#3a3a3a" stroke-width="1.4"/>
<text transform="translate(1859.07,638.5) scale(0.9065,1)" font-size="28.5" fill="#231f20">LD (r</text>
<text transform="translate(1915.97,623.9) scale(0.9832,1)" font-size="19" fill="#231f20">2</text>
<text x="1925.53" y="638.5" font-size="28.5" fill="#231f20">)</text>
<text transform="translate(1893.82,666.1) scale(0.8146,1)" font-size="19.3" fill="#231f20">1</text>
<text transform="translate(1895.17,700.8) scale(0.9474,1)" font-size="19.3" fill="#231f20">0.75</text>
<text transform="translate(1896.44,747.4) scale(0.9822,1)" font-size="19.3" fill="#231f20">0.50</text>
<text transform="translate(1896.45,787.4) scale(0.9668,1)" font-size="19.3" fill="#231f20">0.25</text>
<text transform="translate(1895.84,822.8) scale(0.9874,1)" font-size="19.3" fill="#231f20">0</text>
<text transform="translate(1857.11,908.5) scale(0.9296,1)" font-size="28.5" fill="#231f20">LD (r</text>
<text transform="translate(1915.47,893.9) scale(0.9832,1)" font-size="19" fill="#231f20">2</text>
<text x="1924.33" y="908.5" font-size="28.5" fill="#231f20">)</text>
<rect x="1854.4" y="924" width="23.6" height="176" fill="#f4f5f5"/>
<circle cx="1866.8" cy="938.4" r="5.5" fill="#283a6b"/>
<text x="1892.96" y="949.3" font-size="28.6" fill="#111">0-0.2</text>
<circle cx="1866.8" cy="967.78" r="5.5" fill="#5cc4d4"/>
<text x="1892.96" y="978.68" font-size="28.6" fill="#111">0.2-0.4</text>
<circle cx="1866.8" cy="997.16" r="5.5" fill="#73c27b"/>
<text x="1892.96" y="1008.06" font-size="28.6" fill="#111">0.4-0.6</text>
<circle cx="1866.8" cy="1026.54" r="5.5" fill="#f4a623"/>
<text x="1892.96" y="1037.44" font-size="28.6" fill="#111">0.6-0.8</text>
<circle cx="1866.8" cy="1055.92" r="5.5" fill="#e2232b"/>
<text x="1892.96" y="1066.82" font-size="28.6" fill="#111">0.8-1</text>
<circle cx="1866.8" cy="1085.3" r="5.5" fill="#6b5ea8"/>
<text x="1891.74" y="1096.2" font-size="28.6" fill="#111">Lead</text>
<rect x="205" y="63.6" width="376" height="356" fill="none" stroke="#231f20" stroke-width="2"/>
<rect x="205" y="427.2" width="376" height="356" fill="none" stroke="#231f20" stroke-width="2"/>
<rect x="205" y="790.8" width="376" height="356" fill="none" stroke="#231f20" stroke-width="2"/>
<rect x="205" y="1154.4" width="376" height="356" fill="none" stroke="#231f20" stroke-width="2"/>
<rect x="205" y="1518" width="376" height="356" fill="none" stroke="#231f20" stroke-width="2"/>
<rect x="819" y="63.6" width="375.7" height="356" fill="none" stroke="#231f20" stroke-width="2"/>
<rect x="819" y="427.2" width="375.7" height="356" fill="none" stroke="#231f20" stroke-width="2"/>
<rect x="819" y="790.8" width="375.7" height="356" fill="none" stroke="#231f20" stroke-width="2"/>
<rect x="819" y="1154.4" width="375.7" height="356" fill="none" stroke="#231f20" stroke-width="2"/>
<rect x="819" y="1518" width="375.7" height="356" fill="none" stroke="#231f20" stroke-width="2"/>
<rect x="1432.5" y="60.6" width="375.9" height="252.3" fill="none" stroke="#231f20" stroke-width="2"/>
<rect x="1432.5" y="320.77" width="375.9" height="252.3" fill="none" stroke="#231f20" stroke-width="2"/>
<rect x="1432.5" y="580.94" width="375.9" height="252.3" fill="none" stroke="#231f20" stroke-width="2"/>
<rect x="1432.5" y="841.11" width="375.9" height="252.3" fill="none" stroke="#231f20" stroke-width="2"/>
<rect x="1432.5" y="1101.28" width="375.9" height="252.3" fill="none" stroke="#231f20" stroke-width="2"/>
<rect x="1432.5" y="1361.45" width="375.9" height="252.3" fill="none" stroke="#231f20" stroke-width="2"/>
<rect x="1432.5" y="1621.62" width="375.9" height="252.3" fill="none" stroke="#231f20" stroke-width="2"/>
</svg></body></html>
